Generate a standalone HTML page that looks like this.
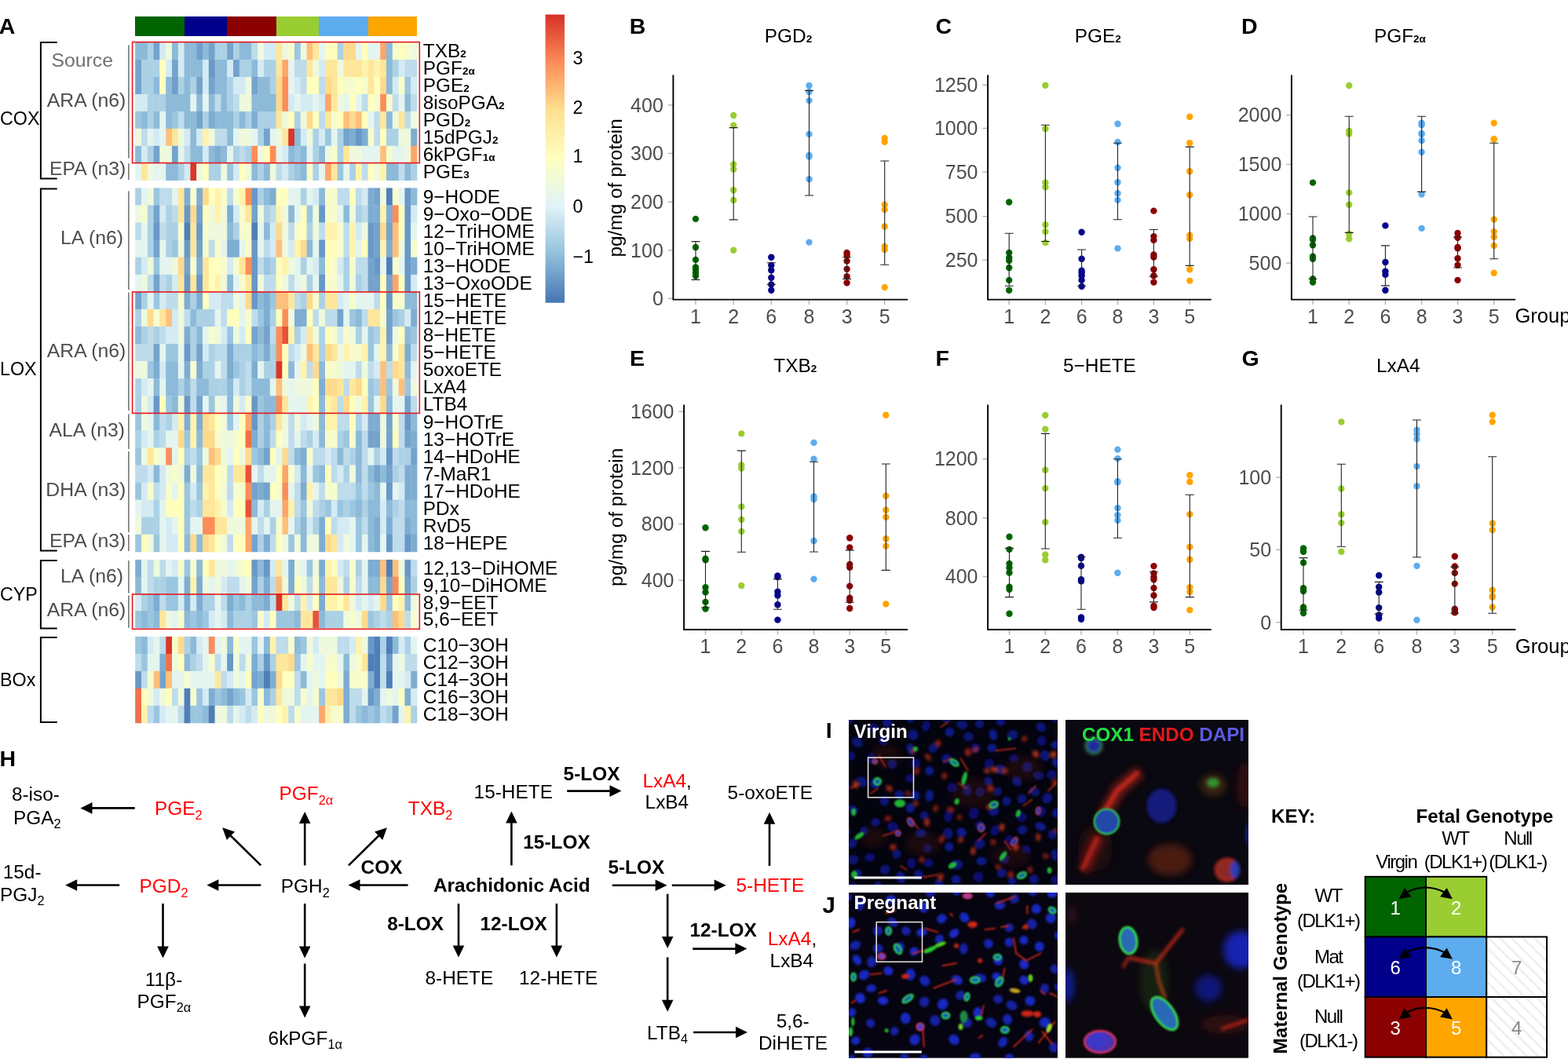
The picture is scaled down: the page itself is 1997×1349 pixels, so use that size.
<!DOCTYPE html><html><head><meta charset="utf-8"><title>Figure</title><style>html,body{margin:0;padding:0;background:#fff;overflow:hidden;}svg{display:block;}text{font-family:"Liberation Sans", Arial, sans-serif;}</style></head><body>
<svg width="1997" height="1349" viewBox="0 0 1997 1349">
<rect width="1997" height="1349" fill="#fff"/>
<g shape-rendering="crispEdges">
<rect x="172.20" y="21.2" width="8.10" height="24.4" fill="#006400"/>
<rect x="180.00" y="21.2" width="8.10" height="24.4" fill="#006400"/>
<rect x="187.80" y="21.2" width="8.10" height="24.4" fill="#006400"/>
<rect x="195.60" y="21.2" width="8.10" height="24.4" fill="#006400"/>
<rect x="203.40" y="21.2" width="8.10" height="24.4" fill="#006400"/>
<rect x="211.20" y="21.2" width="8.10" height="24.4" fill="#006400"/>
<rect x="219.00" y="21.2" width="8.10" height="24.4" fill="#006400"/>
<rect x="226.80" y="21.2" width="8.10" height="24.4" fill="#006400"/>
<rect x="234.60" y="21.2" width="8.10" height="24.4" fill="#00008B"/>
<rect x="242.40" y="21.2" width="8.10" height="24.4" fill="#00008B"/>
<rect x="250.20" y="21.2" width="8.10" height="24.4" fill="#00008B"/>
<rect x="258.00" y="21.2" width="8.10" height="24.4" fill="#00008B"/>
<rect x="265.80" y="21.2" width="8.10" height="24.4" fill="#00008B"/>
<rect x="273.60" y="21.2" width="8.10" height="24.4" fill="#00008B"/>
<rect x="281.40" y="21.2" width="8.10" height="24.4" fill="#00008B"/>
<rect x="289.20" y="21.2" width="8.10" height="24.4" fill="#8B0000"/>
<rect x="297.00" y="21.2" width="8.10" height="24.4" fill="#8B0000"/>
<rect x="304.80" y="21.2" width="8.10" height="24.4" fill="#8B0000"/>
<rect x="312.60" y="21.2" width="8.10" height="24.4" fill="#8B0000"/>
<rect x="320.40" y="21.2" width="8.10" height="24.4" fill="#8B0000"/>
<rect x="328.20" y="21.2" width="8.10" height="24.4" fill="#8B0000"/>
<rect x="336.00" y="21.2" width="8.10" height="24.4" fill="#8B0000"/>
<rect x="343.80" y="21.2" width="8.10" height="24.4" fill="#8B0000"/>
<rect x="351.60" y="21.2" width="8.10" height="24.4" fill="#9ACD32"/>
<rect x="359.40" y="21.2" width="8.10" height="24.4" fill="#9ACD32"/>
<rect x="367.20" y="21.2" width="8.10" height="24.4" fill="#9ACD32"/>
<rect x="375.00" y="21.2" width="8.10" height="24.4" fill="#9ACD32"/>
<rect x="382.80" y="21.2" width="8.10" height="24.4" fill="#9ACD32"/>
<rect x="390.60" y="21.2" width="8.10" height="24.4" fill="#9ACD32"/>
<rect x="398.40" y="21.2" width="8.10" height="24.4" fill="#9ACD32"/>
<rect x="406.20" y="21.2" width="8.10" height="24.4" fill="#5CACEE"/>
<rect x="414.00" y="21.2" width="8.10" height="24.4" fill="#5CACEE"/>
<rect x="421.80" y="21.2" width="8.10" height="24.4" fill="#5CACEE"/>
<rect x="429.60" y="21.2" width="8.10" height="24.4" fill="#5CACEE"/>
<rect x="437.40" y="21.2" width="8.10" height="24.4" fill="#5CACEE"/>
<rect x="445.20" y="21.2" width="8.10" height="24.4" fill="#5CACEE"/>
<rect x="453.00" y="21.2" width="8.10" height="24.4" fill="#5CACEE"/>
<rect x="460.80" y="21.2" width="8.10" height="24.4" fill="#5CACEE"/>
<rect x="468.60" y="21.2" width="8.10" height="24.4" fill="#FFA500"/>
<rect x="476.40" y="21.2" width="8.10" height="24.4" fill="#FFA500"/>
<rect x="484.20" y="21.2" width="8.10" height="24.4" fill="#FFA500"/>
<rect x="492.00" y="21.2" width="8.10" height="24.4" fill="#FFA500"/>
<rect x="499.80" y="21.2" width="8.10" height="24.4" fill="#FFA500"/>
<rect x="507.60" y="21.2" width="8.10" height="24.4" fill="#FFA500"/>
<rect x="515.40" y="21.2" width="8.10" height="24.4" fill="#FFA500"/>
<rect x="523.20" y="21.2" width="8.10" height="24.4" fill="#FFA500"/>
</g>
<g>
<rect x="172.20" y="54.10" width="8.15" height="22.30" fill="#8cbad8"/>
<rect x="180.00" y="54.10" width="8.15" height="22.30" fill="#8cbad8"/>
<rect x="187.80" y="54.10" width="8.15" height="22.30" fill="#acd1e5"/>
<rect x="195.60" y="54.10" width="8.15" height="22.30" fill="#74a3cc"/>
<rect x="203.40" y="54.10" width="8.15" height="22.30" fill="#d4ebf3"/>
<rect x="211.20" y="54.10" width="8.15" height="22.30" fill="#eef9dd"/>
<rect x="219.00" y="54.10" width="8.15" height="22.30" fill="#8cbad8"/>
<rect x="226.80" y="54.10" width="8.15" height="22.30" fill="#d4ebf3"/>
<rect x="234.60" y="54.10" width="8.15" height="22.30" fill="#8cbad8"/>
<rect x="242.40" y="54.10" width="8.15" height="22.30" fill="#8cbad8"/>
<rect x="250.20" y="54.10" width="8.15" height="22.30" fill="#709fca"/>
<rect x="258.00" y="54.10" width="8.15" height="22.30" fill="#8cbad8"/>
<rect x="265.80" y="54.10" width="8.15" height="22.30" fill="#74a3cc"/>
<rect x="273.60" y="54.10" width="8.15" height="22.30" fill="#acd1e5"/>
<rect x="281.40" y="54.10" width="8.15" height="22.30" fill="#acd1e5"/>
<rect x="289.20" y="54.10" width="8.15" height="22.30" fill="#74a3cc"/>
<rect x="297.00" y="54.10" width="8.15" height="22.30" fill="#acd1e5"/>
<rect x="304.80" y="54.10" width="8.15" height="22.30" fill="#8cbad8"/>
<rect x="312.60" y="54.10" width="8.15" height="22.30" fill="#8cbad8"/>
<rect x="320.40" y="54.10" width="8.15" height="22.30" fill="#bedceb"/>
<rect x="328.20" y="54.10" width="8.15" height="22.30" fill="#eef9dd"/>
<rect x="336.00" y="54.10" width="8.15" height="22.30" fill="#d4ebf3"/>
<rect x="343.80" y="54.10" width="8.15" height="22.30" fill="#d4ebf3"/>
<rect x="351.60" y="54.10" width="8.15" height="22.30" fill="#fee79b"/>
<rect x="359.40" y="54.10" width="8.15" height="22.30" fill="#eef9dd"/>
<rect x="367.20" y="54.10" width="8.15" height="22.30" fill="#f7fccd"/>
<rect x="375.00" y="54.10" width="8.15" height="22.30" fill="#9bc6df"/>
<rect x="382.80" y="54.10" width="8.15" height="22.30" fill="#eef9dd"/>
<rect x="390.60" y="54.10" width="8.15" height="22.30" fill="#fdc07b"/>
<rect x="398.40" y="54.10" width="8.15" height="22.30" fill="#fee79b"/>
<rect x="406.20" y="54.10" width="8.15" height="22.30" fill="#e4f5f0"/>
<rect x="414.00" y="54.10" width="8.15" height="22.30" fill="#fffebd"/>
<rect x="421.80" y="54.10" width="8.15" height="22.30" fill="#fffebd"/>
<rect x="429.60" y="54.10" width="8.15" height="22.30" fill="#acd1e5"/>
<rect x="437.40" y="54.10" width="8.15" height="22.30" fill="#feda8c"/>
<rect x="445.20" y="54.10" width="8.15" height="22.30" fill="#feda8c"/>
<rect x="453.00" y="54.10" width="8.15" height="22.30" fill="#e4f5f0"/>
<rect x="460.80" y="54.10" width="8.15" height="22.30" fill="#fffebd"/>
<rect x="468.60" y="54.10" width="8.15" height="22.30" fill="#e4f5f0"/>
<rect x="476.40" y="54.10" width="8.15" height="22.30" fill="#e4f5f0"/>
<rect x="484.20" y="54.10" width="8.15" height="22.30" fill="#fda66a"/>
<rect x="492.00" y="54.10" width="8.15" height="22.30" fill="#8cbad8"/>
<rect x="499.80" y="54.10" width="8.15" height="22.30" fill="#f7fccd"/>
<rect x="507.60" y="54.10" width="8.15" height="22.30" fill="#fffebd"/>
<rect x="515.40" y="54.10" width="8.15" height="22.30" fill="#f7fccd"/>
<rect x="523.20" y="54.10" width="8.15" height="22.30" fill="#eef9dd"/>
<rect x="172.20" y="76.05" width="8.15" height="22.30" fill="#74a3cc"/>
<rect x="180.00" y="76.05" width="8.15" height="22.30" fill="#acd1e5"/>
<rect x="187.80" y="76.05" width="8.15" height="22.30" fill="#acd1e5"/>
<rect x="195.60" y="76.05" width="8.15" height="22.30" fill="#acd1e5"/>
<rect x="203.40" y="76.05" width="8.15" height="22.30" fill="#fffebd"/>
<rect x="211.20" y="76.05" width="8.15" height="22.30" fill="#d4ebf3"/>
<rect x="219.00" y="76.05" width="8.15" height="22.30" fill="#74a3cc"/>
<rect x="226.80" y="76.05" width="8.15" height="22.30" fill="#d4ebf3"/>
<rect x="234.60" y="76.05" width="8.15" height="22.30" fill="#8cbad8"/>
<rect x="242.40" y="76.05" width="8.15" height="22.30" fill="#8cbad8"/>
<rect x="250.20" y="76.05" width="8.15" height="22.30" fill="#8cbad8"/>
<rect x="258.00" y="76.05" width="8.15" height="22.30" fill="#d4ebf3"/>
<rect x="265.80" y="76.05" width="8.15" height="22.30" fill="#6998c7"/>
<rect x="273.60" y="76.05" width="8.15" height="22.30" fill="#8cbad8"/>
<rect x="281.40" y="76.05" width="8.15" height="22.30" fill="#8cbad8"/>
<rect x="289.20" y="76.05" width="8.15" height="22.30" fill="#d4ebf3"/>
<rect x="297.00" y="76.05" width="8.15" height="22.30" fill="#74a3cc"/>
<rect x="304.80" y="76.05" width="8.15" height="22.30" fill="#acd1e5"/>
<rect x="312.60" y="76.05" width="8.15" height="22.30" fill="#acd1e5"/>
<rect x="320.40" y="76.05" width="8.15" height="22.30" fill="#8cbad8"/>
<rect x="328.20" y="76.05" width="8.15" height="22.30" fill="#d4ebf3"/>
<rect x="336.00" y="76.05" width="8.15" height="22.30" fill="#acd1e5"/>
<rect x="343.80" y="76.05" width="8.15" height="22.30" fill="#acd1e5"/>
<rect x="351.60" y="76.05" width="8.15" height="22.30" fill="#fee79b"/>
<rect x="359.40" y="76.05" width="8.15" height="22.30" fill="#fda66a"/>
<rect x="367.20" y="76.05" width="8.15" height="22.30" fill="#e4f5f0"/>
<rect x="375.00" y="76.05" width="8.15" height="22.30" fill="#bedceb"/>
<rect x="382.80" y="76.05" width="8.15" height="22.30" fill="#bedceb"/>
<rect x="390.60" y="76.05" width="8.15" height="22.30" fill="#fee79b"/>
<rect x="398.40" y="76.05" width="8.15" height="22.30" fill="#eef9dd"/>
<rect x="406.20" y="76.05" width="8.15" height="22.30" fill="#d4ebf3"/>
<rect x="414.00" y="76.05" width="8.15" height="22.30" fill="#fee79b"/>
<rect x="421.80" y="76.05" width="8.15" height="22.30" fill="#fee79b"/>
<rect x="429.60" y="76.05" width="8.15" height="22.30" fill="#eef9dd"/>
<rect x="437.40" y="76.05" width="8.15" height="22.30" fill="#fee79b"/>
<rect x="445.20" y="76.05" width="8.15" height="22.30" fill="#fee79b"/>
<rect x="453.00" y="76.05" width="8.15" height="22.30" fill="#fee79b"/>
<rect x="460.80" y="76.05" width="8.15" height="22.30" fill="#fff3ac"/>
<rect x="468.60" y="76.05" width="8.15" height="22.30" fill="#fee79b"/>
<rect x="476.40" y="76.05" width="8.15" height="22.30" fill="#fff3ac"/>
<rect x="484.20" y="76.05" width="8.15" height="22.30" fill="#fee79b"/>
<rect x="492.00" y="76.05" width="8.15" height="22.30" fill="#8cbad8"/>
<rect x="499.80" y="76.05" width="8.15" height="22.30" fill="#acd1e5"/>
<rect x="507.60" y="76.05" width="8.15" height="22.30" fill="#d4ebf3"/>
<rect x="515.40" y="76.05" width="8.15" height="22.30" fill="#bedceb"/>
<rect x="523.20" y="76.05" width="8.15" height="22.30" fill="#bedceb"/>
<rect x="172.20" y="98.00" width="8.15" height="22.30" fill="#74a3cc"/>
<rect x="180.00" y="98.00" width="8.15" height="22.30" fill="#acd1e5"/>
<rect x="187.80" y="98.00" width="8.15" height="22.30" fill="#acd1e5"/>
<rect x="195.60" y="98.00" width="8.15" height="22.30" fill="#8cbad8"/>
<rect x="203.40" y="98.00" width="8.15" height="22.30" fill="#fffebd"/>
<rect x="211.20" y="98.00" width="8.15" height="22.30" fill="#8cbad8"/>
<rect x="219.00" y="98.00" width="8.15" height="22.30" fill="#709fca"/>
<rect x="226.80" y="98.00" width="8.15" height="22.30" fill="#acd1e5"/>
<rect x="234.60" y="98.00" width="8.15" height="22.30" fill="#8cbad8"/>
<rect x="242.40" y="98.00" width="8.15" height="22.30" fill="#acd1e5"/>
<rect x="250.20" y="98.00" width="8.15" height="22.30" fill="#74a3cc"/>
<rect x="258.00" y="98.00" width="8.15" height="22.30" fill="#d4ebf3"/>
<rect x="265.80" y="98.00" width="8.15" height="22.30" fill="#74a3cc"/>
<rect x="273.60" y="98.00" width="8.15" height="22.30" fill="#8cbad8"/>
<rect x="281.40" y="98.00" width="8.15" height="22.30" fill="#8cbad8"/>
<rect x="289.20" y="98.00" width="8.15" height="22.30" fill="#acd1e5"/>
<rect x="297.00" y="98.00" width="8.15" height="22.30" fill="#d4ebf3"/>
<rect x="304.80" y="98.00" width="8.15" height="22.30" fill="#d4ebf3"/>
<rect x="312.60" y="98.00" width="8.15" height="22.30" fill="#eef9dd"/>
<rect x="320.40" y="98.00" width="8.15" height="22.30" fill="#74a3cc"/>
<rect x="328.20" y="98.00" width="8.15" height="22.30" fill="#8cbad8"/>
<rect x="336.00" y="98.00" width="8.15" height="22.30" fill="#8cbad8"/>
<rect x="343.80" y="98.00" width="8.15" height="22.30" fill="#acd1e5"/>
<rect x="351.60" y="98.00" width="8.15" height="22.30" fill="#feda8c"/>
<rect x="359.40" y="98.00" width="8.15" height="22.30" fill="#fc8d59"/>
<rect x="367.20" y="98.00" width="8.15" height="22.30" fill="#e4f5f0"/>
<rect x="375.00" y="98.00" width="8.15" height="22.30" fill="#d4ebf3"/>
<rect x="382.80" y="98.00" width="8.15" height="22.30" fill="#bedceb"/>
<rect x="390.60" y="98.00" width="8.15" height="22.30" fill="#fffebd"/>
<rect x="398.40" y="98.00" width="8.15" height="22.30" fill="#fffebd"/>
<rect x="406.20" y="98.00" width="8.15" height="22.30" fill="#bedceb"/>
<rect x="414.00" y="98.00" width="8.15" height="22.30" fill="#feda8c"/>
<rect x="421.80" y="98.00" width="8.15" height="22.30" fill="#fee79b"/>
<rect x="429.60" y="98.00" width="8.15" height="22.30" fill="#fffebd"/>
<rect x="437.40" y="98.00" width="8.15" height="22.30" fill="#f7fccd"/>
<rect x="445.20" y="98.00" width="8.15" height="22.30" fill="#f7fccd"/>
<rect x="453.00" y="98.00" width="8.15" height="22.30" fill="#fffebd"/>
<rect x="460.80" y="98.00" width="8.15" height="22.30" fill="#f7fccd"/>
<rect x="468.60" y="98.00" width="8.15" height="22.30" fill="#fee79b"/>
<rect x="476.40" y="98.00" width="8.15" height="22.30" fill="#fffebd"/>
<rect x="484.20" y="98.00" width="8.15" height="22.30" fill="#feda8c"/>
<rect x="492.00" y="98.00" width="8.15" height="22.30" fill="#8cbad8"/>
<rect x="499.80" y="98.00" width="8.15" height="22.30" fill="#d4ebf3"/>
<rect x="507.60" y="98.00" width="8.15" height="22.30" fill="#f7fccd"/>
<rect x="515.40" y="98.00" width="8.15" height="22.30" fill="#9bc6df"/>
<rect x="523.20" y="98.00" width="8.15" height="22.30" fill="#d4ebf3"/>
<rect x="172.20" y="119.95" width="8.15" height="22.30" fill="#d4ebf3"/>
<rect x="180.00" y="119.95" width="8.15" height="22.30" fill="#d4ebf3"/>
<rect x="187.80" y="119.95" width="8.15" height="22.30" fill="#acd1e5"/>
<rect x="195.60" y="119.95" width="8.15" height="22.30" fill="#acd1e5"/>
<rect x="203.40" y="119.95" width="8.15" height="22.30" fill="#acd1e5"/>
<rect x="211.20" y="119.95" width="8.15" height="22.30" fill="#8cbad8"/>
<rect x="219.00" y="119.95" width="8.15" height="22.30" fill="#8cbad8"/>
<rect x="226.80" y="119.95" width="8.15" height="22.30" fill="#8cbad8"/>
<rect x="234.60" y="119.95" width="8.15" height="22.30" fill="#8cbad8"/>
<rect x="242.40" y="119.95" width="8.15" height="22.30" fill="#e4f5f0"/>
<rect x="250.20" y="119.95" width="8.15" height="22.30" fill="#8cbad8"/>
<rect x="258.00" y="119.95" width="8.15" height="22.30" fill="#e4f5f0"/>
<rect x="265.80" y="119.95" width="8.15" height="22.30" fill="#8cbad8"/>
<rect x="273.60" y="119.95" width="8.15" height="22.30" fill="#bedceb"/>
<rect x="281.40" y="119.95" width="8.15" height="22.30" fill="#8cbad8"/>
<rect x="289.20" y="119.95" width="8.15" height="22.30" fill="#acd1e5"/>
<rect x="297.00" y="119.95" width="8.15" height="22.30" fill="#bedceb"/>
<rect x="304.80" y="119.95" width="8.15" height="22.30" fill="#eef9dd"/>
<rect x="312.60" y="119.95" width="8.15" height="22.30" fill="#eef9dd"/>
<rect x="320.40" y="119.95" width="8.15" height="22.30" fill="#8cbad8"/>
<rect x="328.20" y="119.95" width="8.15" height="22.30" fill="#8cbad8"/>
<rect x="336.00" y="119.95" width="8.15" height="22.30" fill="#8cbad8"/>
<rect x="343.80" y="119.95" width="8.15" height="22.30" fill="#8cbad8"/>
<rect x="351.60" y="119.95" width="8.15" height="22.30" fill="#feda8c"/>
<rect x="359.40" y="119.95" width="8.15" height="22.30" fill="#fc8d59"/>
<rect x="367.20" y="119.95" width="8.15" height="22.30" fill="#d4ebf3"/>
<rect x="375.00" y="119.95" width="8.15" height="22.30" fill="#e4f5f0"/>
<rect x="382.80" y="119.95" width="8.15" height="22.30" fill="#d4ebf3"/>
<rect x="390.60" y="119.95" width="8.15" height="22.30" fill="#d4ebf3"/>
<rect x="398.40" y="119.95" width="8.15" height="22.30" fill="#e4f5f0"/>
<rect x="406.20" y="119.95" width="8.15" height="22.30" fill="#d4ebf3"/>
<rect x="414.00" y="119.95" width="8.15" height="22.30" fill="#fda66a"/>
<rect x="421.80" y="119.95" width="8.15" height="22.30" fill="#fee79b"/>
<rect x="429.60" y="119.95" width="8.15" height="22.30" fill="#eef9dd"/>
<rect x="437.40" y="119.95" width="8.15" height="22.30" fill="#e4f5f0"/>
<rect x="445.20" y="119.95" width="8.15" height="22.30" fill="#fffebd"/>
<rect x="453.00" y="119.95" width="8.15" height="22.30" fill="#e4f5f0"/>
<rect x="460.80" y="119.95" width="8.15" height="22.30" fill="#bedceb"/>
<rect x="468.60" y="119.95" width="8.15" height="22.30" fill="#fffebd"/>
<rect x="476.40" y="119.95" width="8.15" height="22.30" fill="#f7fccd"/>
<rect x="484.20" y="119.95" width="8.15" height="22.30" fill="#fc8d59"/>
<rect x="492.00" y="119.95" width="8.15" height="22.30" fill="#f7fccd"/>
<rect x="499.80" y="119.95" width="8.15" height="22.30" fill="#bedceb"/>
<rect x="507.60" y="119.95" width="8.15" height="22.30" fill="#e4f5f0"/>
<rect x="515.40" y="119.95" width="8.15" height="22.30" fill="#8cbad8"/>
<rect x="523.20" y="119.95" width="8.15" height="22.30" fill="#bedceb"/>
<rect x="172.20" y="141.90" width="8.15" height="22.30" fill="#9bc6df"/>
<rect x="180.00" y="141.90" width="8.15" height="22.30" fill="#8cbad8"/>
<rect x="187.80" y="141.90" width="8.15" height="22.30" fill="#acd1e5"/>
<rect x="195.60" y="141.90" width="8.15" height="22.30" fill="#8cbad8"/>
<rect x="203.40" y="141.90" width="8.15" height="22.30" fill="#e4f5f0"/>
<rect x="211.20" y="141.90" width="8.15" height="22.30" fill="#8cbad8"/>
<rect x="219.00" y="141.90" width="8.15" height="22.30" fill="#9bc6df"/>
<rect x="226.80" y="141.90" width="8.15" height="22.30" fill="#bedceb"/>
<rect x="234.60" y="141.90" width="8.15" height="22.30" fill="#8cbad8"/>
<rect x="242.40" y="141.90" width="8.15" height="22.30" fill="#8cbad8"/>
<rect x="250.20" y="141.90" width="8.15" height="22.30" fill="#74a3cc"/>
<rect x="258.00" y="141.90" width="8.15" height="22.30" fill="#acd1e5"/>
<rect x="265.80" y="141.90" width="8.15" height="22.30" fill="#7eadd2"/>
<rect x="273.60" y="141.90" width="8.15" height="22.30" fill="#8cbad8"/>
<rect x="281.40" y="141.90" width="8.15" height="22.30" fill="#8cbad8"/>
<rect x="289.20" y="141.90" width="8.15" height="22.30" fill="#8cbad8"/>
<rect x="297.00" y="141.90" width="8.15" height="22.30" fill="#acd1e5"/>
<rect x="304.80" y="141.90" width="8.15" height="22.30" fill="#8cbad8"/>
<rect x="312.60" y="141.90" width="8.15" height="22.30" fill="#acd1e5"/>
<rect x="320.40" y="141.90" width="8.15" height="22.30" fill="#7eadd2"/>
<rect x="328.20" y="141.90" width="8.15" height="22.30" fill="#acd1e5"/>
<rect x="336.00" y="141.90" width="8.15" height="22.30" fill="#acd1e5"/>
<rect x="343.80" y="141.90" width="8.15" height="22.30" fill="#acd1e5"/>
<rect x="351.60" y="141.90" width="8.15" height="22.30" fill="#fee79b"/>
<rect x="359.40" y="141.90" width="8.15" height="22.30" fill="#eef9dd"/>
<rect x="367.20" y="141.90" width="8.15" height="22.30" fill="#fffebd"/>
<rect x="375.00" y="141.90" width="8.15" height="22.30" fill="#acd1e5"/>
<rect x="382.80" y="141.90" width="8.15" height="22.30" fill="#eef9dd"/>
<rect x="390.60" y="141.90" width="8.15" height="22.30" fill="#feda8c"/>
<rect x="398.40" y="141.90" width="8.15" height="22.30" fill="#fffebd"/>
<rect x="406.20" y="141.90" width="8.15" height="22.30" fill="#bedceb"/>
<rect x="414.00" y="141.90" width="8.15" height="22.30" fill="#fee79b"/>
<rect x="421.80" y="141.90" width="8.15" height="22.30" fill="#f7fccd"/>
<rect x="429.60" y="141.90" width="8.15" height="22.30" fill="#fffebd"/>
<rect x="437.40" y="141.90" width="8.15" height="22.30" fill="#fdc07b"/>
<rect x="445.20" y="141.90" width="8.15" height="22.30" fill="#feda8c"/>
<rect x="453.00" y="141.90" width="8.15" height="22.30" fill="#fdc07b"/>
<rect x="460.80" y="141.90" width="8.15" height="22.30" fill="#fffebd"/>
<rect x="468.60" y="141.90" width="8.15" height="22.30" fill="#e4f5f0"/>
<rect x="476.40" y="141.90" width="8.15" height="22.30" fill="#bedceb"/>
<rect x="484.20" y="141.90" width="8.15" height="22.30" fill="#fee79b"/>
<rect x="492.00" y="141.90" width="8.15" height="22.30" fill="#8cbad8"/>
<rect x="499.80" y="141.90" width="8.15" height="22.30" fill="#eef9dd"/>
<rect x="507.60" y="141.90" width="8.15" height="22.30" fill="#fee79b"/>
<rect x="515.40" y="141.90" width="8.15" height="22.30" fill="#bedceb"/>
<rect x="523.20" y="141.90" width="8.15" height="22.30" fill="#eef9dd"/>
<rect x="172.20" y="163.85" width="8.15" height="22.30" fill="#eef9dd"/>
<rect x="180.00" y="163.85" width="8.15" height="22.30" fill="#bedceb"/>
<rect x="187.80" y="163.85" width="8.15" height="22.30" fill="#e4f5f0"/>
<rect x="195.60" y="163.85" width="8.15" height="22.30" fill="#d4ebf3"/>
<rect x="203.40" y="163.85" width="8.15" height="22.30" fill="#e4f5f0"/>
<rect x="211.20" y="163.85" width="8.15" height="22.30" fill="#fdc07b"/>
<rect x="219.00" y="163.85" width="8.15" height="22.30" fill="#fee79b"/>
<rect x="226.80" y="163.85" width="8.15" height="22.30" fill="#eef9dd"/>
<rect x="234.60" y="163.85" width="8.15" height="22.30" fill="#d4ebf3"/>
<rect x="242.40" y="163.85" width="8.15" height="22.30" fill="#8cbad8"/>
<rect x="250.20" y="163.85" width="8.15" height="22.30" fill="#d4ebf3"/>
<rect x="258.00" y="163.85" width="8.15" height="22.30" fill="#fff3ac"/>
<rect x="265.80" y="163.85" width="8.15" height="22.30" fill="#eef9dd"/>
<rect x="273.60" y="163.85" width="8.15" height="22.30" fill="#bedceb"/>
<rect x="281.40" y="163.85" width="8.15" height="22.30" fill="#bedceb"/>
<rect x="289.20" y="163.85" width="8.15" height="22.30" fill="#8cbad8"/>
<rect x="297.00" y="163.85" width="8.15" height="22.30" fill="#e4f5f0"/>
<rect x="304.80" y="163.85" width="8.15" height="22.30" fill="#eef9dd"/>
<rect x="312.60" y="163.85" width="8.15" height="22.30" fill="#eef9dd"/>
<rect x="320.40" y="163.85" width="8.15" height="22.30" fill="#e4f5f0"/>
<rect x="328.20" y="163.85" width="8.15" height="22.30" fill="#acd1e5"/>
<rect x="336.00" y="163.85" width="8.15" height="22.30" fill="#74a3cc"/>
<rect x="343.80" y="163.85" width="8.15" height="22.30" fill="#e4f5f0"/>
<rect x="351.60" y="163.85" width="8.15" height="22.30" fill="#eef9dd"/>
<rect x="359.40" y="163.85" width="8.15" height="22.30" fill="#fee79b"/>
<rect x="367.20" y="163.85" width="8.15" height="22.30" fill="#d9362a"/>
<rect x="375.00" y="163.85" width="8.15" height="22.30" fill="#8cbad8"/>
<rect x="382.80" y="163.85" width="8.15" height="22.30" fill="#d4ebf3"/>
<rect x="390.60" y="163.85" width="8.15" height="22.30" fill="#eef9dd"/>
<rect x="398.40" y="163.85" width="8.15" height="22.30" fill="#acd1e5"/>
<rect x="406.20" y="163.85" width="8.15" height="22.30" fill="#d4ebf3"/>
<rect x="414.00" y="163.85" width="8.15" height="22.30" fill="#9bc6df"/>
<rect x="421.80" y="163.85" width="8.15" height="22.30" fill="#e4f5f0"/>
<rect x="429.60" y="163.85" width="8.15" height="22.30" fill="#acd1e5"/>
<rect x="437.40" y="163.85" width="8.15" height="22.30" fill="#74a3cc"/>
<rect x="445.20" y="163.85" width="8.15" height="22.30" fill="#7eadd2"/>
<rect x="453.00" y="163.85" width="8.15" height="22.30" fill="#6998c7"/>
<rect x="460.80" y="163.85" width="8.15" height="22.30" fill="#7eadd2"/>
<rect x="468.60" y="163.85" width="8.15" height="22.30" fill="#f7fccd"/>
<rect x="476.40" y="163.85" width="8.15" height="22.30" fill="#bedceb"/>
<rect x="484.20" y="163.85" width="8.15" height="22.30" fill="#fffebd"/>
<rect x="492.00" y="163.85" width="8.15" height="22.30" fill="#acd1e5"/>
<rect x="499.80" y="163.85" width="8.15" height="22.30" fill="#acd1e5"/>
<rect x="507.60" y="163.85" width="8.15" height="22.30" fill="#eef9dd"/>
<rect x="515.40" y="163.85" width="8.15" height="22.30" fill="#eef9dd"/>
<rect x="523.20" y="163.85" width="8.15" height="22.30" fill="#7eadd2"/>
<rect x="172.20" y="185.80" width="8.15" height="22.30" fill="#8cbad8"/>
<rect x="180.00" y="185.80" width="8.15" height="22.30" fill="#d4ebf3"/>
<rect x="187.80" y="185.80" width="8.15" height="22.30" fill="#acd1e5"/>
<rect x="195.60" y="185.80" width="8.15" height="22.30" fill="#74a3cc"/>
<rect x="203.40" y="185.80" width="8.15" height="22.30" fill="#eef9dd"/>
<rect x="211.20" y="185.80" width="8.15" height="22.30" fill="#eef9dd"/>
<rect x="219.00" y="185.80" width="8.15" height="22.30" fill="#74a3cc"/>
<rect x="226.80" y="185.80" width="8.15" height="22.30" fill="#e4f5f0"/>
<rect x="234.60" y="185.80" width="8.15" height="22.30" fill="#bedceb"/>
<rect x="242.40" y="185.80" width="8.15" height="22.30" fill="#8cbad8"/>
<rect x="250.20" y="185.80" width="8.15" height="22.30" fill="#8cbad8"/>
<rect x="258.00" y="185.80" width="8.15" height="22.30" fill="#d4ebf3"/>
<rect x="265.80" y="185.80" width="8.15" height="22.30" fill="#8cbad8"/>
<rect x="273.60" y="185.80" width="8.15" height="22.30" fill="#7eadd2"/>
<rect x="281.40" y="185.80" width="8.15" height="22.30" fill="#8cbad8"/>
<rect x="289.20" y="185.80" width="8.15" height="22.30" fill="#e4f5f0"/>
<rect x="297.00" y="185.80" width="8.15" height="22.30" fill="#acd1e5"/>
<rect x="304.80" y="185.80" width="8.15" height="22.30" fill="#bedceb"/>
<rect x="312.60" y="185.80" width="8.15" height="22.30" fill="#acd1e5"/>
<rect x="320.40" y="185.80" width="8.15" height="22.30" fill="#fc8d59"/>
<rect x="328.20" y="185.80" width="8.15" height="22.30" fill="#eef9dd"/>
<rect x="336.00" y="185.80" width="8.15" height="22.30" fill="#fffebd"/>
<rect x="343.80" y="185.80" width="8.15" height="22.30" fill="#fc8d59"/>
<rect x="351.60" y="185.80" width="8.15" height="22.30" fill="#e4f5f0"/>
<rect x="359.40" y="185.80" width="8.15" height="22.30" fill="#d4ebf3"/>
<rect x="367.20" y="185.80" width="8.15" height="22.30" fill="#8cbad8"/>
<rect x="375.00" y="185.80" width="8.15" height="22.30" fill="#9bc6df"/>
<rect x="382.80" y="185.80" width="8.15" height="22.30" fill="#8cbad8"/>
<rect x="390.60" y="185.80" width="8.15" height="22.30" fill="#e4f5f0"/>
<rect x="398.40" y="185.80" width="8.15" height="22.30" fill="#acd1e5"/>
<rect x="406.20" y="185.80" width="8.15" height="22.30" fill="#8cbad8"/>
<rect x="414.00" y="185.80" width="8.15" height="22.30" fill="#eef9dd"/>
<rect x="421.80" y="185.80" width="8.15" height="22.30" fill="#f7fccd"/>
<rect x="429.60" y="185.80" width="8.15" height="22.30" fill="#acd1e5"/>
<rect x="437.40" y="185.80" width="8.15" height="22.30" fill="#fee79b"/>
<rect x="445.20" y="185.80" width="8.15" height="22.30" fill="#eef9dd"/>
<rect x="453.00" y="185.80" width="8.15" height="22.30" fill="#eef9dd"/>
<rect x="460.80" y="185.80" width="8.15" height="22.30" fill="#e4f5f0"/>
<rect x="468.60" y="185.80" width="8.15" height="22.30" fill="#e4f5f0"/>
<rect x="476.40" y="185.80" width="8.15" height="22.30" fill="#e4f5f0"/>
<rect x="484.20" y="185.80" width="8.15" height="22.30" fill="#fdc07b"/>
<rect x="492.00" y="185.80" width="8.15" height="22.30" fill="#f7fccd"/>
<rect x="499.80" y="185.80" width="8.15" height="22.30" fill="#e4f5f0"/>
<rect x="507.60" y="185.80" width="8.15" height="22.30" fill="#e4f5f0"/>
<rect x="515.40" y="185.80" width="8.15" height="22.30" fill="#eef9dd"/>
<rect x="523.20" y="185.80" width="8.15" height="22.30" fill="#fda66a"/>
<rect x="172.20" y="207.75" width="8.15" height="22.30" fill="#e4f5f0"/>
<rect x="180.00" y="207.75" width="8.15" height="22.30" fill="#fee79b"/>
<rect x="187.80" y="207.75" width="8.15" height="22.30" fill="#eef9dd"/>
<rect x="195.60" y="207.75" width="8.15" height="22.30" fill="#e4f5f0"/>
<rect x="203.40" y="207.75" width="8.15" height="22.30" fill="#e4f5f0"/>
<rect x="211.20" y="207.75" width="8.15" height="22.30" fill="#8cbad8"/>
<rect x="219.00" y="207.75" width="8.15" height="22.30" fill="#8cbad8"/>
<rect x="226.80" y="207.75" width="8.15" height="22.30" fill="#acd1e5"/>
<rect x="234.60" y="207.75" width="8.15" height="22.30" fill="#d4ebf3"/>
<rect x="242.40" y="207.75" width="8.15" height="22.30" fill="#d9362a"/>
<rect x="250.20" y="207.75" width="8.15" height="22.30" fill="#eef9dd"/>
<rect x="258.00" y="207.75" width="8.15" height="22.30" fill="#fffebd"/>
<rect x="265.80" y="207.75" width="8.15" height="22.30" fill="#acd1e5"/>
<rect x="273.60" y="207.75" width="8.15" height="22.30" fill="#acd1e5"/>
<rect x="281.40" y="207.75" width="8.15" height="22.30" fill="#eef9dd"/>
<rect x="289.20" y="207.75" width="8.15" height="22.30" fill="#9bc6df"/>
<rect x="297.00" y="207.75" width="8.15" height="22.30" fill="#d4ebf3"/>
<rect x="304.80" y="207.75" width="8.15" height="22.30" fill="#fffebd"/>
<rect x="312.60" y="207.75" width="8.15" height="22.30" fill="#eef9dd"/>
<rect x="320.40" y="207.75" width="8.15" height="22.30" fill="#8cbad8"/>
<rect x="328.20" y="207.75" width="8.15" height="22.30" fill="#acd1e5"/>
<rect x="336.00" y="207.75" width="8.15" height="22.30" fill="#8cbad8"/>
<rect x="343.80" y="207.75" width="8.15" height="22.30" fill="#eef9dd"/>
<rect x="351.60" y="207.75" width="8.15" height="22.30" fill="#bedceb"/>
<rect x="359.40" y="207.75" width="8.15" height="22.30" fill="#d4ebf3"/>
<rect x="367.20" y="207.75" width="8.15" height="22.30" fill="#acd1e5"/>
<rect x="375.00" y="207.75" width="8.15" height="22.30" fill="#9bc6df"/>
<rect x="382.80" y="207.75" width="8.15" height="22.30" fill="#8cbad8"/>
<rect x="390.60" y="207.75" width="8.15" height="22.30" fill="#f7fccd"/>
<rect x="398.40" y="207.75" width="8.15" height="22.30" fill="#acd1e5"/>
<rect x="406.20" y="207.75" width="8.15" height="22.30" fill="#e4f5f0"/>
<rect x="414.00" y="207.75" width="8.15" height="22.30" fill="#fda66a"/>
<rect x="421.80" y="207.75" width="8.15" height="22.30" fill="#fee79b"/>
<rect x="429.60" y="207.75" width="8.15" height="22.30" fill="#9bc6df"/>
<rect x="437.40" y="207.75" width="8.15" height="22.30" fill="#e4f5f0"/>
<rect x="445.20" y="207.75" width="8.15" height="22.30" fill="#acd1e5"/>
<rect x="453.00" y="207.75" width="8.15" height="22.30" fill="#fff3ac"/>
<rect x="460.80" y="207.75" width="8.15" height="22.30" fill="#bedceb"/>
<rect x="468.60" y="207.75" width="8.15" height="22.30" fill="#fffebd"/>
<rect x="476.40" y="207.75" width="8.15" height="22.30" fill="#eef9dd"/>
<rect x="484.20" y="207.75" width="8.15" height="22.30" fill="#fff3ac"/>
<rect x="492.00" y="207.75" width="8.15" height="22.30" fill="#8cbad8"/>
<rect x="499.80" y="207.75" width="8.15" height="22.30" fill="#8cbad8"/>
<rect x="507.60" y="207.75" width="8.15" height="22.30" fill="#bedceb"/>
<rect x="515.40" y="207.75" width="8.15" height="22.30" fill="#8cbad8"/>
<rect x="523.20" y="207.75" width="8.15" height="22.30" fill="#acd1e5"/>
<rect x="172.20" y="239.40" width="8.15" height="22.42" fill="#acd1e5"/>
<rect x="180.00" y="239.40" width="8.15" height="22.42" fill="#e4f5f0"/>
<rect x="187.80" y="239.40" width="8.15" height="22.42" fill="#eef9dd"/>
<rect x="195.60" y="239.40" width="8.15" height="22.42" fill="#9bc6df"/>
<rect x="203.40" y="239.40" width="8.15" height="22.42" fill="#bedceb"/>
<rect x="211.20" y="239.40" width="8.15" height="22.42" fill="#bedceb"/>
<rect x="219.00" y="239.40" width="8.15" height="22.42" fill="#e4f5f0"/>
<rect x="226.80" y="239.40" width="8.15" height="22.42" fill="#fee79b"/>
<rect x="234.60" y="239.40" width="8.15" height="22.42" fill="#7eadd2"/>
<rect x="242.40" y="239.40" width="8.15" height="22.42" fill="#f7fccd"/>
<rect x="250.20" y="239.40" width="8.15" height="22.42" fill="#7eadd2"/>
<rect x="258.00" y="239.40" width="8.15" height="22.42" fill="#feda8c"/>
<rect x="265.80" y="239.40" width="8.15" height="22.42" fill="#fffebd"/>
<rect x="273.60" y="239.40" width="8.15" height="22.42" fill="#fff3ac"/>
<rect x="281.40" y="239.40" width="8.15" height="22.42" fill="#f7fccd"/>
<rect x="289.20" y="239.40" width="8.15" height="22.42" fill="#bedceb"/>
<rect x="297.00" y="239.40" width="8.15" height="22.42" fill="#f7fccd"/>
<rect x="304.80" y="239.40" width="8.15" height="22.42" fill="#fff3ac"/>
<rect x="312.60" y="239.40" width="8.15" height="22.42" fill="#fc8d59"/>
<rect x="320.40" y="239.40" width="8.15" height="22.42" fill="#6998c7"/>
<rect x="328.20" y="239.40" width="8.15" height="22.42" fill="#acd1e5"/>
<rect x="336.00" y="239.40" width="8.15" height="22.42" fill="#8cbad8"/>
<rect x="343.80" y="239.40" width="8.15" height="22.42" fill="#7eadd2"/>
<rect x="351.60" y="239.40" width="8.15" height="22.42" fill="#fffebd"/>
<rect x="359.40" y="239.40" width="8.15" height="22.42" fill="#fffebd"/>
<rect x="367.20" y="239.40" width="8.15" height="22.42" fill="#e4f5f0"/>
<rect x="375.00" y="239.40" width="8.15" height="22.42" fill="#e4f5f0"/>
<rect x="382.80" y="239.40" width="8.15" height="22.42" fill="#acd1e5"/>
<rect x="390.60" y="239.40" width="8.15" height="22.42" fill="#e4f5f0"/>
<rect x="398.40" y="239.40" width="8.15" height="22.42" fill="#d4ebf3"/>
<rect x="406.20" y="239.40" width="8.15" height="22.42" fill="#8cbad8"/>
<rect x="414.00" y="239.40" width="8.15" height="22.42" fill="#f7fccd"/>
<rect x="421.80" y="239.40" width="8.15" height="22.42" fill="#f7fccd"/>
<rect x="429.60" y="239.40" width="8.15" height="22.42" fill="#bedceb"/>
<rect x="437.40" y="239.40" width="8.15" height="22.42" fill="#bedceb"/>
<rect x="445.20" y="239.40" width="8.15" height="22.42" fill="#fffebd"/>
<rect x="453.00" y="239.40" width="8.15" height="22.42" fill="#bedceb"/>
<rect x="460.80" y="239.40" width="8.15" height="22.42" fill="#d4ebf3"/>
<rect x="468.60" y="239.40" width="8.15" height="22.42" fill="#7eadd2"/>
<rect x="476.40" y="239.40" width="8.15" height="22.42" fill="#74a3cc"/>
<rect x="484.20" y="239.40" width="8.15" height="22.42" fill="#eef9dd"/>
<rect x="492.00" y="239.40" width="8.15" height="22.42" fill="#4f7fb9"/>
<rect x="499.80" y="239.40" width="8.15" height="22.42" fill="#f7fccd"/>
<rect x="507.60" y="239.40" width="8.15" height="22.42" fill="#e4f5f0"/>
<rect x="515.40" y="239.40" width="8.15" height="22.42" fill="#6998c7"/>
<rect x="523.20" y="239.40" width="8.15" height="22.42" fill="#8cbad8"/>
<rect x="172.20" y="261.47" width="8.15" height="22.42" fill="#eef9dd"/>
<rect x="180.00" y="261.47" width="8.15" height="22.42" fill="#f7fccd"/>
<rect x="187.80" y="261.47" width="8.15" height="22.42" fill="#acd1e5"/>
<rect x="195.60" y="261.47" width="8.15" height="22.42" fill="#74a3cc"/>
<rect x="203.40" y="261.47" width="8.15" height="22.42" fill="#d4ebf3"/>
<rect x="211.20" y="261.47" width="8.15" height="22.42" fill="#acd1e5"/>
<rect x="219.00" y="261.47" width="8.15" height="22.42" fill="#bedceb"/>
<rect x="226.80" y="261.47" width="8.15" height="22.42" fill="#fee79b"/>
<rect x="234.60" y="261.47" width="8.15" height="22.42" fill="#6998c7"/>
<rect x="242.40" y="261.47" width="8.15" height="22.42" fill="#feda8c"/>
<rect x="250.20" y="261.47" width="8.15" height="22.42" fill="#74a3cc"/>
<rect x="258.00" y="261.47" width="8.15" height="22.42" fill="#fffebd"/>
<rect x="265.80" y="261.47" width="8.15" height="22.42" fill="#eef9dd"/>
<rect x="273.60" y="261.47" width="8.15" height="22.42" fill="#fff3ac"/>
<rect x="281.40" y="261.47" width="8.15" height="22.42" fill="#eef9dd"/>
<rect x="289.20" y="261.47" width="8.15" height="22.42" fill="#7eadd2"/>
<rect x="297.00" y="261.47" width="8.15" height="22.42" fill="#d4ebf3"/>
<rect x="304.80" y="261.47" width="8.15" height="22.42" fill="#f7fccd"/>
<rect x="312.60" y="261.47" width="8.15" height="22.42" fill="#fee79b"/>
<rect x="320.40" y="261.47" width="8.15" height="22.42" fill="#74a3cc"/>
<rect x="328.20" y="261.47" width="8.15" height="22.42" fill="#eef9dd"/>
<rect x="336.00" y="261.47" width="8.15" height="22.42" fill="#acd1e5"/>
<rect x="343.80" y="261.47" width="8.15" height="22.42" fill="#bedceb"/>
<rect x="351.60" y="261.47" width="8.15" height="22.42" fill="#fff3ac"/>
<rect x="359.40" y="261.47" width="8.15" height="22.42" fill="#eef9dd"/>
<rect x="367.20" y="261.47" width="8.15" height="22.42" fill="#8cbad8"/>
<rect x="375.00" y="261.47" width="8.15" height="22.42" fill="#e4f5f0"/>
<rect x="382.80" y="261.47" width="8.15" height="22.42" fill="#fffebd"/>
<rect x="390.60" y="261.47" width="8.15" height="22.42" fill="#9bc6df"/>
<rect x="398.40" y="261.47" width="8.15" height="22.42" fill="#eef9dd"/>
<rect x="406.20" y="261.47" width="8.15" height="22.42" fill="#6998c7"/>
<rect x="414.00" y="261.47" width="8.15" height="22.42" fill="#f7fccd"/>
<rect x="421.80" y="261.47" width="8.15" height="22.42" fill="#f7fccd"/>
<rect x="429.60" y="261.47" width="8.15" height="22.42" fill="#e4f5f0"/>
<rect x="437.40" y="261.47" width="8.15" height="22.42" fill="#8cbad8"/>
<rect x="445.20" y="261.47" width="8.15" height="22.42" fill="#eef9dd"/>
<rect x="453.00" y="261.47" width="8.15" height="22.42" fill="#acd1e5"/>
<rect x="460.80" y="261.47" width="8.15" height="22.42" fill="#bedceb"/>
<rect x="468.60" y="261.47" width="8.15" height="22.42" fill="#7eadd2"/>
<rect x="476.40" y="261.47" width="8.15" height="22.42" fill="#7eadd2"/>
<rect x="484.20" y="261.47" width="8.15" height="22.42" fill="#fff3ac"/>
<rect x="492.00" y="261.47" width="8.15" height="22.42" fill="#7eadd2"/>
<rect x="499.80" y="261.47" width="8.15" height="22.42" fill="#fc8d59"/>
<rect x="507.60" y="261.47" width="8.15" height="22.42" fill="#fffebd"/>
<rect x="515.40" y="261.47" width="8.15" height="22.42" fill="#6998c7"/>
<rect x="523.20" y="261.47" width="8.15" height="22.42" fill="#d4ebf3"/>
<rect x="172.20" y="283.54" width="8.15" height="22.42" fill="#bedceb"/>
<rect x="180.00" y="283.54" width="8.15" height="22.42" fill="#e4f5f0"/>
<rect x="187.80" y="283.54" width="8.15" height="22.42" fill="#acd1e5"/>
<rect x="195.60" y="283.54" width="8.15" height="22.42" fill="#6998c7"/>
<rect x="203.40" y="283.54" width="8.15" height="22.42" fill="#bedceb"/>
<rect x="211.20" y="283.54" width="8.15" height="22.42" fill="#acd1e5"/>
<rect x="219.00" y="283.54" width="8.15" height="22.42" fill="#acd1e5"/>
<rect x="226.80" y="283.54" width="8.15" height="22.42" fill="#f7fccd"/>
<rect x="234.60" y="283.54" width="8.15" height="22.42" fill="#4f7fb9"/>
<rect x="242.40" y="283.54" width="8.15" height="22.42" fill="#fee79b"/>
<rect x="250.20" y="283.54" width="8.15" height="22.42" fill="#6998c7"/>
<rect x="258.00" y="283.54" width="8.15" height="22.42" fill="#f7fccd"/>
<rect x="265.80" y="283.54" width="8.15" height="22.42" fill="#eef9dd"/>
<rect x="273.60" y="283.54" width="8.15" height="22.42" fill="#eef9dd"/>
<rect x="281.40" y="283.54" width="8.15" height="22.42" fill="#eef9dd"/>
<rect x="289.20" y="283.54" width="8.15" height="22.42" fill="#8cbad8"/>
<rect x="297.00" y="283.54" width="8.15" height="22.42" fill="#acd1e5"/>
<rect x="304.80" y="283.54" width="8.15" height="22.42" fill="#f7fccd"/>
<rect x="312.60" y="283.54" width="8.15" height="22.42" fill="#f7fccd"/>
<rect x="320.40" y="283.54" width="8.15" height="22.42" fill="#4f7fb9"/>
<rect x="328.20" y="283.54" width="8.15" height="22.42" fill="#e4f5f0"/>
<rect x="336.00" y="283.54" width="8.15" height="22.42" fill="#8cbad8"/>
<rect x="343.80" y="283.54" width="8.15" height="22.42" fill="#d4ebf3"/>
<rect x="351.60" y="283.54" width="8.15" height="22.42" fill="#feda8c"/>
<rect x="359.40" y="283.54" width="8.15" height="22.42" fill="#eef9dd"/>
<rect x="367.20" y="283.54" width="8.15" height="22.42" fill="#bedceb"/>
<rect x="375.00" y="283.54" width="8.15" height="22.42" fill="#f7fccd"/>
<rect x="382.80" y="283.54" width="8.15" height="22.42" fill="#fffebd"/>
<rect x="390.60" y="283.54" width="8.15" height="22.42" fill="#acd1e5"/>
<rect x="398.40" y="283.54" width="8.15" height="22.42" fill="#eef9dd"/>
<rect x="406.20" y="283.54" width="8.15" height="22.42" fill="#bedceb"/>
<rect x="414.00" y="283.54" width="8.15" height="22.42" fill="#fff3ac"/>
<rect x="421.80" y="283.54" width="8.15" height="22.42" fill="#fff3ac"/>
<rect x="429.60" y="283.54" width="8.15" height="22.42" fill="#f7fccd"/>
<rect x="437.40" y="283.54" width="8.15" height="22.42" fill="#bedceb"/>
<rect x="445.20" y="283.54" width="8.15" height="22.42" fill="#fff3ac"/>
<rect x="453.00" y="283.54" width="8.15" height="22.42" fill="#d4ebf3"/>
<rect x="460.80" y="283.54" width="8.15" height="22.42" fill="#eef9dd"/>
<rect x="468.60" y="283.54" width="8.15" height="22.42" fill="#6998c7"/>
<rect x="476.40" y="283.54" width="8.15" height="22.42" fill="#74a3cc"/>
<rect x="484.20" y="283.54" width="8.15" height="22.42" fill="#feda8c"/>
<rect x="492.00" y="283.54" width="8.15" height="22.42" fill="#74a3cc"/>
<rect x="499.80" y="283.54" width="8.15" height="22.42" fill="#fdc07b"/>
<rect x="507.60" y="283.54" width="8.15" height="22.42" fill="#fffebd"/>
<rect x="515.40" y="283.54" width="8.15" height="22.42" fill="#6998c7"/>
<rect x="523.20" y="283.54" width="8.15" height="22.42" fill="#e4f5f0"/>
<rect x="172.20" y="305.61" width="8.15" height="22.42" fill="#e4f5f0"/>
<rect x="180.00" y="305.61" width="8.15" height="22.42" fill="#e4f5f0"/>
<rect x="187.80" y="305.61" width="8.15" height="22.42" fill="#acd1e5"/>
<rect x="195.60" y="305.61" width="8.15" height="22.42" fill="#74a3cc"/>
<rect x="203.40" y="305.61" width="8.15" height="22.42" fill="#e4f5f0"/>
<rect x="211.20" y="305.61" width="8.15" height="22.42" fill="#acd1e5"/>
<rect x="219.00" y="305.61" width="8.15" height="22.42" fill="#9bc6df"/>
<rect x="226.80" y="305.61" width="8.15" height="22.42" fill="#eef9dd"/>
<rect x="234.60" y="305.61" width="8.15" height="22.42" fill="#6998c7"/>
<rect x="242.40" y="305.61" width="8.15" height="22.42" fill="#fee79b"/>
<rect x="250.20" y="305.61" width="8.15" height="22.42" fill="#74a3cc"/>
<rect x="258.00" y="305.61" width="8.15" height="22.42" fill="#f7fccd"/>
<rect x="265.80" y="305.61" width="8.15" height="22.42" fill="#bedceb"/>
<rect x="273.60" y="305.61" width="8.15" height="22.42" fill="#f7fccd"/>
<rect x="281.40" y="305.61" width="8.15" height="22.42" fill="#e4f5f0"/>
<rect x="289.20" y="305.61" width="8.15" height="22.42" fill="#7eadd2"/>
<rect x="297.00" y="305.61" width="8.15" height="22.42" fill="#7eadd2"/>
<rect x="304.80" y="305.61" width="8.15" height="22.42" fill="#e4f5f0"/>
<rect x="312.60" y="305.61" width="8.15" height="22.42" fill="#f7fccd"/>
<rect x="320.40" y="305.61" width="8.15" height="22.42" fill="#6998c7"/>
<rect x="328.20" y="305.61" width="8.15" height="22.42" fill="#e4f5f0"/>
<rect x="336.00" y="305.61" width="8.15" height="22.42" fill="#bedceb"/>
<rect x="343.80" y="305.61" width="8.15" height="22.42" fill="#d4ebf3"/>
<rect x="351.60" y="305.61" width="8.15" height="22.42" fill="#fdc07b"/>
<rect x="359.40" y="305.61" width="8.15" height="22.42" fill="#eef9dd"/>
<rect x="367.20" y="305.61" width="8.15" height="22.42" fill="#d4ebf3"/>
<rect x="375.00" y="305.61" width="8.15" height="22.42" fill="#fff3ac"/>
<rect x="382.80" y="305.61" width="8.15" height="22.42" fill="#feda8c"/>
<rect x="390.60" y="305.61" width="8.15" height="22.42" fill="#8cbad8"/>
<rect x="398.40" y="305.61" width="8.15" height="22.42" fill="#e4f5f0"/>
<rect x="406.20" y="305.61" width="8.15" height="22.42" fill="#6998c7"/>
<rect x="414.00" y="305.61" width="8.15" height="22.42" fill="#fffebd"/>
<rect x="421.80" y="305.61" width="8.15" height="22.42" fill="#fffebd"/>
<rect x="429.60" y="305.61" width="8.15" height="22.42" fill="#f7fccd"/>
<rect x="437.40" y="305.61" width="8.15" height="22.42" fill="#bedceb"/>
<rect x="445.20" y="305.61" width="8.15" height="22.42" fill="#fff3ac"/>
<rect x="453.00" y="305.61" width="8.15" height="22.42" fill="#e4f5f0"/>
<rect x="460.80" y="305.61" width="8.15" height="22.42" fill="#fffebd"/>
<rect x="468.60" y="305.61" width="8.15" height="22.42" fill="#6998c7"/>
<rect x="476.40" y="305.61" width="8.15" height="22.42" fill="#74a3cc"/>
<rect x="484.20" y="305.61" width="8.15" height="22.42" fill="#fff3ac"/>
<rect x="492.00" y="305.61" width="8.15" height="22.42" fill="#7eadd2"/>
<rect x="499.80" y="305.61" width="8.15" height="22.42" fill="#fdc07b"/>
<rect x="507.60" y="305.61" width="8.15" height="22.42" fill="#eef9dd"/>
<rect x="515.40" y="305.61" width="8.15" height="22.42" fill="#6998c7"/>
<rect x="523.20" y="305.61" width="8.15" height="22.42" fill="#f7fccd"/>
<rect x="172.20" y="327.68" width="8.15" height="22.42" fill="#acd1e5"/>
<rect x="180.00" y="327.68" width="8.15" height="22.42" fill="#d4ebf3"/>
<rect x="187.80" y="327.68" width="8.15" height="22.42" fill="#eef9dd"/>
<rect x="195.60" y="327.68" width="8.15" height="22.42" fill="#9bc6df"/>
<rect x="203.40" y="327.68" width="8.15" height="22.42" fill="#e4f5f0"/>
<rect x="211.20" y="327.68" width="8.15" height="22.42" fill="#e4f5f0"/>
<rect x="219.00" y="327.68" width="8.15" height="22.42" fill="#eef9dd"/>
<rect x="226.80" y="327.68" width="8.15" height="22.42" fill="#feda8c"/>
<rect x="234.60" y="327.68" width="8.15" height="22.42" fill="#74a3cc"/>
<rect x="242.40" y="327.68" width="8.15" height="22.42" fill="#f7fccd"/>
<rect x="250.20" y="327.68" width="8.15" height="22.42" fill="#7eadd2"/>
<rect x="258.00" y="327.68" width="8.15" height="22.42" fill="#fee79b"/>
<rect x="265.80" y="327.68" width="8.15" height="22.42" fill="#fffebd"/>
<rect x="273.60" y="327.68" width="8.15" height="22.42" fill="#fffebd"/>
<rect x="281.40" y="327.68" width="8.15" height="22.42" fill="#f7fccd"/>
<rect x="289.20" y="327.68" width="8.15" height="22.42" fill="#d4ebf3"/>
<rect x="297.00" y="327.68" width="8.15" height="22.42" fill="#f7fccd"/>
<rect x="304.80" y="327.68" width="8.15" height="22.42" fill="#fee79b"/>
<rect x="312.60" y="327.68" width="8.15" height="22.42" fill="#fc8d59"/>
<rect x="320.40" y="327.68" width="8.15" height="22.42" fill="#6998c7"/>
<rect x="328.20" y="327.68" width="8.15" height="22.42" fill="#bedceb"/>
<rect x="336.00" y="327.68" width="8.15" height="22.42" fill="#9bc6df"/>
<rect x="343.80" y="327.68" width="8.15" height="22.42" fill="#acd1e5"/>
<rect x="351.60" y="327.68" width="8.15" height="22.42" fill="#fffebd"/>
<rect x="359.40" y="327.68" width="8.15" height="22.42" fill="#fff3ac"/>
<rect x="367.20" y="327.68" width="8.15" height="22.42" fill="#eef9dd"/>
<rect x="375.00" y="327.68" width="8.15" height="22.42" fill="#e4f5f0"/>
<rect x="382.80" y="327.68" width="8.15" height="22.42" fill="#acd1e5"/>
<rect x="390.60" y="327.68" width="8.15" height="22.42" fill="#e4f5f0"/>
<rect x="398.40" y="327.68" width="8.15" height="22.42" fill="#d4ebf3"/>
<rect x="406.20" y="327.68" width="8.15" height="22.42" fill="#8cbad8"/>
<rect x="414.00" y="327.68" width="8.15" height="22.42" fill="#fffebd"/>
<rect x="421.80" y="327.68" width="8.15" height="22.42" fill="#f7fccd"/>
<rect x="429.60" y="327.68" width="8.15" height="22.42" fill="#d4ebf3"/>
<rect x="437.40" y="327.68" width="8.15" height="22.42" fill="#acd1e5"/>
<rect x="445.20" y="327.68" width="8.15" height="22.42" fill="#f7fccd"/>
<rect x="453.00" y="327.68" width="8.15" height="22.42" fill="#bedceb"/>
<rect x="460.80" y="327.68" width="8.15" height="22.42" fill="#bedceb"/>
<rect x="468.60" y="327.68" width="8.15" height="22.42" fill="#74a3cc"/>
<rect x="476.40" y="327.68" width="8.15" height="22.42" fill="#6998c7"/>
<rect x="484.20" y="327.68" width="8.15" height="22.42" fill="#e4f5f0"/>
<rect x="492.00" y="327.68" width="8.15" height="22.42" fill="#4f7fb9"/>
<rect x="499.80" y="327.68" width="8.15" height="22.42" fill="#f7fccd"/>
<rect x="507.60" y="327.68" width="8.15" height="22.42" fill="#e4f5f0"/>
<rect x="515.40" y="327.68" width="8.15" height="22.42" fill="#6998c7"/>
<rect x="523.20" y="327.68" width="8.15" height="22.42" fill="#7eadd2"/>
<rect x="172.20" y="349.75" width="8.15" height="22.42" fill="#e4f5f0"/>
<rect x="180.00" y="349.75" width="8.15" height="22.42" fill="#eef9dd"/>
<rect x="187.80" y="349.75" width="8.15" height="22.42" fill="#bedceb"/>
<rect x="195.60" y="349.75" width="8.15" height="22.42" fill="#74a3cc"/>
<rect x="203.40" y="349.75" width="8.15" height="22.42" fill="#bedceb"/>
<rect x="211.20" y="349.75" width="8.15" height="22.42" fill="#acd1e5"/>
<rect x="219.00" y="349.75" width="8.15" height="22.42" fill="#d4ebf3"/>
<rect x="226.80" y="349.75" width="8.15" height="22.42" fill="#fee79b"/>
<rect x="234.60" y="349.75" width="8.15" height="22.42" fill="#6998c7"/>
<rect x="242.40" y="349.75" width="8.15" height="22.42" fill="#fee79b"/>
<rect x="250.20" y="349.75" width="8.15" height="22.42" fill="#6998c7"/>
<rect x="258.00" y="349.75" width="8.15" height="22.42" fill="#fee79b"/>
<rect x="265.80" y="349.75" width="8.15" height="22.42" fill="#fffebd"/>
<rect x="273.60" y="349.75" width="8.15" height="22.42" fill="#fff3ac"/>
<rect x="281.40" y="349.75" width="8.15" height="22.42" fill="#eef9dd"/>
<rect x="289.20" y="349.75" width="8.15" height="22.42" fill="#8cbad8"/>
<rect x="297.00" y="349.75" width="8.15" height="22.42" fill="#e4f5f0"/>
<rect x="304.80" y="349.75" width="8.15" height="22.42" fill="#f7fccd"/>
<rect x="312.60" y="349.75" width="8.15" height="22.42" fill="#fee79b"/>
<rect x="320.40" y="349.75" width="8.15" height="22.42" fill="#6998c7"/>
<rect x="328.20" y="349.75" width="8.15" height="22.42" fill="#eef9dd"/>
<rect x="336.00" y="349.75" width="8.15" height="22.42" fill="#bedceb"/>
<rect x="343.80" y="349.75" width="8.15" height="22.42" fill="#bedceb"/>
<rect x="351.60" y="349.75" width="8.15" height="22.42" fill="#fffebd"/>
<rect x="359.40" y="349.75" width="8.15" height="22.42" fill="#eef9dd"/>
<rect x="367.20" y="349.75" width="8.15" height="22.42" fill="#bedceb"/>
<rect x="375.00" y="349.75" width="8.15" height="22.42" fill="#e4f5f0"/>
<rect x="382.80" y="349.75" width="8.15" height="22.42" fill="#eef9dd"/>
<rect x="390.60" y="349.75" width="8.15" height="22.42" fill="#acd1e5"/>
<rect x="398.40" y="349.75" width="8.15" height="22.42" fill="#e4f5f0"/>
<rect x="406.20" y="349.75" width="8.15" height="22.42" fill="#6998c7"/>
<rect x="414.00" y="349.75" width="8.15" height="22.42" fill="#f7fccd"/>
<rect x="421.80" y="349.75" width="8.15" height="22.42" fill="#f7fccd"/>
<rect x="429.60" y="349.75" width="8.15" height="22.42" fill="#e4f5f0"/>
<rect x="437.40" y="349.75" width="8.15" height="22.42" fill="#acd1e5"/>
<rect x="445.20" y="349.75" width="8.15" height="22.42" fill="#eef9dd"/>
<rect x="453.00" y="349.75" width="8.15" height="22.42" fill="#acd1e5"/>
<rect x="460.80" y="349.75" width="8.15" height="22.42" fill="#bedceb"/>
<rect x="468.60" y="349.75" width="8.15" height="22.42" fill="#74a3cc"/>
<rect x="476.40" y="349.75" width="8.15" height="22.42" fill="#74a3cc"/>
<rect x="484.20" y="349.75" width="8.15" height="22.42" fill="#fffebd"/>
<rect x="492.00" y="349.75" width="8.15" height="22.42" fill="#74a3cc"/>
<rect x="499.80" y="349.75" width="8.15" height="22.42" fill="#fda66a"/>
<rect x="507.60" y="349.75" width="8.15" height="22.42" fill="#fffebd"/>
<rect x="515.40" y="349.75" width="8.15" height="22.42" fill="#6998c7"/>
<rect x="523.20" y="349.75" width="8.15" height="22.42" fill="#d4ebf3"/>
<rect x="172.20" y="371.82" width="8.15" height="22.42" fill="#74a3cc"/>
<rect x="180.00" y="371.82" width="8.15" height="22.42" fill="#acd1e5"/>
<rect x="187.80" y="371.82" width="8.15" height="22.42" fill="#e4f5f0"/>
<rect x="195.60" y="371.82" width="8.15" height="22.42" fill="#9bc6df"/>
<rect x="203.40" y="371.82" width="8.15" height="22.42" fill="#d4ebf3"/>
<rect x="211.20" y="371.82" width="8.15" height="22.42" fill="#bedceb"/>
<rect x="219.00" y="371.82" width="8.15" height="22.42" fill="#bedceb"/>
<rect x="226.80" y="371.82" width="8.15" height="22.42" fill="#f7fccd"/>
<rect x="234.60" y="371.82" width="8.15" height="22.42" fill="#7eadd2"/>
<rect x="242.40" y="371.82" width="8.15" height="22.42" fill="#acd1e5"/>
<rect x="250.20" y="371.82" width="8.15" height="22.42" fill="#7eadd2"/>
<rect x="258.00" y="371.82" width="8.15" height="22.42" fill="#fffebd"/>
<rect x="265.80" y="371.82" width="8.15" height="22.42" fill="#d4ebf3"/>
<rect x="273.60" y="371.82" width="8.15" height="22.42" fill="#d4ebf3"/>
<rect x="281.40" y="371.82" width="8.15" height="22.42" fill="#bedceb"/>
<rect x="289.20" y="371.82" width="8.15" height="22.42" fill="#bedceb"/>
<rect x="297.00" y="371.82" width="8.15" height="22.42" fill="#eef9dd"/>
<rect x="304.80" y="371.82" width="8.15" height="22.42" fill="#e4f5f0"/>
<rect x="312.60" y="371.82" width="8.15" height="22.42" fill="#feda8c"/>
<rect x="320.40" y="371.82" width="8.15" height="22.42" fill="#6998c7"/>
<rect x="328.20" y="371.82" width="8.15" height="22.42" fill="#8cbad8"/>
<rect x="336.00" y="371.82" width="8.15" height="22.42" fill="#7eadd2"/>
<rect x="343.80" y="371.82" width="8.15" height="22.42" fill="#9bc6df"/>
<rect x="351.60" y="371.82" width="8.15" height="22.42" fill="#fdc07b"/>
<rect x="359.40" y="371.82" width="8.15" height="22.42" fill="#fdc07b"/>
<rect x="367.20" y="371.82" width="8.15" height="22.42" fill="#fee79b"/>
<rect x="375.00" y="371.82" width="8.15" height="22.42" fill="#bedceb"/>
<rect x="382.80" y="371.82" width="8.15" height="22.42" fill="#acd1e5"/>
<rect x="390.60" y="371.82" width="8.15" height="22.42" fill="#feda8c"/>
<rect x="398.40" y="371.82" width="8.15" height="22.42" fill="#f7fccd"/>
<rect x="406.20" y="371.82" width="8.15" height="22.42" fill="#acd1e5"/>
<rect x="414.00" y="371.82" width="8.15" height="22.42" fill="#fee79b"/>
<rect x="421.80" y="371.82" width="8.15" height="22.42" fill="#fee79b"/>
<rect x="429.60" y="371.82" width="8.15" height="22.42" fill="#d4ebf3"/>
<rect x="437.40" y="371.82" width="8.15" height="22.42" fill="#e4f5f0"/>
<rect x="445.20" y="371.82" width="8.15" height="22.42" fill="#f7fccd"/>
<rect x="453.00" y="371.82" width="8.15" height="22.42" fill="#e4f5f0"/>
<rect x="460.80" y="371.82" width="8.15" height="22.42" fill="#e4f5f0"/>
<rect x="468.60" y="371.82" width="8.15" height="22.42" fill="#e4f5f0"/>
<rect x="476.40" y="371.82" width="8.15" height="22.42" fill="#bedceb"/>
<rect x="484.20" y="371.82" width="8.15" height="22.42" fill="#fffebd"/>
<rect x="492.00" y="371.82" width="8.15" height="22.42" fill="#6998c7"/>
<rect x="499.80" y="371.82" width="8.15" height="22.42" fill="#f7fccd"/>
<rect x="507.60" y="371.82" width="8.15" height="22.42" fill="#f7fccd"/>
<rect x="515.40" y="371.82" width="8.15" height="22.42" fill="#8cbad8"/>
<rect x="523.20" y="371.82" width="8.15" height="22.42" fill="#8cbad8"/>
<rect x="172.20" y="393.89" width="8.15" height="22.42" fill="#acd1e5"/>
<rect x="180.00" y="393.89" width="8.15" height="22.42" fill="#eef9dd"/>
<rect x="187.80" y="393.89" width="8.15" height="22.42" fill="#feda8c"/>
<rect x="195.60" y="393.89" width="8.15" height="22.42" fill="#f7fccd"/>
<rect x="203.40" y="393.89" width="8.15" height="22.42" fill="#fee79b"/>
<rect x="211.20" y="393.89" width="8.15" height="22.42" fill="#fdc07b"/>
<rect x="219.00" y="393.89" width="8.15" height="22.42" fill="#d4ebf3"/>
<rect x="226.80" y="393.89" width="8.15" height="22.42" fill="#eef9dd"/>
<rect x="234.60" y="393.89" width="8.15" height="22.42" fill="#bedceb"/>
<rect x="242.40" y="393.89" width="8.15" height="22.42" fill="#8cbad8"/>
<rect x="250.20" y="393.89" width="8.15" height="22.42" fill="#acd1e5"/>
<rect x="258.00" y="393.89" width="8.15" height="22.42" fill="#acd1e5"/>
<rect x="265.80" y="393.89" width="8.15" height="22.42" fill="#acd1e5"/>
<rect x="273.60" y="393.89" width="8.15" height="22.42" fill="#e4f5f0"/>
<rect x="281.40" y="393.89" width="8.15" height="22.42" fill="#bedceb"/>
<rect x="289.20" y="393.89" width="8.15" height="22.42" fill="#fffebd"/>
<rect x="297.00" y="393.89" width="8.15" height="22.42" fill="#fffebd"/>
<rect x="304.80" y="393.89" width="8.15" height="22.42" fill="#e4f5f0"/>
<rect x="312.60" y="393.89" width="8.15" height="22.42" fill="#f7fccd"/>
<rect x="320.40" y="393.89" width="8.15" height="22.42" fill="#bedceb"/>
<rect x="328.20" y="393.89" width="8.15" height="22.42" fill="#9bc6df"/>
<rect x="336.00" y="393.89" width="8.15" height="22.42" fill="#7eadd2"/>
<rect x="343.80" y="393.89" width="8.15" height="22.42" fill="#acd1e5"/>
<rect x="351.60" y="393.89" width="8.15" height="22.42" fill="#fffebd"/>
<rect x="359.40" y="393.89" width="8.15" height="22.42" fill="#fc8d59"/>
<rect x="367.20" y="393.89" width="8.15" height="22.42" fill="#eef9dd"/>
<rect x="375.00" y="393.89" width="8.15" height="22.42" fill="#7eadd2"/>
<rect x="382.80" y="393.89" width="8.15" height="22.42" fill="#7eadd2"/>
<rect x="390.60" y="393.89" width="8.15" height="22.42" fill="#fffebd"/>
<rect x="398.40" y="393.89" width="8.15" height="22.42" fill="#bedceb"/>
<rect x="406.20" y="393.89" width="8.15" height="22.42" fill="#eef9dd"/>
<rect x="414.00" y="393.89" width="8.15" height="22.42" fill="#bedceb"/>
<rect x="421.80" y="393.89" width="8.15" height="22.42" fill="#bedceb"/>
<rect x="429.60" y="393.89" width="8.15" height="22.42" fill="#74a3cc"/>
<rect x="437.40" y="393.89" width="8.15" height="22.42" fill="#e4f5f0"/>
<rect x="445.20" y="393.89" width="8.15" height="22.42" fill="#9bc6df"/>
<rect x="453.00" y="393.89" width="8.15" height="22.42" fill="#8cbad8"/>
<rect x="460.80" y="393.89" width="8.15" height="22.42" fill="#bedceb"/>
<rect x="468.60" y="393.89" width="8.15" height="22.42" fill="#fee79b"/>
<rect x="476.40" y="393.89" width="8.15" height="22.42" fill="#fee79b"/>
<rect x="484.20" y="393.89" width="8.15" height="22.42" fill="#f7fccd"/>
<rect x="492.00" y="393.89" width="8.15" height="22.42" fill="#74a3cc"/>
<rect x="499.80" y="393.89" width="8.15" height="22.42" fill="#9bc6df"/>
<rect x="507.60" y="393.89" width="8.15" height="22.42" fill="#acd1e5"/>
<rect x="515.40" y="393.89" width="8.15" height="22.42" fill="#d4ebf3"/>
<rect x="523.20" y="393.89" width="8.15" height="22.42" fill="#7eadd2"/>
<rect x="172.20" y="415.96" width="8.15" height="22.42" fill="#8cbad8"/>
<rect x="180.00" y="415.96" width="8.15" height="22.42" fill="#acd1e5"/>
<rect x="187.80" y="415.96" width="8.15" height="22.42" fill="#bedceb"/>
<rect x="195.60" y="415.96" width="8.15" height="22.42" fill="#acd1e5"/>
<rect x="203.40" y="415.96" width="8.15" height="22.42" fill="#bedceb"/>
<rect x="211.20" y="415.96" width="8.15" height="22.42" fill="#d4ebf3"/>
<rect x="219.00" y="415.96" width="8.15" height="22.42" fill="#d4ebf3"/>
<rect x="226.80" y="415.96" width="8.15" height="22.42" fill="#eef9dd"/>
<rect x="234.60" y="415.96" width="8.15" height="22.42" fill="#7eadd2"/>
<rect x="242.40" y="415.96" width="8.15" height="22.42" fill="#acd1e5"/>
<rect x="250.20" y="415.96" width="8.15" height="22.42" fill="#8cbad8"/>
<rect x="258.00" y="415.96" width="8.15" height="22.42" fill="#e4f5f0"/>
<rect x="265.80" y="415.96" width="8.15" height="22.42" fill="#f7fccd"/>
<rect x="273.60" y="415.96" width="8.15" height="22.42" fill="#eef9dd"/>
<rect x="281.40" y="415.96" width="8.15" height="22.42" fill="#d4ebf3"/>
<rect x="289.20" y="415.96" width="8.15" height="22.42" fill="#9bc6df"/>
<rect x="297.00" y="415.96" width="8.15" height="22.42" fill="#eef9dd"/>
<rect x="304.80" y="415.96" width="8.15" height="22.42" fill="#d4ebf3"/>
<rect x="312.60" y="415.96" width="8.15" height="22.42" fill="#fffebd"/>
<rect x="320.40" y="415.96" width="8.15" height="22.42" fill="#74a3cc"/>
<rect x="328.20" y="415.96" width="8.15" height="22.42" fill="#8cbad8"/>
<rect x="336.00" y="415.96" width="8.15" height="22.42" fill="#74a3cc"/>
<rect x="343.80" y="415.96" width="8.15" height="22.42" fill="#bedceb"/>
<rect x="351.60" y="415.96" width="8.15" height="22.42" fill="#fc8d59"/>
<rect x="359.40" y="415.96" width="8.15" height="22.42" fill="#e5533a"/>
<rect x="367.20" y="415.96" width="8.15" height="22.42" fill="#fff3ac"/>
<rect x="375.00" y="415.96" width="8.15" height="22.42" fill="#acd1e5"/>
<rect x="382.80" y="415.96" width="8.15" height="22.42" fill="#d4ebf3"/>
<rect x="390.60" y="415.96" width="8.15" height="22.42" fill="#fee79b"/>
<rect x="398.40" y="415.96" width="8.15" height="22.42" fill="#eef9dd"/>
<rect x="406.20" y="415.96" width="8.15" height="22.42" fill="#acd1e5"/>
<rect x="414.00" y="415.96" width="8.15" height="22.42" fill="#fffebd"/>
<rect x="421.80" y="415.96" width="8.15" height="22.42" fill="#f7fccd"/>
<rect x="429.60" y="415.96" width="8.15" height="22.42" fill="#d4ebf3"/>
<rect x="437.40" y="415.96" width="8.15" height="22.42" fill="#f7fccd"/>
<rect x="445.20" y="415.96" width="8.15" height="22.42" fill="#eef9dd"/>
<rect x="453.00" y="415.96" width="8.15" height="22.42" fill="#acd1e5"/>
<rect x="460.80" y="415.96" width="8.15" height="22.42" fill="#e4f5f0"/>
<rect x="468.60" y="415.96" width="8.15" height="22.42" fill="#9bc6df"/>
<rect x="476.40" y="415.96" width="8.15" height="22.42" fill="#acd1e5"/>
<rect x="484.20" y="415.96" width="8.15" height="22.42" fill="#fff3ac"/>
<rect x="492.00" y="415.96" width="8.15" height="22.42" fill="#74a3cc"/>
<rect x="499.80" y="415.96" width="8.15" height="22.42" fill="#eef9dd"/>
<rect x="507.60" y="415.96" width="8.15" height="22.42" fill="#fffebd"/>
<rect x="515.40" y="415.96" width="8.15" height="22.42" fill="#8cbad8"/>
<rect x="523.20" y="415.96" width="8.15" height="22.42" fill="#9bc6df"/>
<rect x="172.20" y="438.03" width="8.15" height="22.42" fill="#bedceb"/>
<rect x="180.00" y="438.03" width="8.15" height="22.42" fill="#bedceb"/>
<rect x="187.80" y="438.03" width="8.15" height="22.42" fill="#bedceb"/>
<rect x="195.60" y="438.03" width="8.15" height="22.42" fill="#74a3cc"/>
<rect x="203.40" y="438.03" width="8.15" height="22.42" fill="#e4f5f0"/>
<rect x="211.20" y="438.03" width="8.15" height="22.42" fill="#9bc6df"/>
<rect x="219.00" y="438.03" width="8.15" height="22.42" fill="#9bc6df"/>
<rect x="226.80" y="438.03" width="8.15" height="22.42" fill="#e4f5f0"/>
<rect x="234.60" y="438.03" width="8.15" height="22.42" fill="#6998c7"/>
<rect x="242.40" y="438.03" width="8.15" height="22.42" fill="#acd1e5"/>
<rect x="250.20" y="438.03" width="8.15" height="22.42" fill="#74a3cc"/>
<rect x="258.00" y="438.03" width="8.15" height="22.42" fill="#d4ebf3"/>
<rect x="265.80" y="438.03" width="8.15" height="22.42" fill="#acd1e5"/>
<rect x="273.60" y="438.03" width="8.15" height="22.42" fill="#bedceb"/>
<rect x="281.40" y="438.03" width="8.15" height="22.42" fill="#bedceb"/>
<rect x="289.20" y="438.03" width="8.15" height="22.42" fill="#7eadd2"/>
<rect x="297.00" y="438.03" width="8.15" height="22.42" fill="#acd1e5"/>
<rect x="304.80" y="438.03" width="8.15" height="22.42" fill="#acd1e5"/>
<rect x="312.60" y="438.03" width="8.15" height="22.42" fill="#acd1e5"/>
<rect x="320.40" y="438.03" width="8.15" height="22.42" fill="#8cbad8"/>
<rect x="328.20" y="438.03" width="8.15" height="22.42" fill="#9bc6df"/>
<rect x="336.00" y="438.03" width="8.15" height="22.42" fill="#7eadd2"/>
<rect x="343.80" y="438.03" width="8.15" height="22.42" fill="#acd1e5"/>
<rect x="351.60" y="438.03" width="8.15" height="22.42" fill="#fc8d59"/>
<rect x="359.40" y="438.03" width="8.15" height="22.42" fill="#fffebd"/>
<rect x="367.20" y="438.03" width="8.15" height="22.42" fill="#bedceb"/>
<rect x="375.00" y="438.03" width="8.15" height="22.42" fill="#d4ebf3"/>
<rect x="382.80" y="438.03" width="8.15" height="22.42" fill="#eef9dd"/>
<rect x="390.60" y="438.03" width="8.15" height="22.42" fill="#fdc07b"/>
<rect x="398.40" y="438.03" width="8.15" height="22.42" fill="#fee79b"/>
<rect x="406.20" y="438.03" width="8.15" height="22.42" fill="#acd1e5"/>
<rect x="414.00" y="438.03" width="8.15" height="22.42" fill="#feda8c"/>
<rect x="421.80" y="438.03" width="8.15" height="22.42" fill="#fee79b"/>
<rect x="429.60" y="438.03" width="8.15" height="22.42" fill="#eef9dd"/>
<rect x="437.40" y="438.03" width="8.15" height="22.42" fill="#fff3ac"/>
<rect x="445.20" y="438.03" width="8.15" height="22.42" fill="#f7fccd"/>
<rect x="453.00" y="438.03" width="8.15" height="22.42" fill="#f7fccd"/>
<rect x="460.80" y="438.03" width="8.15" height="22.42" fill="#fff3ac"/>
<rect x="468.60" y="438.03" width="8.15" height="22.42" fill="#9bc6df"/>
<rect x="476.40" y="438.03" width="8.15" height="22.42" fill="#e4f5f0"/>
<rect x="484.20" y="438.03" width="8.15" height="22.42" fill="#fff3ac"/>
<rect x="492.00" y="438.03" width="8.15" height="22.42" fill="#8cbad8"/>
<rect x="499.80" y="438.03" width="8.15" height="22.42" fill="#f7fccd"/>
<rect x="507.60" y="438.03" width="8.15" height="22.42" fill="#fee79b"/>
<rect x="515.40" y="438.03" width="8.15" height="22.42" fill="#7eadd2"/>
<rect x="523.20" y="438.03" width="8.15" height="22.42" fill="#bedceb"/>
<rect x="172.20" y="460.10" width="8.15" height="22.42" fill="#eef9dd"/>
<rect x="180.00" y="460.10" width="8.15" height="22.42" fill="#eef9dd"/>
<rect x="187.80" y="460.10" width="8.15" height="22.42" fill="#9bc6df"/>
<rect x="195.60" y="460.10" width="8.15" height="22.42" fill="#7eadd2"/>
<rect x="203.40" y="460.10" width="8.15" height="22.42" fill="#d4ebf3"/>
<rect x="211.20" y="460.10" width="8.15" height="22.42" fill="#8cbad8"/>
<rect x="219.00" y="460.10" width="8.15" height="22.42" fill="#8cbad8"/>
<rect x="226.80" y="460.10" width="8.15" height="22.42" fill="#e4f5f0"/>
<rect x="234.60" y="460.10" width="8.15" height="22.42" fill="#7eadd2"/>
<rect x="242.40" y="460.10" width="8.15" height="22.42" fill="#f7fccd"/>
<rect x="250.20" y="460.10" width="8.15" height="22.42" fill="#7eadd2"/>
<rect x="258.00" y="460.10" width="8.15" height="22.42" fill="#acd1e5"/>
<rect x="265.80" y="460.10" width="8.15" height="22.42" fill="#acd1e5"/>
<rect x="273.60" y="460.10" width="8.15" height="22.42" fill="#e4f5f0"/>
<rect x="281.40" y="460.10" width="8.15" height="22.42" fill="#bedceb"/>
<rect x="289.20" y="460.10" width="8.15" height="22.42" fill="#7eadd2"/>
<rect x="297.00" y="460.10" width="8.15" height="22.42" fill="#9bc6df"/>
<rect x="304.80" y="460.10" width="8.15" height="22.42" fill="#acd1e5"/>
<rect x="312.60" y="460.10" width="8.15" height="22.42" fill="#bedceb"/>
<rect x="320.40" y="460.10" width="8.15" height="22.42" fill="#7eadd2"/>
<rect x="328.20" y="460.10" width="8.15" height="22.42" fill="#e4f5f0"/>
<rect x="336.00" y="460.10" width="8.15" height="22.42" fill="#acd1e5"/>
<rect x="343.80" y="460.10" width="8.15" height="22.42" fill="#acd1e5"/>
<rect x="351.60" y="460.10" width="8.15" height="22.42" fill="#d9362a"/>
<rect x="359.40" y="460.10" width="8.15" height="22.42" fill="#fffebd"/>
<rect x="367.20" y="460.10" width="8.15" height="22.42" fill="#8cbad8"/>
<rect x="375.00" y="460.10" width="8.15" height="22.42" fill="#e4f5f0"/>
<rect x="382.80" y="460.10" width="8.15" height="22.42" fill="#fff3ac"/>
<rect x="390.60" y="460.10" width="8.15" height="22.42" fill="#bedceb"/>
<rect x="398.40" y="460.10" width="8.15" height="22.42" fill="#feda8c"/>
<rect x="406.20" y="460.10" width="8.15" height="22.42" fill="#8cbad8"/>
<rect x="414.00" y="460.10" width="8.15" height="22.42" fill="#f7fccd"/>
<rect x="421.80" y="460.10" width="8.15" height="22.42" fill="#f7fccd"/>
<rect x="429.60" y="460.10" width="8.15" height="22.42" fill="#eef9dd"/>
<rect x="437.40" y="460.10" width="8.15" height="22.42" fill="#e4f5f0"/>
<rect x="445.20" y="460.10" width="8.15" height="22.42" fill="#e4f5f0"/>
<rect x="453.00" y="460.10" width="8.15" height="22.42" fill="#bedceb"/>
<rect x="460.80" y="460.10" width="8.15" height="22.42" fill="#eef9dd"/>
<rect x="468.60" y="460.10" width="8.15" height="22.42" fill="#bedceb"/>
<rect x="476.40" y="460.10" width="8.15" height="22.42" fill="#d4ebf3"/>
<rect x="484.20" y="460.10" width="8.15" height="22.42" fill="#fdc07b"/>
<rect x="492.00" y="460.10" width="8.15" height="22.42" fill="#bedceb"/>
<rect x="499.80" y="460.10" width="8.15" height="22.42" fill="#feda8c"/>
<rect x="507.60" y="460.10" width="8.15" height="22.42" fill="#fee79b"/>
<rect x="515.40" y="460.10" width="8.15" height="22.42" fill="#8cbad8"/>
<rect x="523.20" y="460.10" width="8.15" height="22.42" fill="#e4f5f0"/>
<rect x="172.20" y="482.17" width="8.15" height="22.42" fill="#acd1e5"/>
<rect x="180.00" y="482.17" width="8.15" height="22.42" fill="#d4ebf3"/>
<rect x="187.80" y="482.17" width="8.15" height="22.42" fill="#e4f5f0"/>
<rect x="195.60" y="482.17" width="8.15" height="22.42" fill="#8cbad8"/>
<rect x="203.40" y="482.17" width="8.15" height="22.42" fill="#e4f5f0"/>
<rect x="211.20" y="482.17" width="8.15" height="22.42" fill="#8cbad8"/>
<rect x="219.00" y="482.17" width="8.15" height="22.42" fill="#8cbad8"/>
<rect x="226.80" y="482.17" width="8.15" height="22.42" fill="#acd1e5"/>
<rect x="234.60" y="482.17" width="8.15" height="22.42" fill="#8cbad8"/>
<rect x="242.40" y="482.17" width="8.15" height="22.42" fill="#bedceb"/>
<rect x="250.20" y="482.17" width="8.15" height="22.42" fill="#8cbad8"/>
<rect x="258.00" y="482.17" width="8.15" height="22.42" fill="#8cbad8"/>
<rect x="265.80" y="482.17" width="8.15" height="22.42" fill="#acd1e5"/>
<rect x="273.60" y="482.17" width="8.15" height="22.42" fill="#acd1e5"/>
<rect x="281.40" y="482.17" width="8.15" height="22.42" fill="#acd1e5"/>
<rect x="289.20" y="482.17" width="8.15" height="22.42" fill="#8cbad8"/>
<rect x="297.00" y="482.17" width="8.15" height="22.42" fill="#d4ebf3"/>
<rect x="304.80" y="482.17" width="8.15" height="22.42" fill="#acd1e5"/>
<rect x="312.60" y="482.17" width="8.15" height="22.42" fill="#bedceb"/>
<rect x="320.40" y="482.17" width="8.15" height="22.42" fill="#8cbad8"/>
<rect x="328.20" y="482.17" width="8.15" height="22.42" fill="#8cbad8"/>
<rect x="336.00" y="482.17" width="8.15" height="22.42" fill="#8cbad8"/>
<rect x="343.80" y="482.17" width="8.15" height="22.42" fill="#e4f5f0"/>
<rect x="351.60" y="482.17" width="8.15" height="22.42" fill="#fdc07b"/>
<rect x="359.40" y="482.17" width="8.15" height="22.42" fill="#eef9dd"/>
<rect x="367.20" y="482.17" width="8.15" height="22.42" fill="#e4f5f0"/>
<rect x="375.00" y="482.17" width="8.15" height="22.42" fill="#eef9dd"/>
<rect x="382.80" y="482.17" width="8.15" height="22.42" fill="#eef9dd"/>
<rect x="390.60" y="482.17" width="8.15" height="22.42" fill="#eef9dd"/>
<rect x="398.40" y="482.17" width="8.15" height="22.42" fill="#fffebd"/>
<rect x="406.20" y="482.17" width="8.15" height="22.42" fill="#7eadd2"/>
<rect x="414.00" y="482.17" width="8.15" height="22.42" fill="#feda8c"/>
<rect x="421.80" y="482.17" width="8.15" height="22.42" fill="#feda8c"/>
<rect x="429.60" y="482.17" width="8.15" height="22.42" fill="#fee79b"/>
<rect x="437.40" y="482.17" width="8.15" height="22.42" fill="#bedceb"/>
<rect x="445.20" y="482.17" width="8.15" height="22.42" fill="#fee79b"/>
<rect x="453.00" y="482.17" width="8.15" height="22.42" fill="#feda8c"/>
<rect x="460.80" y="482.17" width="8.15" height="22.42" fill="#fffebd"/>
<rect x="468.60" y="482.17" width="8.15" height="22.42" fill="#9bc6df"/>
<rect x="476.40" y="482.17" width="8.15" height="22.42" fill="#acd1e5"/>
<rect x="484.20" y="482.17" width="8.15" height="22.42" fill="#fdc07b"/>
<rect x="492.00" y="482.17" width="8.15" height="22.42" fill="#9bc6df"/>
<rect x="499.80" y="482.17" width="8.15" height="22.42" fill="#eef9dd"/>
<rect x="507.60" y="482.17" width="8.15" height="22.42" fill="#fdc07b"/>
<rect x="515.40" y="482.17" width="8.15" height="22.42" fill="#9bc6df"/>
<rect x="523.20" y="482.17" width="8.15" height="22.42" fill="#eef9dd"/>
<rect x="172.20" y="504.24" width="8.15" height="22.42" fill="#acd1e5"/>
<rect x="180.00" y="504.24" width="8.15" height="22.42" fill="#eef9dd"/>
<rect x="187.80" y="504.24" width="8.15" height="22.42" fill="#d4ebf3"/>
<rect x="195.60" y="504.24" width="8.15" height="22.42" fill="#6998c7"/>
<rect x="203.40" y="504.24" width="8.15" height="22.42" fill="#fffebd"/>
<rect x="211.20" y="504.24" width="8.15" height="22.42" fill="#9bc6df"/>
<rect x="219.00" y="504.24" width="8.15" height="22.42" fill="#8cbad8"/>
<rect x="226.80" y="504.24" width="8.15" height="22.42" fill="#eef9dd"/>
<rect x="234.60" y="504.24" width="8.15" height="22.42" fill="#6998c7"/>
<rect x="242.40" y="504.24" width="8.15" height="22.42" fill="#bedceb"/>
<rect x="250.20" y="504.24" width="8.15" height="22.42" fill="#74a3cc"/>
<rect x="258.00" y="504.24" width="8.15" height="22.42" fill="#e4f5f0"/>
<rect x="265.80" y="504.24" width="8.15" height="22.42" fill="#9bc6df"/>
<rect x="273.60" y="504.24" width="8.15" height="22.42" fill="#eef9dd"/>
<rect x="281.40" y="504.24" width="8.15" height="22.42" fill="#e4f5f0"/>
<rect x="289.20" y="504.24" width="8.15" height="22.42" fill="#8cbad8"/>
<rect x="297.00" y="504.24" width="8.15" height="22.42" fill="#eef9dd"/>
<rect x="304.80" y="504.24" width="8.15" height="22.42" fill="#d4ebf3"/>
<rect x="312.60" y="504.24" width="8.15" height="22.42" fill="#f7fccd"/>
<rect x="320.40" y="504.24" width="8.15" height="22.42" fill="#6998c7"/>
<rect x="328.20" y="504.24" width="8.15" height="22.42" fill="#9bc6df"/>
<rect x="336.00" y="504.24" width="8.15" height="22.42" fill="#8cbad8"/>
<rect x="343.80" y="504.24" width="8.15" height="22.42" fill="#8cbad8"/>
<rect x="351.60" y="504.24" width="8.15" height="22.42" fill="#fc8d59"/>
<rect x="359.40" y="504.24" width="8.15" height="22.42" fill="#fee79b"/>
<rect x="367.20" y="504.24" width="8.15" height="22.42" fill="#e4f5f0"/>
<rect x="375.00" y="504.24" width="8.15" height="22.42" fill="#e4f5f0"/>
<rect x="382.80" y="504.24" width="8.15" height="22.42" fill="#e4f5f0"/>
<rect x="390.60" y="504.24" width="8.15" height="22.42" fill="#fff3ac"/>
<rect x="398.40" y="504.24" width="8.15" height="22.42" fill="#fffebd"/>
<rect x="406.20" y="504.24" width="8.15" height="22.42" fill="#8cbad8"/>
<rect x="414.00" y="504.24" width="8.15" height="22.42" fill="#fff3ac"/>
<rect x="421.80" y="504.24" width="8.15" height="22.42" fill="#fee79b"/>
<rect x="429.60" y="504.24" width="8.15" height="22.42" fill="#bedceb"/>
<rect x="437.40" y="504.24" width="8.15" height="22.42" fill="#feda8c"/>
<rect x="445.20" y="504.24" width="8.15" height="22.42" fill="#fffebd"/>
<rect x="453.00" y="504.24" width="8.15" height="22.42" fill="#eef9dd"/>
<rect x="460.80" y="504.24" width="8.15" height="22.42" fill="#fff3ac"/>
<rect x="468.60" y="504.24" width="8.15" height="22.42" fill="#9bc6df"/>
<rect x="476.40" y="504.24" width="8.15" height="22.42" fill="#e4f5f0"/>
<rect x="484.20" y="504.24" width="8.15" height="22.42" fill="#feda8c"/>
<rect x="492.00" y="504.24" width="8.15" height="22.42" fill="#8cbad8"/>
<rect x="499.80" y="504.24" width="8.15" height="22.42" fill="#e4f5f0"/>
<rect x="507.60" y="504.24" width="8.15" height="22.42" fill="#e4f5f0"/>
<rect x="515.40" y="504.24" width="8.15" height="22.42" fill="#74a3cc"/>
<rect x="523.20" y="504.24" width="8.15" height="22.42" fill="#bedceb"/>
<rect x="172.20" y="526.31" width="8.15" height="22.42" fill="#9bc6df"/>
<rect x="180.00" y="526.31" width="8.15" height="22.42" fill="#eef9dd"/>
<rect x="187.80" y="526.31" width="8.15" height="22.42" fill="#e4f5f0"/>
<rect x="195.60" y="526.31" width="8.15" height="22.42" fill="#8cbad8"/>
<rect x="203.40" y="526.31" width="8.15" height="22.42" fill="#bedceb"/>
<rect x="211.20" y="526.31" width="8.15" height="22.42" fill="#acd1e5"/>
<rect x="219.00" y="526.31" width="8.15" height="22.42" fill="#d4ebf3"/>
<rect x="226.80" y="526.31" width="8.15" height="22.42" fill="#fff3ac"/>
<rect x="234.60" y="526.31" width="8.15" height="22.42" fill="#7eadd2"/>
<rect x="242.40" y="526.31" width="8.15" height="22.42" fill="#fff3ac"/>
<rect x="250.20" y="526.31" width="8.15" height="22.42" fill="#7eadd2"/>
<rect x="258.00" y="526.31" width="8.15" height="22.42" fill="#feda8c"/>
<rect x="265.80" y="526.31" width="8.15" height="22.42" fill="#fee79b"/>
<rect x="273.60" y="526.31" width="8.15" height="22.42" fill="#fffebd"/>
<rect x="281.40" y="526.31" width="8.15" height="22.42" fill="#eef9dd"/>
<rect x="289.20" y="526.31" width="8.15" height="22.42" fill="#9bc6df"/>
<rect x="297.00" y="526.31" width="8.15" height="22.42" fill="#e4f5f0"/>
<rect x="304.80" y="526.31" width="8.15" height="22.42" fill="#fffebd"/>
<rect x="312.60" y="526.31" width="8.15" height="22.42" fill="#fda66a"/>
<rect x="320.40" y="526.31" width="8.15" height="22.42" fill="#6998c7"/>
<rect x="328.20" y="526.31" width="8.15" height="22.42" fill="#acd1e5"/>
<rect x="336.00" y="526.31" width="8.15" height="22.42" fill="#8cbad8"/>
<rect x="343.80" y="526.31" width="8.15" height="22.42" fill="#acd1e5"/>
<rect x="351.60" y="526.31" width="8.15" height="22.42" fill="#fee79b"/>
<rect x="359.40" y="526.31" width="8.15" height="22.42" fill="#eef9dd"/>
<rect x="367.20" y="526.31" width="8.15" height="22.42" fill="#bedceb"/>
<rect x="375.00" y="526.31" width="8.15" height="22.42" fill="#eef9dd"/>
<rect x="382.80" y="526.31" width="8.15" height="22.42" fill="#d4ebf3"/>
<rect x="390.60" y="526.31" width="8.15" height="22.42" fill="#e4f5f0"/>
<rect x="398.40" y="526.31" width="8.15" height="22.42" fill="#eef9dd"/>
<rect x="406.20" y="526.31" width="8.15" height="22.42" fill="#8cbad8"/>
<rect x="414.00" y="526.31" width="8.15" height="22.42" fill="#fff3ac"/>
<rect x="421.80" y="526.31" width="8.15" height="22.42" fill="#fff3ac"/>
<rect x="429.60" y="526.31" width="8.15" height="22.42" fill="#bedceb"/>
<rect x="437.40" y="526.31" width="8.15" height="22.42" fill="#bedceb"/>
<rect x="445.20" y="526.31" width="8.15" height="22.42" fill="#fffebd"/>
<rect x="453.00" y="526.31" width="8.15" height="22.42" fill="#acd1e5"/>
<rect x="460.80" y="526.31" width="8.15" height="22.42" fill="#d4ebf3"/>
<rect x="468.60" y="526.31" width="8.15" height="22.42" fill="#7eadd2"/>
<rect x="476.40" y="526.31" width="8.15" height="22.42" fill="#7eadd2"/>
<rect x="484.20" y="526.31" width="8.15" height="22.42" fill="#eef9dd"/>
<rect x="492.00" y="526.31" width="8.15" height="22.42" fill="#74a3cc"/>
<rect x="499.80" y="526.31" width="8.15" height="22.42" fill="#f7fccd"/>
<rect x="507.60" y="526.31" width="8.15" height="22.42" fill="#bedceb"/>
<rect x="515.40" y="526.31" width="8.15" height="22.42" fill="#6998c7"/>
<rect x="523.20" y="526.31" width="8.15" height="22.42" fill="#8cbad8"/>
<rect x="172.20" y="548.38" width="8.15" height="22.42" fill="#acd1e5"/>
<rect x="180.00" y="548.38" width="8.15" height="22.42" fill="#d4ebf3"/>
<rect x="187.80" y="548.38" width="8.15" height="22.42" fill="#e4f5f0"/>
<rect x="195.60" y="548.38" width="8.15" height="22.42" fill="#acd1e5"/>
<rect x="203.40" y="548.38" width="8.15" height="22.42" fill="#bedceb"/>
<rect x="211.20" y="548.38" width="8.15" height="22.42" fill="#e4f5f0"/>
<rect x="219.00" y="548.38" width="8.15" height="22.42" fill="#e4f5f0"/>
<rect x="226.80" y="548.38" width="8.15" height="22.42" fill="#feda8c"/>
<rect x="234.60" y="548.38" width="8.15" height="22.42" fill="#9bc6df"/>
<rect x="242.40" y="548.38" width="8.15" height="22.42" fill="#fff3ac"/>
<rect x="250.20" y="548.38" width="8.15" height="22.42" fill="#8cbad8"/>
<rect x="258.00" y="548.38" width="8.15" height="22.42" fill="#feda8c"/>
<rect x="265.80" y="548.38" width="8.15" height="22.42" fill="#feda8c"/>
<rect x="273.60" y="548.38" width="8.15" height="22.42" fill="#f7fccd"/>
<rect x="281.40" y="548.38" width="8.15" height="22.42" fill="#eef9dd"/>
<rect x="289.20" y="548.38" width="8.15" height="22.42" fill="#eef9dd"/>
<rect x="297.00" y="548.38" width="8.15" height="22.42" fill="#f7fccd"/>
<rect x="304.80" y="548.38" width="8.15" height="22.42" fill="#fffebd"/>
<rect x="312.60" y="548.38" width="8.15" height="22.42" fill="#f07049"/>
<rect x="320.40" y="548.38" width="8.15" height="22.42" fill="#7eadd2"/>
<rect x="328.20" y="548.38" width="8.15" height="22.42" fill="#acd1e5"/>
<rect x="336.00" y="548.38" width="8.15" height="22.42" fill="#8cbad8"/>
<rect x="343.80" y="548.38" width="8.15" height="22.42" fill="#bedceb"/>
<rect x="351.60" y="548.38" width="8.15" height="22.42" fill="#fffebd"/>
<rect x="359.40" y="548.38" width="8.15" height="22.42" fill="#eef9dd"/>
<rect x="367.20" y="548.38" width="8.15" height="22.42" fill="#bedceb"/>
<rect x="375.00" y="548.38" width="8.15" height="22.42" fill="#e4f5f0"/>
<rect x="382.80" y="548.38" width="8.15" height="22.42" fill="#bedceb"/>
<rect x="390.60" y="548.38" width="8.15" height="22.42" fill="#acd1e5"/>
<rect x="398.40" y="548.38" width="8.15" height="22.42" fill="#d4ebf3"/>
<rect x="406.20" y="548.38" width="8.15" height="22.42" fill="#8cbad8"/>
<rect x="414.00" y="548.38" width="8.15" height="22.42" fill="#f7fccd"/>
<rect x="421.80" y="548.38" width="8.15" height="22.42" fill="#f7fccd"/>
<rect x="429.60" y="548.38" width="8.15" height="22.42" fill="#acd1e5"/>
<rect x="437.40" y="548.38" width="8.15" height="22.42" fill="#9bc6df"/>
<rect x="445.20" y="548.38" width="8.15" height="22.42" fill="#f7fccd"/>
<rect x="453.00" y="548.38" width="8.15" height="22.42" fill="#8cbad8"/>
<rect x="460.80" y="548.38" width="8.15" height="22.42" fill="#bedceb"/>
<rect x="468.60" y="548.38" width="8.15" height="22.42" fill="#74a3cc"/>
<rect x="476.40" y="548.38" width="8.15" height="22.42" fill="#74a3cc"/>
<rect x="484.20" y="548.38" width="8.15" height="22.42" fill="#eef9dd"/>
<rect x="492.00" y="548.38" width="8.15" height="22.42" fill="#74a3cc"/>
<rect x="499.80" y="548.38" width="8.15" height="22.42" fill="#fffebd"/>
<rect x="507.60" y="548.38" width="8.15" height="22.42" fill="#bedceb"/>
<rect x="515.40" y="548.38" width="8.15" height="22.42" fill="#74a3cc"/>
<rect x="523.20" y="548.38" width="8.15" height="22.42" fill="#7eadd2"/>
<rect x="172.20" y="570.45" width="8.15" height="22.42" fill="#9bc6df"/>
<rect x="180.00" y="570.45" width="8.15" height="22.42" fill="#eef9dd"/>
<rect x="187.80" y="570.45" width="8.15" height="22.42" fill="#fee79b"/>
<rect x="195.60" y="570.45" width="8.15" height="22.42" fill="#f7fccd"/>
<rect x="203.40" y="570.45" width="8.15" height="22.42" fill="#eef9dd"/>
<rect x="211.20" y="570.45" width="8.15" height="22.42" fill="#fc8d59"/>
<rect x="219.00" y="570.45" width="8.15" height="22.42" fill="#e4f5f0"/>
<rect x="226.80" y="570.45" width="8.15" height="22.42" fill="#fffebd"/>
<rect x="234.60" y="570.45" width="8.15" height="22.42" fill="#acd1e5"/>
<rect x="242.40" y="570.45" width="8.15" height="22.42" fill="#bedceb"/>
<rect x="250.20" y="570.45" width="8.15" height="22.42" fill="#9bc6df"/>
<rect x="258.00" y="570.45" width="8.15" height="22.42" fill="#eef9dd"/>
<rect x="265.80" y="570.45" width="8.15" height="22.42" fill="#fdc07b"/>
<rect x="273.60" y="570.45" width="8.15" height="22.42" fill="#feda8c"/>
<rect x="281.40" y="570.45" width="8.15" height="22.42" fill="#eef9dd"/>
<rect x="289.20" y="570.45" width="8.15" height="22.42" fill="#e4f5f0"/>
<rect x="297.00" y="570.45" width="8.15" height="22.42" fill="#fffebd"/>
<rect x="304.80" y="570.45" width="8.15" height="22.42" fill="#eef9dd"/>
<rect x="312.60" y="570.45" width="8.15" height="22.42" fill="#feda8c"/>
<rect x="320.40" y="570.45" width="8.15" height="22.42" fill="#9bc6df"/>
<rect x="328.20" y="570.45" width="8.15" height="22.42" fill="#8cbad8"/>
<rect x="336.00" y="570.45" width="8.15" height="22.42" fill="#74a3cc"/>
<rect x="343.80" y="570.45" width="8.15" height="22.42" fill="#fffebd"/>
<rect x="351.60" y="570.45" width="8.15" height="22.42" fill="#e4f5f0"/>
<rect x="359.40" y="570.45" width="8.15" height="22.42" fill="#feda8c"/>
<rect x="367.20" y="570.45" width="8.15" height="22.42" fill="#bedceb"/>
<rect x="375.00" y="570.45" width="8.15" height="22.42" fill="#8cbad8"/>
<rect x="382.80" y="570.45" width="8.15" height="22.42" fill="#7eadd2"/>
<rect x="390.60" y="570.45" width="8.15" height="22.42" fill="#f7fccd"/>
<rect x="398.40" y="570.45" width="8.15" height="22.42" fill="#bedceb"/>
<rect x="406.20" y="570.45" width="8.15" height="22.42" fill="#bedceb"/>
<rect x="414.00" y="570.45" width="8.15" height="22.42" fill="#d4ebf3"/>
<rect x="421.80" y="570.45" width="8.15" height="22.42" fill="#bedceb"/>
<rect x="429.60" y="570.45" width="8.15" height="22.42" fill="#8cbad8"/>
<rect x="437.40" y="570.45" width="8.15" height="22.42" fill="#bedceb"/>
<rect x="445.20" y="570.45" width="8.15" height="22.42" fill="#acd1e5"/>
<rect x="453.00" y="570.45" width="8.15" height="22.42" fill="#8cbad8"/>
<rect x="460.80" y="570.45" width="8.15" height="22.42" fill="#bedceb"/>
<rect x="468.60" y="570.45" width="8.15" height="22.42" fill="#e4f5f0"/>
<rect x="476.40" y="570.45" width="8.15" height="22.42" fill="#acd1e5"/>
<rect x="484.20" y="570.45" width="8.15" height="22.42" fill="#d4ebf3"/>
<rect x="492.00" y="570.45" width="8.15" height="22.42" fill="#6998c7"/>
<rect x="499.80" y="570.45" width="8.15" height="22.42" fill="#bedceb"/>
<rect x="507.60" y="570.45" width="8.15" height="22.42" fill="#acd1e5"/>
<rect x="515.40" y="570.45" width="8.15" height="22.42" fill="#acd1e5"/>
<rect x="523.20" y="570.45" width="8.15" height="22.42" fill="#74a3cc"/>
<rect x="172.20" y="592.52" width="8.15" height="22.42" fill="#bedceb"/>
<rect x="180.00" y="592.52" width="8.15" height="22.42" fill="#bedceb"/>
<rect x="187.80" y="592.52" width="8.15" height="22.42" fill="#d4ebf3"/>
<rect x="195.60" y="592.52" width="8.15" height="22.42" fill="#8cbad8"/>
<rect x="203.40" y="592.52" width="8.15" height="22.42" fill="#d4ebf3"/>
<rect x="211.20" y="592.52" width="8.15" height="22.42" fill="#eef9dd"/>
<rect x="219.00" y="592.52" width="8.15" height="22.42" fill="#f7fccd"/>
<rect x="226.80" y="592.52" width="8.15" height="22.42" fill="#eef9dd"/>
<rect x="234.60" y="592.52" width="8.15" height="22.42" fill="#7eadd2"/>
<rect x="242.40" y="592.52" width="8.15" height="22.42" fill="#eef9dd"/>
<rect x="250.20" y="592.52" width="8.15" height="22.42" fill="#8cbad8"/>
<rect x="258.00" y="592.52" width="8.15" height="22.42" fill="#fee79b"/>
<rect x="265.80" y="592.52" width="8.15" height="22.42" fill="#fee79b"/>
<rect x="273.60" y="592.52" width="8.15" height="22.42" fill="#fffebd"/>
<rect x="281.40" y="592.52" width="8.15" height="22.42" fill="#f7fccd"/>
<rect x="289.20" y="592.52" width="8.15" height="22.42" fill="#bedceb"/>
<rect x="297.00" y="592.52" width="8.15" height="22.42" fill="#fee79b"/>
<rect x="304.80" y="592.52" width="8.15" height="22.42" fill="#fee79b"/>
<rect x="312.60" y="592.52" width="8.15" height="22.42" fill="#e5533a"/>
<rect x="320.40" y="592.52" width="8.15" height="22.42" fill="#e4f5f0"/>
<rect x="328.20" y="592.52" width="8.15" height="22.42" fill="#bedceb"/>
<rect x="336.00" y="592.52" width="8.15" height="22.42" fill="#e4f5f0"/>
<rect x="343.80" y="592.52" width="8.15" height="22.42" fill="#e4f5f0"/>
<rect x="351.60" y="592.52" width="8.15" height="22.42" fill="#fffebd"/>
<rect x="359.40" y="592.52" width="8.15" height="22.42" fill="#fda66a"/>
<rect x="367.20" y="592.52" width="8.15" height="22.42" fill="#f7fccd"/>
<rect x="375.00" y="592.52" width="8.15" height="22.42" fill="#d4ebf3"/>
<rect x="382.80" y="592.52" width="8.15" height="22.42" fill="#8cbad8"/>
<rect x="390.60" y="592.52" width="8.15" height="22.42" fill="#e4f5f0"/>
<rect x="398.40" y="592.52" width="8.15" height="22.42" fill="#9bc6df"/>
<rect x="406.20" y="592.52" width="8.15" height="22.42" fill="#8cbad8"/>
<rect x="414.00" y="592.52" width="8.15" height="22.42" fill="#fffebd"/>
<rect x="421.80" y="592.52" width="8.15" height="22.42" fill="#bedceb"/>
<rect x="429.60" y="592.52" width="8.15" height="22.42" fill="#d4ebf3"/>
<rect x="437.40" y="592.52" width="8.15" height="22.42" fill="#acd1e5"/>
<rect x="445.20" y="592.52" width="8.15" height="22.42" fill="#eef9dd"/>
<rect x="453.00" y="592.52" width="8.15" height="22.42" fill="#8cbad8"/>
<rect x="460.80" y="592.52" width="8.15" height="22.42" fill="#bedceb"/>
<rect x="468.60" y="592.52" width="8.15" height="22.42" fill="#8cbad8"/>
<rect x="476.40" y="592.52" width="8.15" height="22.42" fill="#74a3cc"/>
<rect x="484.20" y="592.52" width="8.15" height="22.42" fill="#8cbad8"/>
<rect x="492.00" y="592.52" width="8.15" height="22.42" fill="#74a3cc"/>
<rect x="499.80" y="592.52" width="8.15" height="22.42" fill="#acd1e5"/>
<rect x="507.60" y="592.52" width="8.15" height="22.42" fill="#bedceb"/>
<rect x="515.40" y="592.52" width="8.15" height="22.42" fill="#7eadd2"/>
<rect x="523.20" y="592.52" width="8.15" height="22.42" fill="#7eadd2"/>
<rect x="172.20" y="614.59" width="8.15" height="22.42" fill="#9bc6df"/>
<rect x="180.00" y="614.59" width="8.15" height="22.42" fill="#d4ebf3"/>
<rect x="187.80" y="614.59" width="8.15" height="22.42" fill="#f7fccd"/>
<rect x="195.60" y="614.59" width="8.15" height="22.42" fill="#bedceb"/>
<rect x="203.40" y="614.59" width="8.15" height="22.42" fill="#d4ebf3"/>
<rect x="211.20" y="614.59" width="8.15" height="22.42" fill="#f7fccd"/>
<rect x="219.00" y="614.59" width="8.15" height="22.42" fill="#e4f5f0"/>
<rect x="226.80" y="614.59" width="8.15" height="22.42" fill="#fffebd"/>
<rect x="234.60" y="614.59" width="8.15" height="22.42" fill="#9bc6df"/>
<rect x="242.40" y="614.59" width="8.15" height="22.42" fill="#d4ebf3"/>
<rect x="250.20" y="614.59" width="8.15" height="22.42" fill="#9bc6df"/>
<rect x="258.00" y="614.59" width="8.15" height="22.42" fill="#fff3ac"/>
<rect x="265.80" y="614.59" width="8.15" height="22.42" fill="#fee79b"/>
<rect x="273.60" y="614.59" width="8.15" height="22.42" fill="#fffebd"/>
<rect x="281.40" y="614.59" width="8.15" height="22.42" fill="#eef9dd"/>
<rect x="289.20" y="614.59" width="8.15" height="22.42" fill="#bedceb"/>
<rect x="297.00" y="614.59" width="8.15" height="22.42" fill="#f7fccd"/>
<rect x="304.80" y="614.59" width="8.15" height="22.42" fill="#f7fccd"/>
<rect x="312.60" y="614.59" width="8.15" height="22.42" fill="#fc8d59"/>
<rect x="320.40" y="614.59" width="8.15" height="22.42" fill="#74a3cc"/>
<rect x="328.20" y="614.59" width="8.15" height="22.42" fill="#7eadd2"/>
<rect x="336.00" y="614.59" width="8.15" height="22.42" fill="#74a3cc"/>
<rect x="343.80" y="614.59" width="8.15" height="22.42" fill="#fffebd"/>
<rect x="351.60" y="614.59" width="8.15" height="22.42" fill="#f7fccd"/>
<rect x="359.40" y="614.59" width="8.15" height="22.42" fill="#fc8d59"/>
<rect x="367.20" y="614.59" width="8.15" height="22.42" fill="#e4f5f0"/>
<rect x="375.00" y="614.59" width="8.15" height="22.42" fill="#bedceb"/>
<rect x="382.80" y="614.59" width="8.15" height="22.42" fill="#7eadd2"/>
<rect x="390.60" y="614.59" width="8.15" height="22.42" fill="#fff3ac"/>
<rect x="398.40" y="614.59" width="8.15" height="22.42" fill="#e4f5f0"/>
<rect x="406.20" y="614.59" width="8.15" height="22.42" fill="#bedceb"/>
<rect x="414.00" y="614.59" width="8.15" height="22.42" fill="#f7fccd"/>
<rect x="421.80" y="614.59" width="8.15" height="22.42" fill="#f7fccd"/>
<rect x="429.60" y="614.59" width="8.15" height="22.42" fill="#bedceb"/>
<rect x="437.40" y="614.59" width="8.15" height="22.42" fill="#bedceb"/>
<rect x="445.20" y="614.59" width="8.15" height="22.42" fill="#bedceb"/>
<rect x="453.00" y="614.59" width="8.15" height="22.42" fill="#9bc6df"/>
<rect x="460.80" y="614.59" width="8.15" height="22.42" fill="#bedceb"/>
<rect x="468.60" y="614.59" width="8.15" height="22.42" fill="#9bc6df"/>
<rect x="476.40" y="614.59" width="8.15" height="22.42" fill="#8cbad8"/>
<rect x="484.20" y="614.59" width="8.15" height="22.42" fill="#e4f5f0"/>
<rect x="492.00" y="614.59" width="8.15" height="22.42" fill="#6998c7"/>
<rect x="499.80" y="614.59" width="8.15" height="22.42" fill="#e4f5f0"/>
<rect x="507.60" y="614.59" width="8.15" height="22.42" fill="#d4ebf3"/>
<rect x="515.40" y="614.59" width="8.15" height="22.42" fill="#7eadd2"/>
<rect x="523.20" y="614.59" width="8.15" height="22.42" fill="#7eadd2"/>
<rect x="172.20" y="636.66" width="8.15" height="22.42" fill="#e4f5f0"/>
<rect x="180.00" y="636.66" width="8.15" height="22.42" fill="#d4ebf3"/>
<rect x="187.80" y="636.66" width="8.15" height="22.42" fill="#d4ebf3"/>
<rect x="195.60" y="636.66" width="8.15" height="22.42" fill="#acd1e5"/>
<rect x="203.40" y="636.66" width="8.15" height="22.42" fill="#e4f5f0"/>
<rect x="211.20" y="636.66" width="8.15" height="22.42" fill="#fffebd"/>
<rect x="219.00" y="636.66" width="8.15" height="22.42" fill="#fffebd"/>
<rect x="226.80" y="636.66" width="8.15" height="22.42" fill="#fffebd"/>
<rect x="234.60" y="636.66" width="8.15" height="22.42" fill="#9bc6df"/>
<rect x="242.40" y="636.66" width="8.15" height="22.42" fill="#bedceb"/>
<rect x="250.20" y="636.66" width="8.15" height="22.42" fill="#acd1e5"/>
<rect x="258.00" y="636.66" width="8.15" height="22.42" fill="#fee79b"/>
<rect x="265.80" y="636.66" width="8.15" height="22.42" fill="#fee79b"/>
<rect x="273.60" y="636.66" width="8.15" height="22.42" fill="#fff3ac"/>
<rect x="281.40" y="636.66" width="8.15" height="22.42" fill="#f7fccd"/>
<rect x="289.20" y="636.66" width="8.15" height="22.42" fill="#d4ebf3"/>
<rect x="297.00" y="636.66" width="8.15" height="22.42" fill="#fffebd"/>
<rect x="304.80" y="636.66" width="8.15" height="22.42" fill="#fffebd"/>
<rect x="312.60" y="636.66" width="8.15" height="22.42" fill="#e5533a"/>
<rect x="320.40" y="636.66" width="8.15" height="22.42" fill="#8cbad8"/>
<rect x="328.20" y="636.66" width="8.15" height="22.42" fill="#d4ebf3"/>
<rect x="336.00" y="636.66" width="8.15" height="22.42" fill="#acd1e5"/>
<rect x="343.80" y="636.66" width="8.15" height="22.42" fill="#e4f5f0"/>
<rect x="351.60" y="636.66" width="8.15" height="22.42" fill="#e4f5f0"/>
<rect x="359.40" y="636.66" width="8.15" height="22.42" fill="#fda66a"/>
<rect x="367.20" y="636.66" width="8.15" height="22.42" fill="#fff3ac"/>
<rect x="375.00" y="636.66" width="8.15" height="22.42" fill="#bedceb"/>
<rect x="382.80" y="636.66" width="8.15" height="22.42" fill="#9bc6df"/>
<rect x="390.60" y="636.66" width="8.15" height="22.42" fill="#eef9dd"/>
<rect x="398.40" y="636.66" width="8.15" height="22.42" fill="#bedceb"/>
<rect x="406.20" y="636.66" width="8.15" height="22.42" fill="#acd1e5"/>
<rect x="414.00" y="636.66" width="8.15" height="22.42" fill="#9bc6df"/>
<rect x="421.80" y="636.66" width="8.15" height="22.42" fill="#d4ebf3"/>
<rect x="429.60" y="636.66" width="8.15" height="22.42" fill="#9bc6df"/>
<rect x="437.40" y="636.66" width="8.15" height="22.42" fill="#acd1e5"/>
<rect x="445.20" y="636.66" width="8.15" height="22.42" fill="#9bc6df"/>
<rect x="453.00" y="636.66" width="8.15" height="22.42" fill="#8cbad8"/>
<rect x="460.80" y="636.66" width="8.15" height="22.42" fill="#acd1e5"/>
<rect x="468.60" y="636.66" width="8.15" height="22.42" fill="#8cbad8"/>
<rect x="476.40" y="636.66" width="8.15" height="22.42" fill="#8cbad8"/>
<rect x="484.20" y="636.66" width="8.15" height="22.42" fill="#d4ebf3"/>
<rect x="492.00" y="636.66" width="8.15" height="22.42" fill="#8cbad8"/>
<rect x="499.80" y="636.66" width="8.15" height="22.42" fill="#acd1e5"/>
<rect x="507.60" y="636.66" width="8.15" height="22.42" fill="#bedceb"/>
<rect x="515.40" y="636.66" width="8.15" height="22.42" fill="#8cbad8"/>
<rect x="523.20" y="636.66" width="8.15" height="22.42" fill="#8cbad8"/>
<rect x="172.20" y="658.73" width="8.15" height="22.42" fill="#eef9dd"/>
<rect x="180.00" y="658.73" width="8.15" height="22.42" fill="#acd1e5"/>
<rect x="187.80" y="658.73" width="8.15" height="22.42" fill="#acd1e5"/>
<rect x="195.60" y="658.73" width="8.15" height="22.42" fill="#acd1e5"/>
<rect x="203.40" y="658.73" width="8.15" height="22.42" fill="#e4f5f0"/>
<rect x="211.20" y="658.73" width="8.15" height="22.42" fill="#d4ebf3"/>
<rect x="219.00" y="658.73" width="8.15" height="22.42" fill="#e4f5f0"/>
<rect x="226.80" y="658.73" width="8.15" height="22.42" fill="#fffebd"/>
<rect x="234.60" y="658.73" width="8.15" height="22.42" fill="#9bc6df"/>
<rect x="242.40" y="658.73" width="8.15" height="22.42" fill="#e4f5f0"/>
<rect x="250.20" y="658.73" width="8.15" height="22.42" fill="#e4f5f0"/>
<rect x="258.00" y="658.73" width="8.15" height="22.42" fill="#fc8d59"/>
<rect x="265.80" y="658.73" width="8.15" height="22.42" fill="#fc8d59"/>
<rect x="273.60" y="658.73" width="8.15" height="22.42" fill="#fee79b"/>
<rect x="281.40" y="658.73" width="8.15" height="22.42" fill="#fee79b"/>
<rect x="289.20" y="658.73" width="8.15" height="22.42" fill="#eef9dd"/>
<rect x="297.00" y="658.73" width="8.15" height="22.42" fill="#eef9dd"/>
<rect x="304.80" y="658.73" width="8.15" height="22.42" fill="#eef9dd"/>
<rect x="312.60" y="658.73" width="8.15" height="22.42" fill="#fda66a"/>
<rect x="320.40" y="658.73" width="8.15" height="22.42" fill="#e4f5f0"/>
<rect x="328.20" y="658.73" width="8.15" height="22.42" fill="#bedceb"/>
<rect x="336.00" y="658.73" width="8.15" height="22.42" fill="#e4f5f0"/>
<rect x="343.80" y="658.73" width="8.15" height="22.42" fill="#acd1e5"/>
<rect x="351.60" y="658.73" width="8.15" height="22.42" fill="#f7fccd"/>
<rect x="359.40" y="658.73" width="8.15" height="22.42" fill="#fdc07b"/>
<rect x="367.20" y="658.73" width="8.15" height="22.42" fill="#e4f5f0"/>
<rect x="375.00" y="658.73" width="8.15" height="22.42" fill="#acd1e5"/>
<rect x="382.80" y="658.73" width="8.15" height="22.42" fill="#8cbad8"/>
<rect x="390.60" y="658.73" width="8.15" height="22.42" fill="#d4ebf3"/>
<rect x="398.40" y="658.73" width="8.15" height="22.42" fill="#acd1e5"/>
<rect x="406.20" y="658.73" width="8.15" height="22.42" fill="#7eadd2"/>
<rect x="414.00" y="658.73" width="8.15" height="22.42" fill="#fffebd"/>
<rect x="421.80" y="658.73" width="8.15" height="22.42" fill="#bedceb"/>
<rect x="429.60" y="658.73" width="8.15" height="22.42" fill="#d4ebf3"/>
<rect x="437.40" y="658.73" width="8.15" height="22.42" fill="#d4ebf3"/>
<rect x="445.20" y="658.73" width="8.15" height="22.42" fill="#e4f5f0"/>
<rect x="453.00" y="658.73" width="8.15" height="22.42" fill="#9bc6df"/>
<rect x="460.80" y="658.73" width="8.15" height="22.42" fill="#bedceb"/>
<rect x="468.60" y="658.73" width="8.15" height="22.42" fill="#8cbad8"/>
<rect x="476.40" y="658.73" width="8.15" height="22.42" fill="#7eadd2"/>
<rect x="484.20" y="658.73" width="8.15" height="22.42" fill="#d4ebf3"/>
<rect x="492.00" y="658.73" width="8.15" height="22.42" fill="#7eadd2"/>
<rect x="499.80" y="658.73" width="8.15" height="22.42" fill="#bedceb"/>
<rect x="507.60" y="658.73" width="8.15" height="22.42" fill="#bedceb"/>
<rect x="515.40" y="658.73" width="8.15" height="22.42" fill="#7eadd2"/>
<rect x="523.20" y="658.73" width="8.15" height="22.42" fill="#8cbad8"/>
<rect x="172.20" y="680.80" width="8.15" height="22.42" fill="#9bc6df"/>
<rect x="180.00" y="680.80" width="8.15" height="22.42" fill="#fffebd"/>
<rect x="187.80" y="680.80" width="8.15" height="22.42" fill="#eef9dd"/>
<rect x="195.60" y="680.80" width="8.15" height="22.42" fill="#9bc6df"/>
<rect x="203.40" y="680.80" width="8.15" height="22.42" fill="#e4f5f0"/>
<rect x="211.20" y="680.80" width="8.15" height="22.42" fill="#d4ebf3"/>
<rect x="219.00" y="680.80" width="8.15" height="22.42" fill="#d4ebf3"/>
<rect x="226.80" y="680.80" width="8.15" height="22.42" fill="#fffebd"/>
<rect x="234.60" y="680.80" width="8.15" height="22.42" fill="#8cbad8"/>
<rect x="242.40" y="680.80" width="8.15" height="22.42" fill="#feda8c"/>
<rect x="250.20" y="680.80" width="8.15" height="22.42" fill="#8cbad8"/>
<rect x="258.00" y="680.80" width="8.15" height="22.42" fill="#feda8c"/>
<rect x="265.80" y="680.80" width="8.15" height="22.42" fill="#fee79b"/>
<rect x="273.60" y="680.80" width="8.15" height="22.42" fill="#fffebd"/>
<rect x="281.40" y="680.80" width="8.15" height="22.42" fill="#eef9dd"/>
<rect x="289.20" y="680.80" width="8.15" height="22.42" fill="#bedceb"/>
<rect x="297.00" y="680.80" width="8.15" height="22.42" fill="#fffebd"/>
<rect x="304.80" y="680.80" width="8.15" height="22.42" fill="#fffebd"/>
<rect x="312.60" y="680.80" width="8.15" height="22.42" fill="#fda66a"/>
<rect x="320.40" y="680.80" width="8.15" height="22.42" fill="#74a3cc"/>
<rect x="328.20" y="680.80" width="8.15" height="22.42" fill="#acd1e5"/>
<rect x="336.00" y="680.80" width="8.15" height="22.42" fill="#7eadd2"/>
<rect x="343.80" y="680.80" width="8.15" height="22.42" fill="#bedceb"/>
<rect x="351.60" y="680.80" width="8.15" height="22.42" fill="#fffebd"/>
<rect x="359.40" y="680.80" width="8.15" height="22.42" fill="#eef9dd"/>
<rect x="367.20" y="680.80" width="8.15" height="22.42" fill="#9bc6df"/>
<rect x="375.00" y="680.80" width="8.15" height="22.42" fill="#eef9dd"/>
<rect x="382.80" y="680.80" width="8.15" height="22.42" fill="#8cbad8"/>
<rect x="390.60" y="680.80" width="8.15" height="22.42" fill="#eef9dd"/>
<rect x="398.40" y="680.80" width="8.15" height="22.42" fill="#eef9dd"/>
<rect x="406.20" y="680.80" width="8.15" height="22.42" fill="#7eadd2"/>
<rect x="414.00" y="680.80" width="8.15" height="22.42" fill="#feda8c"/>
<rect x="421.80" y="680.80" width="8.15" height="22.42" fill="#fee79b"/>
<rect x="429.60" y="680.80" width="8.15" height="22.42" fill="#d4ebf3"/>
<rect x="437.40" y="680.80" width="8.15" height="22.42" fill="#eef9dd"/>
<rect x="445.20" y="680.80" width="8.15" height="22.42" fill="#e4f5f0"/>
<rect x="453.00" y="680.80" width="8.15" height="22.42" fill="#9bc6df"/>
<rect x="460.80" y="680.80" width="8.15" height="22.42" fill="#e4f5f0"/>
<rect x="468.60" y="680.80" width="8.15" height="22.42" fill="#8cbad8"/>
<rect x="476.40" y="680.80" width="8.15" height="22.42" fill="#7eadd2"/>
<rect x="484.20" y="680.80" width="8.15" height="22.42" fill="#e4f5f0"/>
<rect x="492.00" y="680.80" width="8.15" height="22.42" fill="#6998c7"/>
<rect x="499.80" y="680.80" width="8.15" height="22.42" fill="#bedceb"/>
<rect x="507.60" y="680.80" width="8.15" height="22.42" fill="#bedceb"/>
<rect x="515.40" y="680.80" width="8.15" height="22.42" fill="#6998c7"/>
<rect x="523.20" y="680.80" width="8.15" height="22.42" fill="#7eadd2"/>
<rect x="172.20" y="712.90" width="8.15" height="22.08" fill="#7eadd2"/>
<rect x="180.00" y="712.90" width="8.15" height="22.08" fill="#e4f5f0"/>
<rect x="187.80" y="712.90" width="8.15" height="22.08" fill="#bedceb"/>
<rect x="195.60" y="712.90" width="8.15" height="22.08" fill="#eef9dd"/>
<rect x="203.40" y="712.90" width="8.15" height="22.08" fill="#bedceb"/>
<rect x="211.20" y="712.90" width="8.15" height="22.08" fill="#e4f5f0"/>
<rect x="219.00" y="712.90" width="8.15" height="22.08" fill="#d4ebf3"/>
<rect x="226.80" y="712.90" width="8.15" height="22.08" fill="#f7fccd"/>
<rect x="234.60" y="712.90" width="8.15" height="22.08" fill="#9bc6df"/>
<rect x="242.40" y="712.90" width="8.15" height="22.08" fill="#f7fccd"/>
<rect x="250.20" y="712.90" width="8.15" height="22.08" fill="#8cbad8"/>
<rect x="258.00" y="712.90" width="8.15" height="22.08" fill="#fffebd"/>
<rect x="265.80" y="712.90" width="8.15" height="22.08" fill="#fee79b"/>
<rect x="273.60" y="712.90" width="8.15" height="22.08" fill="#eef9dd"/>
<rect x="281.40" y="712.90" width="8.15" height="22.08" fill="#eef9dd"/>
<rect x="289.20" y="712.90" width="8.15" height="22.08" fill="#e4f5f0"/>
<rect x="297.00" y="712.90" width="8.15" height="22.08" fill="#eef9dd"/>
<rect x="304.80" y="712.90" width="8.15" height="22.08" fill="#f7fccd"/>
<rect x="312.60" y="712.90" width="8.15" height="22.08" fill="#fffebd"/>
<rect x="320.40" y="712.90" width="8.15" height="22.08" fill="#6998c7"/>
<rect x="328.20" y="712.90" width="8.15" height="22.08" fill="#8cbad8"/>
<rect x="336.00" y="712.90" width="8.15" height="22.08" fill="#6998c7"/>
<rect x="343.80" y="712.90" width="8.15" height="22.08" fill="#d4ebf3"/>
<rect x="351.60" y="712.90" width="8.15" height="22.08" fill="#fee79b"/>
<rect x="359.40" y="712.90" width="8.15" height="22.08" fill="#e4f5f0"/>
<rect x="367.20" y="712.90" width="8.15" height="22.08" fill="#7eadd2"/>
<rect x="375.00" y="712.90" width="8.15" height="22.08" fill="#eef9dd"/>
<rect x="382.80" y="712.90" width="8.15" height="22.08" fill="#e4f5f0"/>
<rect x="390.60" y="712.90" width="8.15" height="22.08" fill="#9bc6df"/>
<rect x="398.40" y="712.90" width="8.15" height="22.08" fill="#eef9dd"/>
<rect x="406.20" y="712.90" width="8.15" height="22.08" fill="#7eadd2"/>
<rect x="414.00" y="712.90" width="8.15" height="22.08" fill="#fff3ac"/>
<rect x="421.80" y="712.90" width="8.15" height="22.08" fill="#fffebd"/>
<rect x="429.60" y="712.90" width="8.15" height="22.08" fill="#d4ebf3"/>
<rect x="437.40" y="712.90" width="8.15" height="22.08" fill="#bedceb"/>
<rect x="445.20" y="712.90" width="8.15" height="22.08" fill="#f7fccd"/>
<rect x="453.00" y="712.90" width="8.15" height="22.08" fill="#acd1e5"/>
<rect x="460.80" y="712.90" width="8.15" height="22.08" fill="#e4f5f0"/>
<rect x="468.60" y="712.90" width="8.15" height="22.08" fill="#7eadd2"/>
<rect x="476.40" y="712.90" width="8.15" height="22.08" fill="#7eadd2"/>
<rect x="484.20" y="712.90" width="8.15" height="22.08" fill="#fdc07b"/>
<rect x="492.00" y="712.90" width="8.15" height="22.08" fill="#4f7fb9"/>
<rect x="499.80" y="712.90" width="8.15" height="22.08" fill="#fdc07b"/>
<rect x="507.60" y="712.90" width="8.15" height="22.08" fill="#eef9dd"/>
<rect x="515.40" y="712.90" width="8.15" height="22.08" fill="#6998c7"/>
<rect x="523.20" y="712.90" width="8.15" height="22.08" fill="#bedceb"/>
<rect x="172.20" y="734.63" width="8.15" height="22.08" fill="#8cbad8"/>
<rect x="180.00" y="734.63" width="8.15" height="22.08" fill="#e4f5f0"/>
<rect x="187.80" y="734.63" width="8.15" height="22.08" fill="#bedceb"/>
<rect x="195.60" y="734.63" width="8.15" height="22.08" fill="#acd1e5"/>
<rect x="203.40" y="734.63" width="8.15" height="22.08" fill="#acd1e5"/>
<rect x="211.20" y="734.63" width="8.15" height="22.08" fill="#9bc6df"/>
<rect x="219.00" y="734.63" width="8.15" height="22.08" fill="#9bc6df"/>
<rect x="226.80" y="734.63" width="8.15" height="22.08" fill="#e4f5f0"/>
<rect x="234.60" y="734.63" width="8.15" height="22.08" fill="#7eadd2"/>
<rect x="242.40" y="734.63" width="8.15" height="22.08" fill="#fff3ac"/>
<rect x="250.20" y="734.63" width="8.15" height="22.08" fill="#7eadd2"/>
<rect x="258.00" y="734.63" width="8.15" height="22.08" fill="#eef9dd"/>
<rect x="265.80" y="734.63" width="8.15" height="22.08" fill="#e4f5f0"/>
<rect x="273.60" y="734.63" width="8.15" height="22.08" fill="#eef9dd"/>
<rect x="281.40" y="734.63" width="8.15" height="22.08" fill="#d4ebf3"/>
<rect x="289.20" y="734.63" width="8.15" height="22.08" fill="#bedceb"/>
<rect x="297.00" y="734.63" width="8.15" height="22.08" fill="#bedceb"/>
<rect x="304.80" y="734.63" width="8.15" height="22.08" fill="#e4f5f0"/>
<rect x="312.60" y="734.63" width="8.15" height="22.08" fill="#eef9dd"/>
<rect x="320.40" y="734.63" width="8.15" height="22.08" fill="#74a3cc"/>
<rect x="328.20" y="734.63" width="8.15" height="22.08" fill="#acd1e5"/>
<rect x="336.00" y="734.63" width="8.15" height="22.08" fill="#7eadd2"/>
<rect x="343.80" y="734.63" width="8.15" height="22.08" fill="#bedceb"/>
<rect x="351.60" y="734.63" width="8.15" height="22.08" fill="#fdc07b"/>
<rect x="359.40" y="734.63" width="8.15" height="22.08" fill="#eef9dd"/>
<rect x="367.20" y="734.63" width="8.15" height="22.08" fill="#7eadd2"/>
<rect x="375.00" y="734.63" width="8.15" height="22.08" fill="#fffebd"/>
<rect x="382.80" y="734.63" width="8.15" height="22.08" fill="#eef9dd"/>
<rect x="390.60" y="734.63" width="8.15" height="22.08" fill="#bedceb"/>
<rect x="398.40" y="734.63" width="8.15" height="22.08" fill="#f7fccd"/>
<rect x="406.20" y="734.63" width="8.15" height="22.08" fill="#8cbad8"/>
<rect x="414.00" y="734.63" width="8.15" height="22.08" fill="#fee79b"/>
<rect x="421.80" y="734.63" width="8.15" height="22.08" fill="#fee79b"/>
<rect x="429.60" y="734.63" width="8.15" height="22.08" fill="#eef9dd"/>
<rect x="437.40" y="734.63" width="8.15" height="22.08" fill="#acd1e5"/>
<rect x="445.20" y="734.63" width="8.15" height="22.08" fill="#f7fccd"/>
<rect x="453.00" y="734.63" width="8.15" height="22.08" fill="#bedceb"/>
<rect x="460.80" y="734.63" width="8.15" height="22.08" fill="#e4f5f0"/>
<rect x="468.60" y="734.63" width="8.15" height="22.08" fill="#8cbad8"/>
<rect x="476.40" y="734.63" width="8.15" height="22.08" fill="#8cbad8"/>
<rect x="484.20" y="734.63" width="8.15" height="22.08" fill="#feda8c"/>
<rect x="492.00" y="734.63" width="8.15" height="22.08" fill="#74a3cc"/>
<rect x="499.80" y="734.63" width="8.15" height="22.08" fill="#fc8d59"/>
<rect x="507.60" y="734.63" width="8.15" height="22.08" fill="#fffebd"/>
<rect x="515.40" y="734.63" width="8.15" height="22.08" fill="#74a3cc"/>
<rect x="523.20" y="734.63" width="8.15" height="22.08" fill="#acd1e5"/>
<rect x="172.20" y="756.36" width="8.15" height="22.08" fill="#d4ebf3"/>
<rect x="180.00" y="756.36" width="8.15" height="22.08" fill="#acd1e5"/>
<rect x="187.80" y="756.36" width="8.15" height="22.08" fill="#9bc6df"/>
<rect x="195.60" y="756.36" width="8.15" height="22.08" fill="#7eadd2"/>
<rect x="203.40" y="756.36" width="8.15" height="22.08" fill="#bedceb"/>
<rect x="211.20" y="756.36" width="8.15" height="22.08" fill="#9bc6df"/>
<rect x="219.00" y="756.36" width="8.15" height="22.08" fill="#9bc6df"/>
<rect x="226.80" y="756.36" width="8.15" height="22.08" fill="#d4ebf3"/>
<rect x="234.60" y="756.36" width="8.15" height="22.08" fill="#7eadd2"/>
<rect x="242.40" y="756.36" width="8.15" height="22.08" fill="#d4ebf3"/>
<rect x="250.20" y="756.36" width="8.15" height="22.08" fill="#7eadd2"/>
<rect x="258.00" y="756.36" width="8.15" height="22.08" fill="#acd1e5"/>
<rect x="265.80" y="756.36" width="8.15" height="22.08" fill="#acd1e5"/>
<rect x="273.60" y="756.36" width="8.15" height="22.08" fill="#e4f5f0"/>
<rect x="281.40" y="756.36" width="8.15" height="22.08" fill="#bedceb"/>
<rect x="289.20" y="756.36" width="8.15" height="22.08" fill="#7eadd2"/>
<rect x="297.00" y="756.36" width="8.15" height="22.08" fill="#9bc6df"/>
<rect x="304.80" y="756.36" width="8.15" height="22.08" fill="#8cbad8"/>
<rect x="312.60" y="756.36" width="8.15" height="22.08" fill="#acd1e5"/>
<rect x="320.40" y="756.36" width="8.15" height="22.08" fill="#8cbad8"/>
<rect x="328.20" y="756.36" width="8.15" height="22.08" fill="#8cbad8"/>
<rect x="336.00" y="756.36" width="8.15" height="22.08" fill="#7eadd2"/>
<rect x="343.80" y="756.36" width="8.15" height="22.08" fill="#bedceb"/>
<rect x="351.60" y="756.36" width="8.15" height="22.08" fill="#d9362a"/>
<rect x="359.40" y="756.36" width="8.15" height="22.08" fill="#fee79b"/>
<rect x="367.20" y="756.36" width="8.15" height="22.08" fill="#eef9dd"/>
<rect x="375.00" y="756.36" width="8.15" height="22.08" fill="#bedceb"/>
<rect x="382.80" y="756.36" width="8.15" height="22.08" fill="#fff3ac"/>
<rect x="390.60" y="756.36" width="8.15" height="22.08" fill="#d4ebf3"/>
<rect x="398.40" y="756.36" width="8.15" height="22.08" fill="#fffebd"/>
<rect x="406.20" y="756.36" width="8.15" height="22.08" fill="#7eadd2"/>
<rect x="414.00" y="756.36" width="8.15" height="22.08" fill="#fff3ac"/>
<rect x="421.80" y="756.36" width="8.15" height="22.08" fill="#fff3ac"/>
<rect x="429.60" y="756.36" width="8.15" height="22.08" fill="#fffebd"/>
<rect x="437.40" y="756.36" width="8.15" height="22.08" fill="#fee79b"/>
<rect x="445.20" y="756.36" width="8.15" height="22.08" fill="#eef9dd"/>
<rect x="453.00" y="756.36" width="8.15" height="22.08" fill="#d4ebf3"/>
<rect x="460.80" y="756.36" width="8.15" height="22.08" fill="#e4f5f0"/>
<rect x="468.60" y="756.36" width="8.15" height="22.08" fill="#d4ebf3"/>
<rect x="476.40" y="756.36" width="8.15" height="22.08" fill="#e4f5f0"/>
<rect x="484.20" y="756.36" width="8.15" height="22.08" fill="#feda8c"/>
<rect x="492.00" y="756.36" width="8.15" height="22.08" fill="#9bc6df"/>
<rect x="499.80" y="756.36" width="8.15" height="22.08" fill="#fffebd"/>
<rect x="507.60" y="756.36" width="8.15" height="22.08" fill="#fff3ac"/>
<rect x="515.40" y="756.36" width="8.15" height="22.08" fill="#8cbad8"/>
<rect x="523.20" y="756.36" width="8.15" height="22.08" fill="#eef9dd"/>
<rect x="172.20" y="778.09" width="8.15" height="22.08" fill="#9bc6df"/>
<rect x="180.00" y="778.09" width="8.15" height="22.08" fill="#8cbad8"/>
<rect x="187.80" y="778.09" width="8.15" height="22.08" fill="#9bc6df"/>
<rect x="195.60" y="778.09" width="8.15" height="22.08" fill="#8cbad8"/>
<rect x="203.40" y="778.09" width="8.15" height="22.08" fill="#fee79b"/>
<rect x="211.20" y="778.09" width="8.15" height="22.08" fill="#eef9dd"/>
<rect x="219.00" y="778.09" width="8.15" height="22.08" fill="#e4f5f0"/>
<rect x="226.80" y="778.09" width="8.15" height="22.08" fill="#f7fccd"/>
<rect x="234.60" y="778.09" width="8.15" height="22.08" fill="#8cbad8"/>
<rect x="242.40" y="778.09" width="8.15" height="22.08" fill="#9bc6df"/>
<rect x="250.20" y="778.09" width="8.15" height="22.08" fill="#8cbad8"/>
<rect x="258.00" y="778.09" width="8.15" height="22.08" fill="#9bc6df"/>
<rect x="265.80" y="778.09" width="8.15" height="22.08" fill="#d4ebf3"/>
<rect x="273.60" y="778.09" width="8.15" height="22.08" fill="#e4f5f0"/>
<rect x="281.40" y="778.09" width="8.15" height="22.08" fill="#d4ebf3"/>
<rect x="289.20" y="778.09" width="8.15" height="22.08" fill="#8cbad8"/>
<rect x="297.00" y="778.09" width="8.15" height="22.08" fill="#acd1e5"/>
<rect x="304.80" y="778.09" width="8.15" height="22.08" fill="#acd1e5"/>
<rect x="312.60" y="778.09" width="8.15" height="22.08" fill="#acd1e5"/>
<rect x="320.40" y="778.09" width="8.15" height="22.08" fill="#9bc6df"/>
<rect x="328.20" y="778.09" width="8.15" height="22.08" fill="#f7fccd"/>
<rect x="336.00" y="778.09" width="8.15" height="22.08" fill="#d4ebf3"/>
<rect x="343.80" y="778.09" width="8.15" height="22.08" fill="#fffebd"/>
<rect x="351.60" y="778.09" width="8.15" height="22.08" fill="#9bc6df"/>
<rect x="359.40" y="778.09" width="8.15" height="22.08" fill="#9bc6df"/>
<rect x="367.20" y="778.09" width="8.15" height="22.08" fill="#9bc6df"/>
<rect x="375.00" y="778.09" width="8.15" height="22.08" fill="#8cbad8"/>
<rect x="382.80" y="778.09" width="8.15" height="22.08" fill="#fee79b"/>
<rect x="390.60" y="778.09" width="8.15" height="22.08" fill="#fee79b"/>
<rect x="398.40" y="778.09" width="8.15" height="22.08" fill="#e5533a"/>
<rect x="406.20" y="778.09" width="8.15" height="22.08" fill="#8cbad8"/>
<rect x="414.00" y="778.09" width="8.15" height="22.08" fill="#acd1e5"/>
<rect x="421.80" y="778.09" width="8.15" height="22.08" fill="#acd1e5"/>
<rect x="429.60" y="778.09" width="8.15" height="22.08" fill="#acd1e5"/>
<rect x="437.40" y="778.09" width="8.15" height="22.08" fill="#eef9dd"/>
<rect x="445.20" y="778.09" width="8.15" height="22.08" fill="#f7fccd"/>
<rect x="453.00" y="778.09" width="8.15" height="22.08" fill="#eef9dd"/>
<rect x="460.80" y="778.09" width="8.15" height="22.08" fill="#feda8c"/>
<rect x="468.60" y="778.09" width="8.15" height="22.08" fill="#9bc6df"/>
<rect x="476.40" y="778.09" width="8.15" height="22.08" fill="#acd1e5"/>
<rect x="484.20" y="778.09" width="8.15" height="22.08" fill="#bedceb"/>
<rect x="492.00" y="778.09" width="8.15" height="22.08" fill="#acd1e5"/>
<rect x="499.80" y="778.09" width="8.15" height="22.08" fill="#fdc07b"/>
<rect x="507.60" y="778.09" width="8.15" height="22.08" fill="#feda8c"/>
<rect x="515.40" y="778.09" width="8.15" height="22.08" fill="#bedceb"/>
<rect x="523.20" y="778.09" width="8.15" height="22.08" fill="#f7fccd"/>
<rect x="172.20" y="810.90" width="8.15" height="22.35" fill="#9bc6df"/>
<rect x="180.00" y="810.90" width="8.15" height="22.35" fill="#8cbad8"/>
<rect x="187.80" y="810.90" width="8.15" height="22.35" fill="#d4ebf3"/>
<rect x="195.60" y="810.90" width="8.15" height="22.35" fill="#e4f5f0"/>
<rect x="203.40" y="810.90" width="8.15" height="22.35" fill="#bedceb"/>
<rect x="211.20" y="810.90" width="8.15" height="22.35" fill="#d9362a"/>
<rect x="219.00" y="810.90" width="8.15" height="22.35" fill="#f7fccd"/>
<rect x="226.80" y="810.90" width="8.15" height="22.35" fill="#feda8c"/>
<rect x="234.60" y="810.90" width="8.15" height="22.35" fill="#acd1e5"/>
<rect x="242.40" y="810.90" width="8.15" height="22.35" fill="#8cbad8"/>
<rect x="250.20" y="810.90" width="8.15" height="22.35" fill="#d4ebf3"/>
<rect x="258.00" y="810.90" width="8.15" height="22.35" fill="#e4f5f0"/>
<rect x="265.80" y="810.90" width="8.15" height="22.35" fill="#fc8d59"/>
<rect x="273.60" y="810.90" width="8.15" height="22.35" fill="#e4f5f0"/>
<rect x="281.40" y="810.90" width="8.15" height="22.35" fill="#eef9dd"/>
<rect x="289.20" y="810.90" width="8.15" height="22.35" fill="#8cbad8"/>
<rect x="297.00" y="810.90" width="8.15" height="22.35" fill="#f7fccd"/>
<rect x="304.80" y="810.90" width="8.15" height="22.35" fill="#e4f5f0"/>
<rect x="312.60" y="810.90" width="8.15" height="22.35" fill="#e4f5f0"/>
<rect x="320.40" y="810.90" width="8.15" height="22.35" fill="#9bc6df"/>
<rect x="328.20" y="810.90" width="8.15" height="22.35" fill="#e4f5f0"/>
<rect x="336.00" y="810.90" width="8.15" height="22.35" fill="#8cbad8"/>
<rect x="343.80" y="810.90" width="8.15" height="22.35" fill="#fff3ac"/>
<rect x="351.60" y="810.90" width="8.15" height="22.35" fill="#bedceb"/>
<rect x="359.40" y="810.90" width="8.15" height="22.35" fill="#bedceb"/>
<rect x="367.20" y="810.90" width="8.15" height="22.35" fill="#f7fccd"/>
<rect x="375.00" y="810.90" width="8.15" height="22.35" fill="#8cbad8"/>
<rect x="382.80" y="810.90" width="8.15" height="22.35" fill="#9bc6df"/>
<rect x="390.60" y="810.90" width="8.15" height="22.35" fill="#eef9dd"/>
<rect x="398.40" y="810.90" width="8.15" height="22.35" fill="#d4ebf3"/>
<rect x="406.20" y="810.90" width="8.15" height="22.35" fill="#eef9dd"/>
<rect x="414.00" y="810.90" width="8.15" height="22.35" fill="#eef9dd"/>
<rect x="421.80" y="810.90" width="8.15" height="22.35" fill="#eef9dd"/>
<rect x="429.60" y="810.90" width="8.15" height="22.35" fill="#bedceb"/>
<rect x="437.40" y="810.90" width="8.15" height="22.35" fill="#bedceb"/>
<rect x="445.20" y="810.90" width="8.15" height="22.35" fill="#d4ebf3"/>
<rect x="453.00" y="810.90" width="8.15" height="22.35" fill="#fff3ac"/>
<rect x="460.80" y="810.90" width="8.15" height="22.35" fill="#eef9dd"/>
<rect x="468.60" y="810.90" width="8.15" height="22.35" fill="#6998c7"/>
<rect x="476.40" y="810.90" width="8.15" height="22.35" fill="#4f7fb9"/>
<rect x="484.20" y="810.90" width="8.15" height="22.35" fill="#acd1e5"/>
<rect x="492.00" y="810.90" width="8.15" height="22.35" fill="#4f7fb9"/>
<rect x="499.80" y="810.90" width="8.15" height="22.35" fill="#8cbad8"/>
<rect x="507.60" y="810.90" width="8.15" height="22.35" fill="#d4ebf3"/>
<rect x="515.40" y="810.90" width="8.15" height="22.35" fill="#acd1e5"/>
<rect x="523.20" y="810.90" width="8.15" height="22.35" fill="#e4f5f0"/>
<rect x="172.20" y="832.90" width="8.15" height="22.35" fill="#bedceb"/>
<rect x="180.00" y="832.90" width="8.15" height="22.35" fill="#9bc6df"/>
<rect x="187.80" y="832.90" width="8.15" height="22.35" fill="#e4f5f0"/>
<rect x="195.60" y="832.90" width="8.15" height="22.35" fill="#e4f5f0"/>
<rect x="203.40" y="832.90" width="8.15" height="22.35" fill="#7eadd2"/>
<rect x="211.20" y="832.90" width="8.15" height="22.35" fill="#f07049"/>
<rect x="219.00" y="832.90" width="8.15" height="22.35" fill="#eef9dd"/>
<rect x="226.80" y="832.90" width="8.15" height="22.35" fill="#fffebd"/>
<rect x="234.60" y="832.90" width="8.15" height="22.35" fill="#8cbad8"/>
<rect x="242.40" y="832.90" width="8.15" height="22.35" fill="#acd1e5"/>
<rect x="250.20" y="832.90" width="8.15" height="22.35" fill="#bedceb"/>
<rect x="258.00" y="832.90" width="8.15" height="22.35" fill="#e4f5f0"/>
<rect x="265.80" y="832.90" width="8.15" height="22.35" fill="#f7fccd"/>
<rect x="273.60" y="832.90" width="8.15" height="22.35" fill="#bedceb"/>
<rect x="281.40" y="832.90" width="8.15" height="22.35" fill="#e4f5f0"/>
<rect x="289.20" y="832.90" width="8.15" height="22.35" fill="#6998c7"/>
<rect x="297.00" y="832.90" width="8.15" height="22.35" fill="#eef9dd"/>
<rect x="304.80" y="832.90" width="8.15" height="22.35" fill="#bedceb"/>
<rect x="312.60" y="832.90" width="8.15" height="22.35" fill="#eef9dd"/>
<rect x="320.40" y="832.90" width="8.15" height="22.35" fill="#7eadd2"/>
<rect x="328.20" y="832.90" width="8.15" height="22.35" fill="#acd1e5"/>
<rect x="336.00" y="832.90" width="8.15" height="22.35" fill="#6998c7"/>
<rect x="343.80" y="832.90" width="8.15" height="22.35" fill="#acd1e5"/>
<rect x="351.60" y="832.90" width="8.15" height="22.35" fill="#fee79b"/>
<rect x="359.40" y="832.90" width="8.15" height="22.35" fill="#fee79b"/>
<rect x="367.20" y="832.90" width="8.15" height="22.35" fill="#feda8c"/>
<rect x="375.00" y="832.90" width="8.15" height="22.35" fill="#9bc6df"/>
<rect x="382.80" y="832.90" width="8.15" height="22.35" fill="#e4f5f0"/>
<rect x="390.60" y="832.90" width="8.15" height="22.35" fill="#f7fccd"/>
<rect x="398.40" y="832.90" width="8.15" height="22.35" fill="#e4f5f0"/>
<rect x="406.20" y="832.90" width="8.15" height="22.35" fill="#e4f5f0"/>
<rect x="414.00" y="832.90" width="8.15" height="22.35" fill="#f7fccd"/>
<rect x="421.80" y="832.90" width="8.15" height="22.35" fill="#f7fccd"/>
<rect x="429.60" y="832.90" width="8.15" height="22.35" fill="#e4f5f0"/>
<rect x="437.40" y="832.90" width="8.15" height="22.35" fill="#8cbad8"/>
<rect x="445.20" y="832.90" width="8.15" height="22.35" fill="#eef9dd"/>
<rect x="453.00" y="832.90" width="8.15" height="22.35" fill="#f7fccd"/>
<rect x="460.80" y="832.90" width="8.15" height="22.35" fill="#fee79b"/>
<rect x="468.60" y="832.90" width="8.15" height="22.35" fill="#4f7fb9"/>
<rect x="476.40" y="832.90" width="8.15" height="22.35" fill="#4f7fb9"/>
<rect x="484.20" y="832.90" width="8.15" height="22.35" fill="#bedceb"/>
<rect x="492.00" y="832.90" width="8.15" height="22.35" fill="#6998c7"/>
<rect x="499.80" y="832.90" width="8.15" height="22.35" fill="#e4f5f0"/>
<rect x="507.60" y="832.90" width="8.15" height="22.35" fill="#eef9dd"/>
<rect x="515.40" y="832.90" width="8.15" height="22.35" fill="#bedceb"/>
<rect x="523.20" y="832.90" width="8.15" height="22.35" fill="#bedceb"/>
<rect x="172.20" y="854.90" width="8.15" height="22.35" fill="#6998c7"/>
<rect x="180.00" y="854.90" width="8.15" height="22.35" fill="#bedceb"/>
<rect x="187.80" y="854.90" width="8.15" height="22.35" fill="#f7fccd"/>
<rect x="195.60" y="854.90" width="8.15" height="22.35" fill="#fdc07b"/>
<rect x="203.40" y="854.90" width="8.15" height="22.35" fill="#74a3cc"/>
<rect x="211.20" y="854.90" width="8.15" height="22.35" fill="#fdc07b"/>
<rect x="219.00" y="854.90" width="8.15" height="22.35" fill="#e4f5f0"/>
<rect x="226.80" y="854.90" width="8.15" height="22.35" fill="#e4f5f0"/>
<rect x="234.60" y="854.90" width="8.15" height="22.35" fill="#f7fccd"/>
<rect x="242.40" y="854.90" width="8.15" height="22.35" fill="#e4f5f0"/>
<rect x="250.20" y="854.90" width="8.15" height="22.35" fill="#e4f5f0"/>
<rect x="258.00" y="854.90" width="8.15" height="22.35" fill="#e4f5f0"/>
<rect x="265.80" y="854.90" width="8.15" height="22.35" fill="#e4f5f0"/>
<rect x="273.60" y="854.90" width="8.15" height="22.35" fill="#fee79b"/>
<rect x="281.40" y="854.90" width="8.15" height="22.35" fill="#bedceb"/>
<rect x="289.20" y="854.90" width="8.15" height="22.35" fill="#d4ebf3"/>
<rect x="297.00" y="854.90" width="8.15" height="22.35" fill="#eef9dd"/>
<rect x="304.80" y="854.90" width="8.15" height="22.35" fill="#e4f5f0"/>
<rect x="312.60" y="854.90" width="8.15" height="22.35" fill="#fffebd"/>
<rect x="320.40" y="854.90" width="8.15" height="22.35" fill="#74a3cc"/>
<rect x="328.20" y="854.90" width="8.15" height="22.35" fill="#7eadd2"/>
<rect x="336.00" y="854.90" width="8.15" height="22.35" fill="#4f7fb9"/>
<rect x="343.80" y="854.90" width="8.15" height="22.35" fill="#7eadd2"/>
<rect x="351.60" y="854.90" width="8.15" height="22.35" fill="#feda8c"/>
<rect x="359.40" y="854.90" width="8.15" height="22.35" fill="#fffebd"/>
<rect x="367.20" y="854.90" width="8.15" height="22.35" fill="#fffebd"/>
<rect x="375.00" y="854.90" width="8.15" height="22.35" fill="#bedceb"/>
<rect x="382.80" y="854.90" width="8.15" height="22.35" fill="#8cbad8"/>
<rect x="390.60" y="854.90" width="8.15" height="22.35" fill="#e4f5f0"/>
<rect x="398.40" y="854.90" width="8.15" height="22.35" fill="#eef9dd"/>
<rect x="406.20" y="854.90" width="8.15" height="22.35" fill="#e4f5f0"/>
<rect x="414.00" y="854.90" width="8.15" height="22.35" fill="#fffebd"/>
<rect x="421.80" y="854.90" width="8.15" height="22.35" fill="#fffebd"/>
<rect x="429.60" y="854.90" width="8.15" height="22.35" fill="#eef9dd"/>
<rect x="437.40" y="854.90" width="8.15" height="22.35" fill="#7eadd2"/>
<rect x="445.20" y="854.90" width="8.15" height="22.35" fill="#f7fccd"/>
<rect x="453.00" y="854.90" width="8.15" height="22.35" fill="#f7fccd"/>
<rect x="460.80" y="854.90" width="8.15" height="22.35" fill="#f7fccd"/>
<rect x="468.60" y="854.90" width="8.15" height="22.35" fill="#7eadd2"/>
<rect x="476.40" y="854.90" width="8.15" height="22.35" fill="#4f7fb9"/>
<rect x="484.20" y="854.90" width="8.15" height="22.35" fill="#bedceb"/>
<rect x="492.00" y="854.90" width="8.15" height="22.35" fill="#4f7fb9"/>
<rect x="499.80" y="854.90" width="8.15" height="22.35" fill="#e4f5f0"/>
<rect x="507.60" y="854.90" width="8.15" height="22.35" fill="#e4f5f0"/>
<rect x="515.40" y="854.90" width="8.15" height="22.35" fill="#d4ebf3"/>
<rect x="523.20" y="854.90" width="8.15" height="22.35" fill="#7eadd2"/>
<rect x="172.20" y="876.90" width="8.15" height="22.35" fill="#f07049"/>
<rect x="180.00" y="876.90" width="8.15" height="22.35" fill="#fffebd"/>
<rect x="187.80" y="876.90" width="8.15" height="22.35" fill="#eef9dd"/>
<rect x="195.60" y="876.90" width="8.15" height="22.35" fill="#d4ebf3"/>
<rect x="203.40" y="876.90" width="8.15" height="22.35" fill="#eef9dd"/>
<rect x="211.20" y="876.90" width="8.15" height="22.35" fill="#fffebd"/>
<rect x="219.00" y="876.90" width="8.15" height="22.35" fill="#bedceb"/>
<rect x="226.80" y="876.90" width="8.15" height="22.35" fill="#eef9dd"/>
<rect x="234.60" y="876.90" width="8.15" height="22.35" fill="#4f7fb9"/>
<rect x="242.40" y="876.90" width="8.15" height="22.35" fill="#f7fccd"/>
<rect x="250.20" y="876.90" width="8.15" height="22.35" fill="#9bc6df"/>
<rect x="258.00" y="876.90" width="8.15" height="22.35" fill="#d4ebf3"/>
<rect x="265.80" y="876.90" width="8.15" height="22.35" fill="#7eadd2"/>
<rect x="273.60" y="876.90" width="8.15" height="22.35" fill="#9bc6df"/>
<rect x="281.40" y="876.90" width="8.15" height="22.35" fill="#8cbad8"/>
<rect x="289.20" y="876.90" width="8.15" height="22.35" fill="#74a3cc"/>
<rect x="297.00" y="876.90" width="8.15" height="22.35" fill="#8cbad8"/>
<rect x="304.80" y="876.90" width="8.15" height="22.35" fill="#9bc6df"/>
<rect x="312.60" y="876.90" width="8.15" height="22.35" fill="#d4ebf3"/>
<rect x="320.40" y="876.90" width="8.15" height="22.35" fill="#9bc6df"/>
<rect x="328.20" y="876.90" width="8.15" height="22.35" fill="#f7fccd"/>
<rect x="336.00" y="876.90" width="8.15" height="22.35" fill="#8cbad8"/>
<rect x="343.80" y="876.90" width="8.15" height="22.35" fill="#acd1e5"/>
<rect x="351.60" y="876.90" width="8.15" height="22.35" fill="#fee79b"/>
<rect x="359.40" y="876.90" width="8.15" height="22.35" fill="#eef9dd"/>
<rect x="367.20" y="876.90" width="8.15" height="22.35" fill="#eef9dd"/>
<rect x="375.00" y="876.90" width="8.15" height="22.35" fill="#bedceb"/>
<rect x="382.80" y="876.90" width="8.15" height="22.35" fill="#f7fccd"/>
<rect x="390.60" y="876.90" width="8.15" height="22.35" fill="#e4f5f0"/>
<rect x="398.40" y="876.90" width="8.15" height="22.35" fill="#f7fccd"/>
<rect x="406.20" y="876.90" width="8.15" height="22.35" fill="#9bc6df"/>
<rect x="414.00" y="876.90" width="8.15" height="22.35" fill="#fee79b"/>
<rect x="421.80" y="876.90" width="8.15" height="22.35" fill="#fee79b"/>
<rect x="429.60" y="876.90" width="8.15" height="22.35" fill="#feda8c"/>
<rect x="437.40" y="876.90" width="8.15" height="22.35" fill="#7eadd2"/>
<rect x="445.20" y="876.90" width="8.15" height="22.35" fill="#bedceb"/>
<rect x="453.00" y="876.90" width="8.15" height="22.35" fill="#bedceb"/>
<rect x="460.80" y="876.90" width="8.15" height="22.35" fill="#e4f5f0"/>
<rect x="468.60" y="876.90" width="8.15" height="22.35" fill="#6998c7"/>
<rect x="476.40" y="876.90" width="8.15" height="22.35" fill="#7eadd2"/>
<rect x="484.20" y="876.90" width="8.15" height="22.35" fill="#e4f5f0"/>
<rect x="492.00" y="876.90" width="8.15" height="22.35" fill="#eef9dd"/>
<rect x="499.80" y="876.90" width="8.15" height="22.35" fill="#e4f5f0"/>
<rect x="507.60" y="876.90" width="8.15" height="22.35" fill="#fffebd"/>
<rect x="515.40" y="876.90" width="8.15" height="22.35" fill="#7eadd2"/>
<rect x="523.20" y="876.90" width="8.15" height="22.35" fill="#d4ebf3"/>
<rect x="172.20" y="898.90" width="8.15" height="22.35" fill="#f07049"/>
<rect x="180.00" y="898.90" width="8.15" height="22.35" fill="#fff3ac"/>
<rect x="187.80" y="898.90" width="8.15" height="22.35" fill="#bedceb"/>
<rect x="195.60" y="898.90" width="8.15" height="22.35" fill="#9bc6df"/>
<rect x="203.40" y="898.90" width="8.15" height="22.35" fill="#d4ebf3"/>
<rect x="211.20" y="898.90" width="8.15" height="22.35" fill="#e4f5f0"/>
<rect x="219.00" y="898.90" width="8.15" height="22.35" fill="#e4f5f0"/>
<rect x="226.80" y="898.90" width="8.15" height="22.35" fill="#bedceb"/>
<rect x="234.60" y="898.90" width="8.15" height="22.35" fill="#4f7fb9"/>
<rect x="242.40" y="898.90" width="8.15" height="22.35" fill="#9bc6df"/>
<rect x="250.20" y="898.90" width="8.15" height="22.35" fill="#9bc6df"/>
<rect x="258.00" y="898.90" width="8.15" height="22.35" fill="#8cbad8"/>
<rect x="265.80" y="898.90" width="8.15" height="22.35" fill="#4f7fb9"/>
<rect x="273.60" y="898.90" width="8.15" height="22.35" fill="#eef9dd"/>
<rect x="281.40" y="898.90" width="8.15" height="22.35" fill="#eef9dd"/>
<rect x="289.20" y="898.90" width="8.15" height="22.35" fill="#bedceb"/>
<rect x="297.00" y="898.90" width="8.15" height="22.35" fill="#e4f5f0"/>
<rect x="304.80" y="898.90" width="8.15" height="22.35" fill="#d4ebf3"/>
<rect x="312.60" y="898.90" width="8.15" height="22.35" fill="#bedceb"/>
<rect x="320.40" y="898.90" width="8.15" height="22.35" fill="#d4ebf3"/>
<rect x="328.20" y="898.90" width="8.15" height="22.35" fill="#fffebd"/>
<rect x="336.00" y="898.90" width="8.15" height="22.35" fill="#eef9dd"/>
<rect x="343.80" y="898.90" width="8.15" height="22.35" fill="#eef9dd"/>
<rect x="351.60" y="898.90" width="8.15" height="22.35" fill="#fffebd"/>
<rect x="359.40" y="898.90" width="8.15" height="22.35" fill="#fff3ac"/>
<rect x="367.20" y="898.90" width="8.15" height="22.35" fill="#bedceb"/>
<rect x="375.00" y="898.90" width="8.15" height="22.35" fill="#f7fccd"/>
<rect x="382.80" y="898.90" width="8.15" height="22.35" fill="#e4f5f0"/>
<rect x="390.60" y="898.90" width="8.15" height="22.35" fill="#e4f5f0"/>
<rect x="398.40" y="898.90" width="8.15" height="22.35" fill="#e4f5f0"/>
<rect x="406.20" y="898.90" width="8.15" height="22.35" fill="#fda66a"/>
<rect x="414.00" y="898.90" width="8.15" height="22.35" fill="#fff3ac"/>
<rect x="421.80" y="898.90" width="8.15" height="22.35" fill="#f7fccd"/>
<rect x="429.60" y="898.90" width="8.15" height="22.35" fill="#f7fccd"/>
<rect x="437.40" y="898.90" width="8.15" height="22.35" fill="#7eadd2"/>
<rect x="445.20" y="898.90" width="8.15" height="22.35" fill="#bedceb"/>
<rect x="453.00" y="898.90" width="8.15" height="22.35" fill="#9bc6df"/>
<rect x="460.80" y="898.90" width="8.15" height="22.35" fill="#8cbad8"/>
<rect x="468.60" y="898.90" width="8.15" height="22.35" fill="#9bc6df"/>
<rect x="476.40" y="898.90" width="8.15" height="22.35" fill="#8cbad8"/>
<rect x="484.20" y="898.90" width="8.15" height="22.35" fill="#bedceb"/>
<rect x="492.00" y="898.90" width="8.15" height="22.35" fill="#acd1e5"/>
<rect x="499.80" y="898.90" width="8.15" height="22.35" fill="#74a3cc"/>
<rect x="507.60" y="898.90" width="8.15" height="22.35" fill="#e4f5f0"/>
<rect x="515.40" y="898.90" width="8.15" height="22.35" fill="#fff3ac"/>
<rect x="523.20" y="898.90" width="8.15" height="22.35" fill="#acd1e5"/>
</g>
<rect x="168.6" y="53.6" width="365.7" height="154.0" fill="none" stroke="#E41A1C" stroke-width="1.6"/>
<rect x="168.6" y="371.9" width="365.7" height="154.5" fill="none" stroke="#E41A1C" stroke-width="1.6"/>
<rect x="168.6" y="757.0" width="365.7" height="44.3" fill="none" stroke="#E41A1C" stroke-width="1.6"/>
<g font-size="24.4" fill="#000">
<text x="538.8" y="73.3">TXB<tspan font-size="13.5" font-weight="bold">2</tspan></text>
<text x="538.8" y="95.2">PGF<tspan font-size="13.5" font-weight="bold">2α</tspan></text>
<text x="538.8" y="117.2">PGE<tspan font-size="13.5" font-weight="bold">2</tspan></text>
<text x="538.8" y="139.1">8isoPGA<tspan font-size="13.5" font-weight="bold">2</tspan></text>
<text x="538.8" y="161.1">PGD<tspan font-size="13.5" font-weight="bold">2</tspan></text>
<text x="538.8" y="183.0">15dPGJ<tspan font-size="13.5" font-weight="bold">2</tspan></text>
<text x="538.8" y="205.0">6kPGF<tspan font-size="13.5" font-weight="bold">1α</tspan></text>
<text x="538.8" y="226.9">PGE<tspan font-size="13.5" font-weight="bold">3</tspan></text>
<text x="538.8" y="258.6">9−HODE</text>
<text x="538.8" y="280.7">9−Oxo−ODE</text>
<text x="538.8" y="302.7">12−TriHOME</text>
<text x="538.8" y="324.8">10−TriHOME</text>
<text x="538.8" y="346.9">13−HODE</text>
<text x="538.8" y="368.9">13−OxoODE</text>
<text x="538.8" y="391.0">15−HETE</text>
<text x="538.8" y="413.1">12−HETE</text>
<text x="538.8" y="435.2">8−HETE</text>
<text x="538.8" y="457.2">5−HETE</text>
<text x="538.8" y="479.3">5oxoETE</text>
<text x="538.8" y="501.4">LxA4</text>
<text x="538.8" y="523.4">LTB4</text>
<text x="538.8" y="545.5">9−HOTrE</text>
<text x="538.8" y="567.6">13−HOTrE</text>
<text x="538.8" y="589.7">14−HDoHE</text>
<text x="538.8" y="611.7">7-MaR1</text>
<text x="538.8" y="633.8">17−HDoHE</text>
<text x="538.8" y="655.9">PDx</text>
<text x="538.8" y="677.9">RvD5</text>
<text x="538.8" y="700.0">18−HEPE</text>
<text x="538.8" y="732.1">12,13−DiHOME</text>
<text x="538.8" y="753.8">9,10−DiHOME</text>
<text x="538.8" y="775.6">8,9−EET</text>
<text x="538.8" y="797.3">5,6−EET</text>
<text x="538.8" y="830.1">C10−3OH</text>
<text x="538.8" y="852.1">C12−3OH</text>
<text x="538.8" y="874.1">C14−3OH</text>
<text x="538.8" y="896.1">C16−3OH</text>
<text x="538.8" y="918.1">C18−3OH</text>
</g>
<path d="M72.7 54.1 H51.9 V227.6 H72.7" fill="none" stroke="#000" stroke-width="2"/>
<path d="M72.7 240.5 H51.9 V701.5 H72.7" fill="none" stroke="#000" stroke-width="2"/>
<path d="M72.7 714 H51.9 V800.5 H72.7" fill="none" stroke="#000" stroke-width="2"/>
<path d="M72.7 812 H51.9 V920 H72.7" fill="none" stroke="#000" stroke-width="2"/>
<g font-size="23.3" fill="#000">
<text x="0" y="158.8">COX</text>
<text x="0" y="477.5">LOX</text>
<text x="0" y="764.5">CYP</text>
<text x="0" y="873.5">BOx</text>
</g>
<line x1="163.9" y1="57.5" x2="163.9" y2="201.6" stroke="#555" stroke-width="1.3"/>
<line x1="163.9" y1="208.3" x2="163.9" y2="229" stroke="#555" stroke-width="1.3"/>
<line x1="163.9" y1="243.5" x2="163.9" y2="369" stroke="#555" stroke-width="1.3"/>
<line x1="163.9" y1="372.5" x2="163.9" y2="523" stroke="#555" stroke-width="1.3"/>
<line x1="163.9" y1="527.5" x2="163.9" y2="572" stroke="#555" stroke-width="1.3"/>
<line x1="163.9" y1="575" x2="163.9" y2="678" stroke="#555" stroke-width="1.3"/>
<line x1="163.9" y1="681" x2="163.9" y2="702" stroke="#555" stroke-width="1.3"/>
<line x1="163.9" y1="714" x2="163.9" y2="755.5" stroke="#555" stroke-width="1.3"/>
<line x1="163.9" y1="758.4" x2="163.9" y2="799.8" stroke="#555" stroke-width="1.3"/>
<g font-size="24.8" fill="#4d4d4d" text-anchor="end">
<text x="144" y="84.5" fill="#707070">Source</text>
<text x="160.3" y="135.8">ARA (n6)</text>
<text x="160.3" y="223">EPA (n3)</text>
<text x="157" y="310.8">LA (n6)</text>
<text x="160.3" y="455">ARA (n6)</text>
<text x="159" y="556">ALA (n3)</text>
<text x="160.3" y="631.5">DHA (n3)</text>
<text x="160.3" y="696.5">EPA (n3)</text>
<text x="157" y="741.5">LA (n6)</text>
<text x="160.3" y="784.5">ARA (n6)</text>
</g>
<text x="-1.2" y="42.8" font-size="28.5" font-weight="bold">A</text>
<defs><linearGradient id="cb" x1="0" y1="1" x2="0" y2="0">
<stop offset="0.0000" stop-color="#4575B4"/>
<stop offset="0.1667" stop-color="#91BFDB"/>
<stop offset="0.3333" stop-color="#E0F3F8"/>
<stop offset="0.5000" stop-color="#FFFFBF"/>
<stop offset="0.6667" stop-color="#FEE090"/>
<stop offset="0.8333" stop-color="#FC8D59"/>
<stop offset="1.0000" stop-color="#D73027"/>
</linearGradient></defs>
<rect x="694.6" y="18.5" width="24.4" height="367.2" fill="url(#cb)"/>
<g font-size="23.3" fill="#000">
<text x="729.4" y="81.7">3</text>
<text x="729.4" y="145.4">2</text>
<text x="729.4" y="207.4">1</text>
<text x="729.4" y="271.4">0</text>
<text x="729.4" y="335.4">−1</text>
</g>
<g>
<line x1="850.7" y1="380.3" x2="857.4" y2="380.3" stroke="#b3b3b3" stroke-width="1.4"/>
<text x="844.8" y="389.0" font-size="25" fill="#4d4d4d" text-anchor="end">0</text>
<line x1="850.7" y1="318.8" x2="857.4" y2="318.8" stroke="#b3b3b3" stroke-width="1.4"/>
<text x="844.8" y="327.5" font-size="25" fill="#4d4d4d" text-anchor="end">100</text>
<line x1="850.7" y1="257.3" x2="857.4" y2="257.3" stroke="#b3b3b3" stroke-width="1.4"/>
<text x="844.8" y="266.0" font-size="25" fill="#4d4d4d" text-anchor="end">200</text>
<line x1="850.7" y1="195.4" x2="857.4" y2="195.4" stroke="#b3b3b3" stroke-width="1.4"/>
<text x="844.8" y="204.1" font-size="25" fill="#4d4d4d" text-anchor="end">300</text>
<line x1="850.7" y1="133.9" x2="857.4" y2="133.9" stroke="#b3b3b3" stroke-width="1.4"/>
<text x="844.8" y="142.6" font-size="25" fill="#4d4d4d" text-anchor="end">400</text>
<line x1="886.0" y1="381.6" x2="886.0" y2="388.3" stroke="#b3b3b3" stroke-width="1.4"/>
<text x="886.0" y="412.0" font-size="25" fill="#4d4d4d" text-anchor="middle">1</text>
<line x1="934.2" y1="381.6" x2="934.2" y2="388.3" stroke="#b3b3b3" stroke-width="1.4"/>
<text x="934.2" y="412.0" font-size="25" fill="#4d4d4d" text-anchor="middle">2</text>
<line x1="982.3" y1="381.6" x2="982.3" y2="388.3" stroke="#b3b3b3" stroke-width="1.4"/>
<text x="982.3" y="412.0" font-size="25" fill="#4d4d4d" text-anchor="middle">6</text>
<line x1="1030.5" y1="381.6" x2="1030.5" y2="388.3" stroke="#b3b3b3" stroke-width="1.4"/>
<text x="1030.5" y="412.0" font-size="25" fill="#4d4d4d" text-anchor="middle">8</text>
<line x1="1078.6" y1="381.6" x2="1078.6" y2="388.3" stroke="#b3b3b3" stroke-width="1.4"/>
<text x="1078.6" y="412.0" font-size="25" fill="#4d4d4d" text-anchor="middle">3</text>
<line x1="1126.7" y1="381.6" x2="1126.7" y2="388.3" stroke="#b3b3b3" stroke-width="1.4"/>
<text x="1126.7" y="412.0" font-size="25" fill="#4d4d4d" text-anchor="middle">5</text>
<circle cx="886.0" cy="278.9" r="4.2" fill="#006400"/>
<circle cx="886.0" cy="315.0" r="4.2" fill="#006400"/>
<circle cx="886.0" cy="330.9" r="4.2" fill="#006400"/>
<circle cx="886.0" cy="340.5" r="4.2" fill="#006400"/>
<circle cx="886.0" cy="343.6" r="4.2" fill="#006400"/>
<circle cx="886.0" cy="347.5" r="4.2" fill="#006400"/>
<circle cx="886.0" cy="351.6" r="4.2" fill="#006400"/>
<circle cx="934.2" cy="147.0" r="4.2" fill="#9ACD32"/>
<circle cx="934.2" cy="159.7" r="4.2" fill="#9ACD32"/>
<circle cx="934.2" cy="209.4" r="4.2" fill="#9ACD32"/>
<circle cx="934.2" cy="215.8" r="4.2" fill="#9ACD32"/>
<circle cx="934.2" cy="242.3" r="4.2" fill="#9ACD32"/>
<circle cx="934.2" cy="255.0" r="4.2" fill="#9ACD32"/>
<circle cx="934.2" cy="318.8" r="4.2" fill="#9ACD32"/>
<circle cx="982.3" cy="327.7" r="4.2" fill="#00008B"/>
<circle cx="982.3" cy="337.9" r="4.2" fill="#00008B"/>
<circle cx="982.3" cy="344.3" r="4.2" fill="#00008B"/>
<circle cx="982.3" cy="353.8" r="4.2" fill="#00008B"/>
<circle cx="982.3" cy="362.4" r="4.2" fill="#00008B"/>
<circle cx="982.3" cy="369.8" r="4.2" fill="#00008B"/>
<circle cx="1030.5" cy="109.0" r="4.2" fill="#5CACEE"/>
<circle cx="1030.5" cy="117.0" r="4.2" fill="#5CACEE"/>
<circle cx="1030.5" cy="128.1" r="4.2" fill="#5CACEE"/>
<circle cx="1030.5" cy="170.9" r="4.2" fill="#5CACEE"/>
<circle cx="1030.5" cy="197.6" r="4.2" fill="#5CACEE"/>
<circle cx="1030.5" cy="199.6" r="4.2" fill="#5CACEE"/>
<circle cx="1030.5" cy="228.2" r="4.2" fill="#5CACEE"/>
<circle cx="1030.5" cy="308.6" r="4.2" fill="#5CACEE"/>
<circle cx="1078.6" cy="322.0" r="4.2" fill="#8B0000"/>
<circle cx="1078.6" cy="325.2" r="4.2" fill="#8B0000"/>
<circle cx="1078.6" cy="332.5" r="4.2" fill="#8B0000"/>
<circle cx="1078.6" cy="342.7" r="4.2" fill="#8B0000"/>
<circle cx="1078.6" cy="352.2" r="4.2" fill="#8B0000"/>
<circle cx="1078.6" cy="360.2" r="4.2" fill="#8B0000"/>
<circle cx="1126.7" cy="176.0" r="4.2" fill="#FFA500"/>
<circle cx="1126.7" cy="180.7" r="4.2" fill="#FFA500"/>
<circle cx="1126.7" cy="260.8" r="4.2" fill="#FFA500"/>
<circle cx="1126.7" cy="267.1" r="4.2" fill="#FFA500"/>
<circle cx="1126.7" cy="288.5" r="4.2" fill="#FFA500"/>
<circle cx="1126.7" cy="314.0" r="4.2" fill="#FFA500"/>
<circle cx="1126.7" cy="318.1" r="4.2" fill="#FFA500"/>
<circle cx="1126.7" cy="366.0" r="4.2" fill="#FFA500"/>
<path d="M886.0 307.6 V356.4 M880.5 307.6 H891.5 M880.5 356.4 H891.5" stroke="#222" stroke-width="1.1" fill="none"/>
<path d="M934.2 162.6 V279.9 M928.7 162.6 H939.7 M928.7 279.9 H939.7" stroke="#222" stroke-width="1.1" fill="none"/>
<path d="M982.3 334.7 V362.4 M976.8 334.7 H987.8 M976.8 362.4 H987.8" stroke="#222" stroke-width="1.1" fill="none"/>
<path d="M1030.5 115.4 V249.0 M1025.0 115.4 H1036.0 M1025.0 249.0 H1036.0" stroke="#222" stroke-width="1.1" fill="none"/>
<path d="M1078.6 327.7 V355.4 M1073.1 327.7 H1084.1 M1073.1 355.4 H1084.1" stroke="#222" stroke-width="1.1" fill="none"/>
<path d="M1126.7 205.0 V337.3 M1121.2 205.0 H1132.2 M1121.2 337.3 H1132.2" stroke="#222" stroke-width="1.1" fill="none"/>
<path d="M857.4 95.6 V381.6 H1156.1" fill="none" stroke="#000" stroke-width="1.9"/>
</g>
<g>
<line x1="1251.4" y1="331.4" x2="1258.1" y2="331.4" stroke="#b3b3b3" stroke-width="1.4"/>
<text x="1245.5" y="340.1" font-size="25" fill="#4d4d4d" text-anchor="end">250</text>
<line x1="1251.4" y1="275.7" x2="1258.1" y2="275.7" stroke="#b3b3b3" stroke-width="1.4"/>
<text x="1245.5" y="284.4" font-size="25" fill="#4d4d4d" text-anchor="end">500</text>
<line x1="1251.4" y1="219.2" x2="1258.1" y2="219.2" stroke="#b3b3b3" stroke-width="1.4"/>
<text x="1245.5" y="227.9" font-size="25" fill="#4d4d4d" text-anchor="end">750</text>
<line x1="1251.4" y1="163.5" x2="1258.1" y2="163.5" stroke="#b3b3b3" stroke-width="1.4"/>
<text x="1245.5" y="172.2" font-size="25" fill="#4d4d4d" text-anchor="end">1000</text>
<line x1="1251.4" y1="108.3" x2="1258.1" y2="108.3" stroke="#b3b3b3" stroke-width="1.4"/>
<text x="1245.5" y="117.0" font-size="25" fill="#4d4d4d" text-anchor="end">1250</text>
<line x1="1285.2" y1="381.6" x2="1285.2" y2="388.3" stroke="#b3b3b3" stroke-width="1.4"/>
<text x="1285.2" y="412.0" font-size="25" fill="#4d4d4d" text-anchor="middle">1</text>
<line x1="1331.4" y1="381.6" x2="1331.4" y2="388.3" stroke="#b3b3b3" stroke-width="1.4"/>
<text x="1331.4" y="412.0" font-size="25" fill="#4d4d4d" text-anchor="middle">2</text>
<line x1="1377.6" y1="381.6" x2="1377.6" y2="388.3" stroke="#b3b3b3" stroke-width="1.4"/>
<text x="1377.6" y="412.0" font-size="25" fill="#4d4d4d" text-anchor="middle">6</text>
<line x1="1423.5" y1="381.6" x2="1423.5" y2="388.3" stroke="#b3b3b3" stroke-width="1.4"/>
<text x="1423.5" y="412.0" font-size="25" fill="#4d4d4d" text-anchor="middle">8</text>
<line x1="1469.4" y1="381.6" x2="1469.4" y2="388.3" stroke="#b3b3b3" stroke-width="1.4"/>
<text x="1469.4" y="412.0" font-size="25" fill="#4d4d4d" text-anchor="middle">3</text>
<line x1="1515.2" y1="381.6" x2="1515.2" y2="388.3" stroke="#b3b3b3" stroke-width="1.4"/>
<text x="1515.2" y="412.0" font-size="25" fill="#4d4d4d" text-anchor="middle">5</text>
<circle cx="1285.2" cy="257.5" r="4.2" fill="#006400"/>
<circle cx="1285.2" cy="321.9" r="4.2" fill="#006400"/>
<circle cx="1285.2" cy="328.2" r="4.2" fill="#006400"/>
<circle cx="1285.2" cy="332.1" r="4.2" fill="#006400"/>
<circle cx="1285.2" cy="341.0" r="4.2" fill="#006400"/>
<circle cx="1285.2" cy="356.9" r="4.2" fill="#006400"/>
<circle cx="1285.2" cy="369.7" r="4.2" fill="#006400"/>
<circle cx="1331.4" cy="108.7" r="4.2" fill="#9ACD32"/>
<circle cx="1331.4" cy="164.1" r="4.2" fill="#9ACD32"/>
<circle cx="1331.4" cy="232.6" r="4.2" fill="#9ACD32"/>
<circle cx="1331.4" cy="238.4" r="4.2" fill="#9ACD32"/>
<circle cx="1331.4" cy="286.2" r="4.2" fill="#9ACD32"/>
<circle cx="1331.4" cy="295.1" r="4.2" fill="#9ACD32"/>
<circle cx="1331.4" cy="309.1" r="4.2" fill="#9ACD32"/>
<circle cx="1377.6" cy="295.7" r="4.2" fill="#00008B"/>
<circle cx="1377.6" cy="329.8" r="4.2" fill="#00008B"/>
<circle cx="1377.6" cy="344.8" r="4.2" fill="#00008B"/>
<circle cx="1377.6" cy="347.4" r="4.2" fill="#00008B"/>
<circle cx="1377.6" cy="351.2" r="4.2" fill="#00008B"/>
<circle cx="1377.6" cy="356.9" r="4.2" fill="#00008B"/>
<circle cx="1377.6" cy="364.9" r="4.2" fill="#00008B"/>
<circle cx="1423.5" cy="157.7" r="4.2" fill="#5CACEE"/>
<circle cx="1423.5" cy="181.0" r="4.2" fill="#5CACEE"/>
<circle cx="1423.5" cy="213.8" r="4.2" fill="#5CACEE"/>
<circle cx="1423.5" cy="232.3" r="4.2" fill="#5CACEE"/>
<circle cx="1423.5" cy="246.3" r="4.2" fill="#5CACEE"/>
<circle cx="1423.5" cy="254.9" r="4.2" fill="#5CACEE"/>
<circle cx="1423.5" cy="316.4" r="4.2" fill="#5CACEE"/>
<circle cx="1469.4" cy="268.6" r="4.2" fill="#8B0000"/>
<circle cx="1469.4" cy="301.1" r="4.2" fill="#8B0000"/>
<circle cx="1469.4" cy="305.9" r="4.2" fill="#8B0000"/>
<circle cx="1469.4" cy="324.4" r="4.2" fill="#8B0000"/>
<circle cx="1469.4" cy="327.6" r="4.2" fill="#8B0000"/>
<circle cx="1469.4" cy="343.2" r="4.2" fill="#8B0000"/>
<circle cx="1469.4" cy="351.2" r="4.2" fill="#8B0000"/>
<circle cx="1469.4" cy="359.5" r="4.2" fill="#8B0000"/>
<circle cx="1515.2" cy="148.8" r="4.2" fill="#FFA500"/>
<circle cx="1515.2" cy="182.3" r="4.2" fill="#FFA500"/>
<circle cx="1515.2" cy="218.3" r="4.2" fill="#FFA500"/>
<circle cx="1515.2" cy="248.2" r="4.2" fill="#FFA500"/>
<circle cx="1515.2" cy="299.6" r="4.2" fill="#FFA500"/>
<circle cx="1515.2" cy="303.7" r="4.2" fill="#FFA500"/>
<circle cx="1515.2" cy="343.2" r="4.2" fill="#FFA500"/>
<circle cx="1515.2" cy="357.6" r="4.2" fill="#FFA500"/>
<path d="M1285.2 297.3 V364.2 M1279.7 297.3 H1290.7 M1279.7 364.2 H1290.7" stroke="#222" stroke-width="1.1" fill="none"/>
<path d="M1331.4 159.3 V307.5 M1325.9 159.3 H1336.9 M1325.9 307.5 H1336.9" stroke="#222" stroke-width="1.1" fill="none"/>
<path d="M1377.6 318.0 V364.2 M1372.1 318.0 H1383.1 M1372.1 364.2 H1383.1" stroke="#222" stroke-width="1.1" fill="none"/>
<path d="M1423.5 182.3 V279.8 M1418.0 182.3 H1429.0 M1418.0 279.8 H1429.0" stroke="#222" stroke-width="1.1" fill="none"/>
<path d="M1469.4 292.5 V352.1 M1463.9 292.5 H1474.9 M1463.9 352.1 H1474.9" stroke="#222" stroke-width="1.1" fill="none"/>
<path d="M1515.2 187.1 V338.4 M1509.7 187.1 H1520.7 M1509.7 338.4 H1520.7" stroke="#222" stroke-width="1.1" fill="none"/>
<path d="M1258.1 95.6 V381.6 H1542.7" fill="none" stroke="#000" stroke-width="1.9"/>
</g>
<g>
<line x1="1638.2" y1="335.2" x2="1644.9" y2="335.2" stroke="#b3b3b3" stroke-width="1.4"/>
<text x="1632.3" y="343.9" font-size="25" fill="#4d4d4d" text-anchor="end">500</text>
<line x1="1638.2" y1="272.5" x2="1644.9" y2="272.5" stroke="#b3b3b3" stroke-width="1.4"/>
<text x="1632.3" y="281.2" font-size="25" fill="#4d4d4d" text-anchor="end">1000</text>
<line x1="1638.2" y1="209.4" x2="1644.9" y2="209.4" stroke="#b3b3b3" stroke-width="1.4"/>
<text x="1632.3" y="218.1" font-size="25" fill="#4d4d4d" text-anchor="end">1500</text>
<line x1="1638.2" y1="146.6" x2="1644.9" y2="146.6" stroke="#b3b3b3" stroke-width="1.4"/>
<text x="1632.3" y="155.3" font-size="25" fill="#4d4d4d" text-anchor="end">2000</text>
<line x1="1672.0" y1="381.6" x2="1672.0" y2="388.3" stroke="#b3b3b3" stroke-width="1.4"/>
<text x="1672.0" y="412.0" font-size="25" fill="#4d4d4d" text-anchor="middle">1</text>
<line x1="1718.2" y1="381.6" x2="1718.2" y2="388.3" stroke="#b3b3b3" stroke-width="1.4"/>
<text x="1718.2" y="412.0" font-size="25" fill="#4d4d4d" text-anchor="middle">2</text>
<line x1="1764.4" y1="381.6" x2="1764.4" y2="388.3" stroke="#b3b3b3" stroke-width="1.4"/>
<text x="1764.4" y="412.0" font-size="25" fill="#4d4d4d" text-anchor="middle">6</text>
<line x1="1810.6" y1="381.6" x2="1810.6" y2="388.3" stroke="#b3b3b3" stroke-width="1.4"/>
<text x="1810.6" y="412.0" font-size="25" fill="#4d4d4d" text-anchor="middle">8</text>
<line x1="1856.5" y1="381.6" x2="1856.5" y2="388.3" stroke="#b3b3b3" stroke-width="1.4"/>
<text x="1856.5" y="412.0" font-size="25" fill="#4d4d4d" text-anchor="middle">3</text>
<line x1="1902.7" y1="381.6" x2="1902.7" y2="388.3" stroke="#b3b3b3" stroke-width="1.4"/>
<text x="1902.7" y="412.0" font-size="25" fill="#4d4d4d" text-anchor="middle">5</text>
<circle cx="1672.0" cy="232.6" r="4.2" fill="#006400"/>
<circle cx="1672.0" cy="303.4" r="4.2" fill="#006400"/>
<circle cx="1672.0" cy="305.3" r="4.2" fill="#006400"/>
<circle cx="1672.0" cy="312.3" r="4.2" fill="#006400"/>
<circle cx="1672.0" cy="326.6" r="4.2" fill="#006400"/>
<circle cx="1672.0" cy="329.8" r="4.2" fill="#006400"/>
<circle cx="1672.0" cy="355.3" r="4.2" fill="#006400"/>
<circle cx="1672.0" cy="359.5" r="4.2" fill="#006400"/>
<circle cx="1718.2" cy="109.0" r="4.2" fill="#9ACD32"/>
<circle cx="1718.2" cy="166.7" r="4.2" fill="#9ACD32"/>
<circle cx="1718.2" cy="170.5" r="4.2" fill="#9ACD32"/>
<circle cx="1718.2" cy="245.4" r="4.2" fill="#9ACD32"/>
<circle cx="1718.2" cy="260.7" r="4.2" fill="#9ACD32"/>
<circle cx="1718.2" cy="298.0" r="4.2" fill="#9ACD32"/>
<circle cx="1718.2" cy="304.3" r="4.2" fill="#9ACD32"/>
<circle cx="1764.4" cy="287.4" r="4.2" fill="#00008B"/>
<circle cx="1764.4" cy="334.0" r="4.2" fill="#00008B"/>
<circle cx="1764.4" cy="345.8" r="4.2" fill="#00008B"/>
<circle cx="1764.4" cy="349.9" r="4.2" fill="#00008B"/>
<circle cx="1764.4" cy="369.7" r="4.2" fill="#00008B"/>
<circle cx="1810.6" cy="156.8" r="4.2" fill="#5CACEE"/>
<circle cx="1810.6" cy="159.3" r="4.2" fill="#5CACEE"/>
<circle cx="1810.6" cy="169.9" r="4.2" fill="#5CACEE"/>
<circle cx="1810.6" cy="171.1" r="4.2" fill="#5CACEE"/>
<circle cx="1810.6" cy="179.1" r="4.2" fill="#5CACEE"/>
<circle cx="1810.6" cy="193.8" r="4.2" fill="#5CACEE"/>
<circle cx="1810.6" cy="247.6" r="4.2" fill="#5CACEE"/>
<circle cx="1810.6" cy="290.9" r="4.2" fill="#5CACEE"/>
<circle cx="1856.5" cy="297.0" r="4.2" fill="#8B0000"/>
<circle cx="1856.5" cy="302.7" r="4.2" fill="#8B0000"/>
<circle cx="1856.5" cy="314.9" r="4.2" fill="#8B0000"/>
<circle cx="1856.5" cy="316.4" r="4.2" fill="#8B0000"/>
<circle cx="1856.5" cy="329.2" r="4.2" fill="#8B0000"/>
<circle cx="1856.5" cy="337.8" r="4.2" fill="#8B0000"/>
<circle cx="1856.5" cy="356.9" r="4.2" fill="#8B0000"/>
<circle cx="1902.7" cy="156.8" r="4.2" fill="#FFA500"/>
<circle cx="1902.7" cy="176.9" r="4.2" fill="#FFA500"/>
<circle cx="1902.7" cy="177.8" r="4.2" fill="#FFA500"/>
<circle cx="1902.7" cy="279.5" r="4.2" fill="#FFA500"/>
<circle cx="1902.7" cy="295.1" r="4.2" fill="#FFA500"/>
<circle cx="1902.7" cy="301.8" r="4.2" fill="#FFA500"/>
<circle cx="1902.7" cy="312.9" r="4.2" fill="#FFA500"/>
<circle cx="1902.7" cy="347.7" r="4.2" fill="#FFA500"/>
<path d="M1672.0 276.0 V355.3 M1666.5 276.0 H1677.5 M1666.5 355.3 H1677.5" stroke="#222" stroke-width="1.1" fill="none"/>
<path d="M1718.2 148.2 V296.4 M1712.7 148.2 H1723.7 M1712.7 296.4 H1723.7" stroke="#222" stroke-width="1.1" fill="none"/>
<path d="M1764.4 312.9 V363.9 M1758.9 312.9 H1769.9 M1758.9 363.9 H1769.9" stroke="#222" stroke-width="1.1" fill="none"/>
<path d="M1810.6 148.2 V244.4 M1805.1 148.2 H1816.1 M1805.1 244.4 H1816.1" stroke="#222" stroke-width="1.1" fill="none"/>
<path d="M1856.5 302.1 V341.0 M1851.0 302.1 H1862.0 M1851.0 341.0 H1862.0" stroke="#222" stroke-width="1.1" fill="none"/>
<path d="M1902.7 182.3 V329.8 M1897.2 182.3 H1908.2 M1897.2 329.8 H1908.2" stroke="#222" stroke-width="1.1" fill="none"/>
<path d="M1644.9 95.6 V381.6 H1930.1" fill="none" stroke="#000" stroke-width="1.9"/>
</g>
<g>
<line x1="864.4" y1="739.2" x2="871.1" y2="739.2" stroke="#b3b3b3" stroke-width="1.4"/>
<text x="858.5" y="747.9" font-size="25" fill="#4d4d4d" text-anchor="end">400</text>
<line x1="864.4" y1="667.5" x2="871.1" y2="667.5" stroke="#b3b3b3" stroke-width="1.4"/>
<text x="858.5" y="676.2" font-size="25" fill="#4d4d4d" text-anchor="end">800</text>
<line x1="864.4" y1="595.9" x2="871.1" y2="595.9" stroke="#b3b3b3" stroke-width="1.4"/>
<text x="858.5" y="604.6" font-size="25" fill="#4d4d4d" text-anchor="end">1200</text>
<line x1="864.4" y1="524.3" x2="871.1" y2="524.3" stroke="#b3b3b3" stroke-width="1.4"/>
<text x="858.5" y="533.0" font-size="25" fill="#4d4d4d" text-anchor="end">1600</text>
<line x1="898.5" y1="802" x2="898.5" y2="808.7" stroke="#b3b3b3" stroke-width="1.4"/>
<text x="898.5" y="832.4" font-size="25" fill="#4d4d4d" text-anchor="middle">1</text>
<line x1="944.3" y1="802" x2="944.3" y2="808.7" stroke="#b3b3b3" stroke-width="1.4"/>
<text x="944.3" y="832.4" font-size="25" fill="#4d4d4d" text-anchor="middle">2</text>
<line x1="990.4" y1="802" x2="990.4" y2="808.7" stroke="#b3b3b3" stroke-width="1.4"/>
<text x="990.4" y="832.4" font-size="25" fill="#4d4d4d" text-anchor="middle">6</text>
<line x1="1036.5" y1="802" x2="1036.5" y2="808.7" stroke="#b3b3b3" stroke-width="1.4"/>
<text x="1036.5" y="832.4" font-size="25" fill="#4d4d4d" text-anchor="middle">8</text>
<line x1="1082.2" y1="802" x2="1082.2" y2="808.7" stroke="#b3b3b3" stroke-width="1.4"/>
<text x="1082.2" y="832.4" font-size="25" fill="#4d4d4d" text-anchor="middle">3</text>
<line x1="1128.3" y1="802" x2="1128.3" y2="808.7" stroke="#b3b3b3" stroke-width="1.4"/>
<text x="1128.3" y="832.4" font-size="25" fill="#4d4d4d" text-anchor="middle">5</text>
<circle cx="898.5" cy="672.2" r="4.2" fill="#006400"/>
<circle cx="898.5" cy="711.8" r="4.2" fill="#006400"/>
<circle cx="898.5" cy="713.3" r="4.2" fill="#006400"/>
<circle cx="898.5" cy="748.2" r="4.2" fill="#006400"/>
<circle cx="898.5" cy="754.4" r="4.2" fill="#006400"/>
<circle cx="898.5" cy="766.9" r="4.2" fill="#006400"/>
<circle cx="898.5" cy="775.6" r="4.2" fill="#006400"/>
<circle cx="944.3" cy="552.4" r="4.2" fill="#9ACD32"/>
<circle cx="944.3" cy="592.5" r="4.2" fill="#9ACD32"/>
<circle cx="944.3" cy="596.6" r="4.2" fill="#9ACD32"/>
<circle cx="944.3" cy="645.4" r="4.2" fill="#9ACD32"/>
<circle cx="944.3" cy="661.9" r="4.2" fill="#9ACD32"/>
<circle cx="944.3" cy="676.9" r="4.2" fill="#9ACD32"/>
<circle cx="944.3" cy="746.0" r="4.2" fill="#9ACD32"/>
<circle cx="990.4" cy="733.5" r="4.2" fill="#00008B"/>
<circle cx="990.4" cy="735.1" r="4.2" fill="#00008B"/>
<circle cx="990.4" cy="753.8" r="4.2" fill="#00008B"/>
<circle cx="990.4" cy="758.5" r="4.2" fill="#00008B"/>
<circle cx="990.4" cy="770.3" r="4.2" fill="#00008B"/>
<circle cx="990.4" cy="789.6" r="4.2" fill="#00008B"/>
<circle cx="1036.5" cy="563.9" r="4.2" fill="#5CACEE"/>
<circle cx="1036.5" cy="584.7" r="4.2" fill="#5CACEE"/>
<circle cx="1036.5" cy="632.4" r="4.2" fill="#5CACEE"/>
<circle cx="1036.5" cy="636.1" r="4.2" fill="#5CACEE"/>
<circle cx="1036.5" cy="689.0" r="4.2" fill="#5CACEE"/>
<circle cx="1036.5" cy="737.6" r="4.2" fill="#5CACEE"/>
<circle cx="1082.2" cy="685.3" r="4.2" fill="#8B0000"/>
<circle cx="1082.2" cy="697.4" r="4.2" fill="#8B0000"/>
<circle cx="1082.2" cy="718.9" r="4.2" fill="#8B0000"/>
<circle cx="1082.2" cy="722.7" r="4.2" fill="#8B0000"/>
<circle cx="1082.2" cy="746.6" r="4.2" fill="#8B0000"/>
<circle cx="1082.2" cy="761.6" r="4.2" fill="#8B0000"/>
<circle cx="1082.2" cy="764.7" r="4.2" fill="#8B0000"/>
<circle cx="1082.2" cy="775.0" r="4.2" fill="#8B0000"/>
<circle cx="1128.3" cy="528.7" r="4.2" fill="#FFA500"/>
<circle cx="1128.3" cy="631.7" r="4.2" fill="#FFA500"/>
<circle cx="1128.3" cy="649.8" r="4.2" fill="#FFA500"/>
<circle cx="1128.3" cy="658.8" r="4.2" fill="#FFA500"/>
<circle cx="1128.3" cy="686.2" r="4.2" fill="#FFA500"/>
<circle cx="1128.3" cy="695.6" r="4.2" fill="#FFA500"/>
<circle cx="1128.3" cy="769.4" r="4.2" fill="#FFA500"/>
<path d="M898.5 702.4 V774.0 M893.0 702.4 H904.0 M893.0 774.0 H904.0" stroke="#222" stroke-width="1.1" fill="none"/>
<path d="M944.3 574.1 V703.3 M938.8 574.1 H949.8 M938.8 703.3 H949.8" stroke="#222" stroke-width="1.1" fill="none"/>
<path d="M990.4 737.6 V776.2 M984.9 737.6 H995.9 M984.9 776.2 H995.9" stroke="#222" stroke-width="1.1" fill="none"/>
<path d="M1036.5 588.2 V703.0 M1031.0 588.2 H1042.0 M1031.0 703.0 H1042.0" stroke="#222" stroke-width="1.1" fill="none"/>
<path d="M1082.2 700.9 V767.2 M1076.7 700.9 H1087.7 M1076.7 767.2 H1087.7" stroke="#222" stroke-width="1.1" fill="none"/>
<path d="M1128.3 591.0 V726.4 M1122.8 591.0 H1133.8 M1122.8 726.4 H1133.8" stroke="#222" stroke-width="1.1" fill="none"/>
<path d="M871.1 515.6 V802 H1156.0" fill="none" stroke="#000" stroke-width="1.9"/>
</g>
<g>
<line x1="1251.4" y1="734.5" x2="1258.1" y2="734.5" stroke="#b3b3b3" stroke-width="1.4"/>
<text x="1245.5" y="743.2" font-size="25" fill="#4d4d4d" text-anchor="end">400</text>
<line x1="1251.4" y1="659.8" x2="1258.1" y2="659.8" stroke="#b3b3b3" stroke-width="1.4"/>
<text x="1245.5" y="668.5" font-size="25" fill="#4d4d4d" text-anchor="end">800</text>
<line x1="1251.4" y1="584.7" x2="1258.1" y2="584.7" stroke="#b3b3b3" stroke-width="1.4"/>
<text x="1245.5" y="593.4" font-size="25" fill="#4d4d4d" text-anchor="end">1200</text>
<line x1="1285.5" y1="802" x2="1285.5" y2="808.7" stroke="#b3b3b3" stroke-width="1.4"/>
<text x="1285.5" y="832.4" font-size="25" fill="#4d4d4d" text-anchor="middle">1</text>
<line x1="1331.3" y1="802" x2="1331.3" y2="808.7" stroke="#b3b3b3" stroke-width="1.4"/>
<text x="1331.3" y="832.4" font-size="25" fill="#4d4d4d" text-anchor="middle">2</text>
<line x1="1377.0" y1="802" x2="1377.0" y2="808.7" stroke="#b3b3b3" stroke-width="1.4"/>
<text x="1377.0" y="832.4" font-size="25" fill="#4d4d4d" text-anchor="middle">6</text>
<line x1="1423.4" y1="802" x2="1423.4" y2="808.7" stroke="#b3b3b3" stroke-width="1.4"/>
<text x="1423.4" y="832.4" font-size="25" fill="#4d4d4d" text-anchor="middle">8</text>
<line x1="1469.5" y1="802" x2="1469.5" y2="808.7" stroke="#b3b3b3" stroke-width="1.4"/>
<text x="1469.5" y="832.4" font-size="25" fill="#4d4d4d" text-anchor="middle">3</text>
<line x1="1515.3" y1="802" x2="1515.3" y2="808.7" stroke="#b3b3b3" stroke-width="1.4"/>
<text x="1515.3" y="832.4" font-size="25" fill="#4d4d4d" text-anchor="middle">5</text>
<circle cx="1285.5" cy="683.7" r="4.2" fill="#006400"/>
<circle cx="1285.5" cy="699.9" r="4.2" fill="#006400"/>
<circle cx="1285.5" cy="718.0" r="4.2" fill="#006400"/>
<circle cx="1285.5" cy="723.3" r="4.2" fill="#006400"/>
<circle cx="1285.5" cy="729.5" r="4.2" fill="#006400"/>
<circle cx="1285.5" cy="747.6" r="4.2" fill="#006400"/>
<circle cx="1285.5" cy="750.7" r="4.2" fill="#006400"/>
<circle cx="1285.5" cy="781.8" r="4.2" fill="#006400"/>
<circle cx="1331.3" cy="529.0" r="4.2" fill="#9ACD32"/>
<circle cx="1331.3" cy="546.7" r="4.2" fill="#9ACD32"/>
<circle cx="1331.3" cy="598.7" r="4.2" fill="#9ACD32"/>
<circle cx="1331.3" cy="622.1" r="4.2" fill="#9ACD32"/>
<circle cx="1331.3" cy="665.1" r="4.2" fill="#9ACD32"/>
<circle cx="1331.3" cy="706.5" r="4.2" fill="#9ACD32"/>
<circle cx="1331.3" cy="713.3" r="4.2" fill="#9ACD32"/>
<circle cx="1377.0" cy="709.6" r="4.2" fill="#00008B"/>
<circle cx="1377.0" cy="711.1" r="4.2" fill="#00008B"/>
<circle cx="1377.0" cy="720.8" r="4.2" fill="#00008B"/>
<circle cx="1377.0" cy="738.2" r="4.2" fill="#00008B"/>
<circle cx="1377.0" cy="740.4" r="4.2" fill="#00008B"/>
<circle cx="1377.0" cy="786.5" r="4.2" fill="#00008B"/>
<circle cx="1377.0" cy="788.7" r="4.2" fill="#00008B"/>
<circle cx="1423.4" cy="572.6" r="4.2" fill="#5CACEE"/>
<circle cx="1423.4" cy="584.1" r="4.2" fill="#5CACEE"/>
<circle cx="1423.4" cy="613.1" r="4.2" fill="#5CACEE"/>
<circle cx="1423.4" cy="614.3" r="4.2" fill="#5CACEE"/>
<circle cx="1423.4" cy="647.3" r="4.2" fill="#5CACEE"/>
<circle cx="1423.4" cy="656.3" r="4.2" fill="#5CACEE"/>
<circle cx="1423.4" cy="662.9" r="4.2" fill="#5CACEE"/>
<circle cx="1423.4" cy="729.8" r="4.2" fill="#5CACEE"/>
<circle cx="1469.5" cy="721.1" r="4.2" fill="#8B0000"/>
<circle cx="1469.5" cy="730.4" r="4.2" fill="#8B0000"/>
<circle cx="1469.5" cy="735.1" r="4.2" fill="#8B0000"/>
<circle cx="1469.5" cy="738.2" r="4.2" fill="#8B0000"/>
<circle cx="1469.5" cy="749.1" r="4.2" fill="#8B0000"/>
<circle cx="1469.5" cy="758.5" r="4.2" fill="#8B0000"/>
<circle cx="1469.5" cy="771.8" r="4.2" fill="#8B0000"/>
<circle cx="1469.5" cy="774.0" r="4.2" fill="#8B0000"/>
<circle cx="1515.3" cy="605.3" r="4.2" fill="#FFA500"/>
<circle cx="1515.3" cy="613.7" r="4.2" fill="#FFA500"/>
<circle cx="1515.3" cy="655.1" r="4.2" fill="#FFA500"/>
<circle cx="1515.3" cy="696.8" r="4.2" fill="#FFA500"/>
<circle cx="1515.3" cy="712.7" r="4.2" fill="#FFA500"/>
<circle cx="1515.3" cy="748.2" r="4.2" fill="#FFA500"/>
<circle cx="1515.3" cy="753.8" r="4.2" fill="#FFA500"/>
<circle cx="1515.3" cy="777.1" r="4.2" fill="#FFA500"/>
<path d="M1285.5 698.4 V760.6 M1280.0 698.4 H1291.0 M1280.0 760.6 H1291.0" stroke="#222" stroke-width="1.1" fill="none"/>
<path d="M1331.3 552.4 V699.0 M1325.8 552.4 H1336.8 M1325.8 699.0 H1336.8" stroke="#222" stroke-width="1.1" fill="none"/>
<path d="M1377.0 709.3 V776.2 M1371.5 709.3 H1382.5 M1371.5 776.2 H1382.5" stroke="#222" stroke-width="1.1" fill="none"/>
<path d="M1423.4 584.7 V685.3 M1417.9 584.7 H1428.9 M1417.9 685.3 H1428.9" stroke="#222" stroke-width="1.1" fill="none"/>
<path d="M1469.5 728.3 V766.9 M1464.0 728.3 H1475.0 M1464.0 766.9 H1475.0" stroke="#222" stroke-width="1.1" fill="none"/>
<path d="M1515.3 630.2 V760.6 M1509.8 630.2 H1520.8 M1509.8 760.6 H1520.8" stroke="#222" stroke-width="1.1" fill="none"/>
<path d="M1258.1 515.6 V802 H1542.7" fill="none" stroke="#000" stroke-width="1.9"/>
</g>
<g>
<line x1="1625.0" y1="792.8" x2="1631.7" y2="792.8" stroke="#b3b3b3" stroke-width="1.4"/>
<text x="1619.1" y="801.5" font-size="25" fill="#4d4d4d" text-anchor="end">0</text>
<line x1="1625.0" y1="700.3" x2="1631.7" y2="700.3" stroke="#b3b3b3" stroke-width="1.4"/>
<text x="1619.1" y="709.0" font-size="25" fill="#4d4d4d" text-anchor="end">50</text>
<line x1="1625.0" y1="608.1" x2="1631.7" y2="608.1" stroke="#b3b3b3" stroke-width="1.4"/>
<text x="1619.1" y="616.8" font-size="25" fill="#4d4d4d" text-anchor="end">100</text>
<line x1="1660.0" y1="802" x2="1660.0" y2="808.7" stroke="#b3b3b3" stroke-width="1.4"/>
<text x="1660.0" y="832.4" font-size="25" fill="#4d4d4d" text-anchor="middle">1</text>
<line x1="1708.3" y1="802" x2="1708.3" y2="808.7" stroke="#b3b3b3" stroke-width="1.4"/>
<text x="1708.3" y="832.4" font-size="25" fill="#4d4d4d" text-anchor="middle">2</text>
<line x1="1756.2" y1="802" x2="1756.2" y2="808.7" stroke="#b3b3b3" stroke-width="1.4"/>
<text x="1756.2" y="832.4" font-size="25" fill="#4d4d4d" text-anchor="middle">6</text>
<line x1="1804.5" y1="802" x2="1804.5" y2="808.7" stroke="#b3b3b3" stroke-width="1.4"/>
<text x="1804.5" y="832.4" font-size="25" fill="#4d4d4d" text-anchor="middle">8</text>
<line x1="1852.8" y1="802" x2="1852.8" y2="808.7" stroke="#b3b3b3" stroke-width="1.4"/>
<text x="1852.8" y="832.4" font-size="25" fill="#4d4d4d" text-anchor="middle">3</text>
<line x1="1900.7" y1="802" x2="1900.7" y2="808.7" stroke="#b3b3b3" stroke-width="1.4"/>
<text x="1900.7" y="832.4" font-size="25" fill="#4d4d4d" text-anchor="middle">5</text>
<circle cx="1660.0" cy="698.5" r="4.2" fill="#006400"/>
<circle cx="1660.0" cy="702.8" r="4.2" fill="#006400"/>
<circle cx="1660.0" cy="716.8" r="4.2" fill="#006400"/>
<circle cx="1660.0" cy="749.2" r="4.2" fill="#006400"/>
<circle cx="1660.0" cy="753.0" r="4.2" fill="#006400"/>
<circle cx="1660.0" cy="773.5" r="4.2" fill="#006400"/>
<circle cx="1660.0" cy="774.8" r="4.2" fill="#006400"/>
<circle cx="1660.0" cy="781.0" r="4.2" fill="#006400"/>
<circle cx="1708.3" cy="537.4" r="4.2" fill="#9ACD32"/>
<circle cx="1708.3" cy="622.5" r="4.2" fill="#9ACD32"/>
<circle cx="1708.3" cy="655.2" r="4.2" fill="#9ACD32"/>
<circle cx="1708.3" cy="666.1" r="4.2" fill="#9ACD32"/>
<circle cx="1708.3" cy="702.8" r="4.2" fill="#9ACD32"/>
<circle cx="1756.2" cy="733.0" r="4.2" fill="#00008B"/>
<circle cx="1756.2" cy="747.7" r="4.2" fill="#00008B"/>
<circle cx="1756.2" cy="754.5" r="4.2" fill="#00008B"/>
<circle cx="1756.2" cy="774.1" r="4.2" fill="#00008B"/>
<circle cx="1756.2" cy="783.5" r="4.2" fill="#00008B"/>
<circle cx="1756.2" cy="787.5" r="4.2" fill="#00008B"/>
<circle cx="1804.5" cy="547.7" r="4.2" fill="#5CACEE"/>
<circle cx="1804.5" cy="553.0" r="4.2" fill="#5CACEE"/>
<circle cx="1804.5" cy="559.2" r="4.2" fill="#5CACEE"/>
<circle cx="1804.5" cy="594.1" r="4.2" fill="#5CACEE"/>
<circle cx="1804.5" cy="619.3" r="4.2" fill="#5CACEE"/>
<circle cx="1804.5" cy="720.9" r="4.2" fill="#5CACEE"/>
<circle cx="1804.5" cy="789.7" r="4.2" fill="#5CACEE"/>
<circle cx="1852.8" cy="708.7" r="4.2" fill="#8B0000"/>
<circle cx="1852.8" cy="721.5" r="4.2" fill="#8B0000"/>
<circle cx="1852.8" cy="729.9" r="4.2" fill="#8B0000"/>
<circle cx="1852.8" cy="743.6" r="4.2" fill="#8B0000"/>
<circle cx="1852.8" cy="775.7" r="4.2" fill="#8B0000"/>
<circle cx="1852.8" cy="777.9" r="4.2" fill="#8B0000"/>
<circle cx="1852.8" cy="780.4" r="4.2" fill="#8B0000"/>
<circle cx="1900.7" cy="528.7" r="4.2" fill="#FFA500"/>
<circle cx="1900.7" cy="537.4" r="4.2" fill="#FFA500"/>
<circle cx="1900.7" cy="666.7" r="4.2" fill="#FFA500"/>
<circle cx="1900.7" cy="675.1" r="4.2" fill="#FFA500"/>
<circle cx="1900.7" cy="751.7" r="4.2" fill="#FFA500"/>
<circle cx="1900.7" cy="759.5" r="4.2" fill="#FFA500"/>
<circle cx="1900.7" cy="760.7" r="4.2" fill="#FFA500"/>
<circle cx="1900.7" cy="773.5" r="4.2" fill="#FFA500"/>
<path d="M1660.0 710.6 V777.2 M1654.5 710.6 H1665.5 M1654.5 777.2 H1665.5" stroke="#222" stroke-width="1.1" fill="none"/>
<path d="M1708.3 591.3 V696.3 M1702.8 591.3 H1713.8 M1702.8 696.3 H1713.8" stroke="#222" stroke-width="1.1" fill="none"/>
<path d="M1756.2 741.4 V781.9 M1750.7 741.4 H1761.7 M1750.7 781.9 H1761.7" stroke="#222" stroke-width="1.1" fill="none"/>
<path d="M1804.5 535.0 V709.7 M1799.0 535.0 H1810.0 M1799.0 709.7 H1810.0" stroke="#222" stroke-width="1.1" fill="none"/>
<path d="M1852.8 722.1 V781.3 M1847.3 722.1 H1858.3 M1847.3 781.3 H1858.3" stroke="#222" stroke-width="1.1" fill="none"/>
<path d="M1900.7 581.7 V781.3 M1895.2 581.7 H1906.2 M1895.2 781.3 H1906.2" stroke="#222" stroke-width="1.1" fill="none"/>
<path d="M1631.7 515.6 V802 H1930.3" fill="none" stroke="#000" stroke-width="1.9"/>
</g>
<g font-size="24.4" fill="#000" text-anchor="middle">
<text x="1004" y="54.2">PGD<tspan font-size="13.5" font-weight="bold">2</tspan></text>
<text x="1398.3" y="54.2">PGE<tspan font-size="13.5" font-weight="bold">2</tspan></text>
<text x="1782.9" y="54.2">PGF<tspan font-size="13.5" font-weight="bold">2α</tspan></text>
<text x="1012.8" y="473.8">TXB<tspan font-size="13.5" font-weight="bold">2</tspan></text>
<text x="1400.4" y="473.8">5−HETE</text>
<text x="1780.8" y="473.8">LxA4</text>
</g>
<g font-size="28.5" font-weight="bold" fill="#000">
<text x="801.8" y="42.9">B</text>
<text x="1191.5" y="42.9">C</text>
<text x="1581" y="42.9">D</text>
<text x="802" y="466.4">E</text>
<text x="1191.5" y="466.4">F</text>
<text x="1581.5" y="466.4">G</text>
</g>
<g font-size="24.4" fill="#000">
<text transform="translate(791.7,239.4) rotate(-90)" text-anchor="middle">pg/mg of protein</text>
<text transform="translate(792.6,658.8) rotate(-90)" text-anchor="middle">pg/mg of protein</text>
<text x="1929.5" y="411.2" font-size="25.5">Group</text>
<text x="1929.8" y="831.9" font-size="25.5">Group</text>
</g>
<line x1="171.7" y1="1029.4" x2="116.5" y2="1029.4" stroke="#000" stroke-width="2.6"/>
<polygon points="102.5,1029.4 117.5,1022.1 117.5,1036.7" fill="#000"/>
<line x1="332.3" y1="1102.4" x2="293.2" y2="1064.0" stroke="#000" stroke-width="2.6"/>
<polygon points="283.2,1054.2 299.0,1059.5 288.8,1069.9" fill="#000"/>
<line x1="388.2" y1="1102.4" x2="388.2" y2="1048.0" stroke="#000" stroke-width="2.6"/>
<polygon points="388.2,1034.0 395.5,1049.0 380.9,1049.0" fill="#000"/>
<line x1="444.0" y1="1102.4" x2="482.9" y2="1064.0" stroke="#000" stroke-width="2.6"/>
<polygon points="492.9,1054.2 487.3,1069.9 477.1,1059.5" fill="#000"/>
<line x1="519.6" y1="1127.5" x2="457.5" y2="1127.5" stroke="#000" stroke-width="2.6"/>
<polygon points="443.5,1127.5 458.5,1120.2 458.5,1134.8" fill="#000"/>
<line x1="332.3" y1="1127.5" x2="277.4" y2="1127.5" stroke="#000" stroke-width="2.6"/>
<polygon points="263.4,1127.5 278.4,1120.2 278.4,1134.8" fill="#000"/>
<line x1="152.2" y1="1127.5" x2="97.2" y2="1127.5" stroke="#000" stroke-width="2.6"/>
<polygon points="83.2,1127.5 98.2,1120.2 98.2,1134.8" fill="#000"/>
<line x1="207.5" y1="1151.0" x2="207.5" y2="1206.4" stroke="#000" stroke-width="2.6"/>
<polygon points="207.5,1220.4 200.2,1205.4 214.8,1205.4" fill="#000"/>
<line x1="388.2" y1="1151.0" x2="388.2" y2="1206.4" stroke="#000" stroke-width="2.6"/>
<polygon points="388.2,1220.4 380.9,1205.4 395.5,1205.4" fill="#000"/>
<line x1="388.2" y1="1227.5" x2="388.2" y2="1282.5" stroke="#000" stroke-width="2.6"/>
<polygon points="388.2,1296.5 380.9,1281.5 395.5,1281.5" fill="#000"/>
<line x1="722.2" y1="1007.6" x2="777.5" y2="1007.6" stroke="#000" stroke-width="2.6"/>
<polygon points="791.5,1007.6 776.5,1014.9 776.5,1000.3" fill="#000"/>
<line x1="651.4" y1="1102.4" x2="651.4" y2="1047.4" stroke="#000" stroke-width="2.6"/>
<polygon points="651.4,1033.4 658.7,1048.4 644.1,1048.4" fill="#000"/>
<line x1="779.7" y1="1127.8" x2="835.6" y2="1127.8" stroke="#000" stroke-width="2.6"/>
<polygon points="849.6,1127.8 834.6,1135.1 834.6,1120.5" fill="#000"/>
<line x1="855.8" y1="1127.8" x2="910.7" y2="1127.8" stroke="#000" stroke-width="2.6"/>
<polygon points="924.7,1127.8 909.7,1135.1 909.7,1120.5" fill="#000"/>
<line x1="980.0" y1="1103.0" x2="980.0" y2="1048.7" stroke="#000" stroke-width="2.6"/>
<polygon points="980.0,1034.7 987.3,1049.7 972.7,1049.7" fill="#000"/>
<line x1="850.2" y1="1138.7" x2="850.2" y2="1194.0" stroke="#000" stroke-width="2.6"/>
<polygon points="850.2,1208.0 842.9,1193.0 857.5,1193.0" fill="#000"/>
<line x1="850.2" y1="1219.4" x2="850.2" y2="1274.7" stroke="#000" stroke-width="2.6"/>
<polygon points="850.2,1288.7 842.9,1273.7 857.5,1273.7" fill="#000"/>
<line x1="882.2" y1="1208.6" x2="937.4" y2="1208.6" stroke="#000" stroke-width="2.6"/>
<polygon points="951.4,1208.6 936.4,1215.9 936.4,1201.3" fill="#000"/>
<line x1="883.1" y1="1315.0" x2="938.0" y2="1315.0" stroke="#000" stroke-width="2.6"/>
<polygon points="952.0,1315.0 937.0,1322.3 937.0,1307.7" fill="#000"/>
<line x1="584.0" y1="1151.0" x2="584.0" y2="1205.4" stroke="#000" stroke-width="2.6"/>
<polygon points="584.0,1219.4 576.7,1204.4 591.3,1204.4" fill="#000"/>
<line x1="708.9" y1="1151.0" x2="708.9" y2="1205.4" stroke="#000" stroke-width="2.6"/>
<polygon points="708.9,1219.4 701.6,1204.4 716.2,1204.4" fill="#000"/>
<g font-size="24.4" fill="#000">
<text x="14.9" y="1020.1">8-iso-</text>
<text x="17" y="1050.1">PGA<tspan font-size="16.3" dy="5.1">2</tspan></text>
<text x="197" y="1038.4" fill="#FF0000">PGE<tspan font-size="16.3" dy="5.1">2</tspan></text>
<text x="355.6" y="1019.4" fill="#FF0000">PGF<tspan font-size="16.3" dy="5.1">2α</tspan></text>
<text x="519.8" y="1038.4" fill="#FF0000">TXB<tspan font-size="16.3" dy="5.1">2</tspan></text>
<text x="357.8" y="1137.4">PGH<tspan font-size="16.3" dy="5.1">2</tspan></text>
<text x="177.6" y="1137.4" fill="#FF0000">PGD<tspan font-size="16.3" dy="5.1">2</tspan></text>
<text x="3.7" y="1118.5">15d-</text>
<text x="0" y="1148.1">PGJ<tspan font-size="16.3" dy="5.1">2</tspan></text>
<text x="184.8" y="1255.8">11β-</text>
<text x="174.5" y="1284.1">PGF<tspan font-size="16.3" dy="5.1">2α</tspan></text>
<text x="341.6" y="1331.3">6kPGF<tspan font-size="16.3" dy="5.1">1α</tspan></text>
<text x="603.6" y="1016.7">15-HETE</text>
<text x="821.6" y="1030.1">LxB4</text>
<text x="926.6" y="1017.6">5-oxoETE</text>
<text x="937.5" y="1136.2" fill="#FF0000">5-HETE</text>
<text x="980.6" y="1231.9">LxB4</text>
<text x="824" y="1323.5">LTB<tspan font-size="16.3" dy="5.1">4</tspan></text>
<text x="988.7" y="1308.6">5,6-</text>
<text x="966" y="1336.6">DiHETE</text>
<text x="541.5" y="1253.6">8-HETE</text>
<text x="661" y="1253.6">12-HETE</text>
<text x="818.5" y="1003"><tspan fill="#FF0000">LxA4</tspan>,</text>
<text x="977.8" y="1204"><tspan fill="#FF0000">LxA4</tspan>,</text>
</g>
<g font-size="24.4" font-weight="bold" fill="#000">
<text x="-0.5" y="976" font-size="28.5">H</text>
<text x="459.6" y="1113.2">COX</text>
<text x="493.2" y="1184.7">8-LOX</text>
<text x="717.6" y="993.7">5-LOX</text>
<text x="666.3" y="1081.2">15-LOX</text>
<text x="552" y="1135.9">Arachidonic Acid</text>
<text x="774.4" y="1113.2">5-LOX</text>
<text x="878.4" y="1193.4">12-LOX</text>
<text x="611.4" y="1184.7">12-LOX</text>
</g>
<defs>
<filter id="bl1" x="-20%" y="-20%" width="140%" height="140%"><feGaussianBlur stdDeviation="0.8"/></filter>
<filter id="bl15" x="-50%" y="-50%" width="200%" height="200%"><feGaussianBlur stdDeviation="1.4"/></filter>
<filter id="bl2" x="-50%" y="-50%" width="200%" height="200%"><feGaussianBlur stdDeviation="2.2"/></filter>
<filter id="bl4" x="-50%" y="-50%" width="200%" height="200%"><feGaussianBlur stdDeviation="5"/></filter>
<clipPath id="cIL"><rect x="1081" y="917" width="266" height="210"/></clipPath>
<clipPath id="cIR"><rect x="1357" y="917" width="233" height="210"/></clipPath>
<clipPath id="cJL"><rect x="1081" y="1137" width="266" height="211"/></clipPath>
<clipPath id="cJR"><rect x="1357" y="1137" width="233" height="211"/></clipPath>
<pattern id="hatch" width="10.3" height="10.3" patternUnits="userSpaceOnUse" patternTransform="rotate(-45)">
<rect width="10.3" height="10.3" fill="#fff"/><rect x="0" y="0" width="2.6" height="10.3" fill="#efefef"/></pattern>
</defs>
<g clip-path="url(#cIL)">
<rect x="1081" y="916.6" width="266" height="210.4" fill="#04040e"/>
<g filter="url(#bl15)">
<ellipse cx="1247.7" cy="1074.6" rx="7.1" ry="6.4" transform="rotate(133 1247.7 1074.6)" fill="#0c1688" opacity="0.85"/>
<ellipse cx="1307.3" cy="1082.1" rx="6.0" ry="5.1" transform="rotate(28 1307.3 1082.1)" fill="#0a1282" opacity="0.85"/>
<ellipse cx="1205.5" cy="966.5" rx="6.6" ry="5.9" transform="rotate(2 1205.5 966.5)" fill="#0e1a94" opacity="0.85"/>
<ellipse cx="1188.8" cy="952.4" rx="7.2" ry="5.6" transform="rotate(137 1188.8 952.4)" fill="#0c1688" opacity="0.85"/>
<ellipse cx="1115.0" cy="1047.5" rx="5.8" ry="5.0" transform="rotate(157 1115.0 1047.5)" fill="#0e1a94" opacity="0.85"/>
<ellipse cx="1289.0" cy="1122.3" rx="5.8" ry="5.2" transform="rotate(56 1289.0 1122.3)" fill="#0e1a94" opacity="0.85"/>
<ellipse cx="1224.7" cy="1060.6" rx="5.9" ry="6.4" transform="rotate(124 1224.7 1060.6)" fill="#1220a0" opacity="0.85"/>
<ellipse cx="1158.9" cy="991.5" rx="5.8" ry="5.2" transform="rotate(12 1158.9 991.5)" fill="#0a1282" opacity="0.85"/>
<ellipse cx="1301.0" cy="1040.6" rx="6.7" ry="6.1" transform="rotate(12 1301.0 1040.6)" fill="#0a1282" opacity="0.85"/>
<ellipse cx="1301.3" cy="1017.6" rx="6.1" ry="5.7" transform="rotate(127 1301.3 1017.6)" fill="#0c1688" opacity="0.85"/>
<ellipse cx="1147.2" cy="1117.7" rx="7.4" ry="5.5" transform="rotate(73 1147.2 1117.7)" fill="#1220a0" opacity="0.85"/>
<ellipse cx="1177.3" cy="1038.9" rx="5.5" ry="5.1" transform="rotate(33 1177.3 1038.9)" fill="#0e1a94" opacity="0.85"/>
<ellipse cx="1109.6" cy="966.3" rx="7.1" ry="5.7" transform="rotate(92 1109.6 966.3)" fill="#0a1282" opacity="0.85"/>
<ellipse cx="1289.5" cy="936.2" rx="7.0" ry="6.2" transform="rotate(155 1289.5 936.2)" fill="#0c1688" opacity="0.85"/>
<ellipse cx="1195.6" cy="1126.3" rx="5.9" ry="5.8" transform="rotate(65 1195.6 1126.3)" fill="#0e1a94" opacity="0.85"/>
<ellipse cx="1170.1" cy="1114.4" rx="6.6" ry="5.5" transform="rotate(57 1170.1 1114.4)" fill="#0e1a94" opacity="0.85"/>
<ellipse cx="1274.6" cy="980.2" rx="6.5" ry="6.1" transform="rotate(15 1274.6 980.2)" fill="#1220a0" opacity="0.85"/>
<ellipse cx="1085.7" cy="1074.3" rx="6.2" ry="5.4" transform="rotate(117 1085.7 1074.3)" fill="#0e1a94" opacity="0.85"/>
<ellipse cx="1092.3" cy="1112.7" rx="5.6" ry="5.7" transform="rotate(151 1092.3 1112.7)" fill="#0e1a94" opacity="0.85"/>
<ellipse cx="1345.9" cy="1035.8" rx="5.8" ry="6.3" transform="rotate(74 1345.9 1035.8)" fill="#0e1a94" opacity="0.85"/>
<ellipse cx="1308.5" cy="977.0" rx="6.4" ry="6.5" transform="rotate(153 1308.5 977.0)" fill="#1220a0" opacity="0.85"/>
<ellipse cx="1340.1" cy="1063.0" rx="6.1" ry="5.4" transform="rotate(85 1340.1 1063.0)" fill="#0e1a94" opacity="0.85"/>
<ellipse cx="1107.8" cy="1092.1" rx="6.6" ry="5.3" transform="rotate(169 1107.8 1092.1)" fill="#0a1282" opacity="0.85"/>
<ellipse cx="1126.4" cy="1020.0" rx="6.5" ry="5.8" transform="rotate(91 1126.4 1020.0)" fill="#0c1688" opacity="0.85"/>
<ellipse cx="1267.3" cy="1057.6" rx="7.0" ry="5.5" transform="rotate(127 1267.3 1057.6)" fill="#0a1282" opacity="0.85"/>
<ellipse cx="1339.2" cy="986.9" rx="5.9" ry="6.3" transform="rotate(85 1339.2 986.9)" fill="#0a1282" opacity="0.85"/>
<ellipse cx="1166.3" cy="972.4" rx="6.1" ry="5.8" transform="rotate(121 1166.3 972.4)" fill="#0a1282" opacity="0.85"/>
<ellipse cx="1279.2" cy="1093.5" rx="6.2" ry="6.3" transform="rotate(157 1279.2 1093.5)" fill="#1220a0" opacity="0.85"/>
<ellipse cx="1344.5" cy="1121.5" rx="6.5" ry="5.8" transform="rotate(30 1344.5 1121.5)" fill="#0a1282" opacity="0.85"/>
<ellipse cx="1333.8" cy="1016.8" rx="6.9" ry="6.1" transform="rotate(131 1333.8 1016.8)" fill="#0e1a94" opacity="0.85"/>
<ellipse cx="1246.0" cy="1117.1" rx="6.5" ry="6.4" transform="rotate(54 1246.0 1117.1)" fill="#0a1282" opacity="0.85"/>
<ellipse cx="1274.4" cy="918.6" rx="5.8" ry="5.7" transform="rotate(117 1274.4 918.6)" fill="#0e1a94" opacity="0.85"/>
<ellipse cx="1345.5" cy="948.8" rx="7.3" ry="5.2" transform="rotate(174 1345.5 948.8)" fill="#1220a0" opacity="0.85"/>
<ellipse cx="1130.0" cy="920.4" rx="6.4" ry="5.6" transform="rotate(110 1130.0 920.4)" fill="#0e1a94" opacity="0.85"/>
<ellipse cx="1077.2" cy="1001.1" rx="6.1" ry="5.6" transform="rotate(21 1077.2 1001.1)" fill="#0a1282" opacity="0.85"/>
<ellipse cx="1217.5" cy="1120.3" rx="6.1" ry="5.5" transform="rotate(23 1217.5 1120.3)" fill="#1220a0" opacity="0.85"/>
<ellipse cx="1240.3" cy="1035.7" rx="7.4" ry="6.5" transform="rotate(110 1240.3 1035.7)" fill="#0a1282" opacity="0.85"/>
<ellipse cx="1302.0" cy="1057.1" rx="6.3" ry="5.5" transform="rotate(165 1302.0 1057.1)" fill="#0e1a94" opacity="0.85"/>
<ellipse cx="1231.6" cy="1006.3" rx="7.5" ry="5.7" transform="rotate(86 1231.6 1006.3)" fill="#1220a0" opacity="0.85"/>
<ellipse cx="1182.2" cy="1099.3" rx="5.8" ry="5.9" transform="rotate(133 1182.2 1099.3)" fill="#0a1282" opacity="0.85"/>
<ellipse cx="1213.0" cy="1003.3" rx="6.1" ry="6.5" transform="rotate(89 1213.0 1003.3)" fill="#0a1282" opacity="0.85"/>
<ellipse cx="1114.4" cy="998.3" rx="6.5" ry="5.8" transform="rotate(44 1114.4 998.3)" fill="#1220a0" opacity="0.85"/>
<ellipse cx="1291.2" cy="966.3" rx="6.0" ry="5.2" transform="rotate(178 1291.2 966.3)" fill="#0a1282" opacity="0.85"/>
<ellipse cx="1219.0" cy="1101.2" rx="7.3" ry="6.3" transform="rotate(3 1219.0 1101.2)" fill="#0e1a94" opacity="0.85"/>
<ellipse cx="1159.4" cy="1029.1" rx="6.2" ry="5.4" transform="rotate(95 1159.4 1029.1)" fill="#1220a0" opacity="0.85"/>
<ellipse cx="1172.8" cy="1061.5" rx="7.1" ry="5.2" transform="rotate(1 1172.8 1061.5)" fill="#1220a0" opacity="0.85"/>
<ellipse cx="1264.9" cy="936.1" rx="6.9" ry="5.3" transform="rotate(77 1264.9 936.1)" fill="#1220a0" opacity="0.85"/>
<ellipse cx="1207.3" cy="1061.6" rx="6.9" ry="6.3" transform="rotate(84 1207.3 1061.6)" fill="#0c1688" opacity="0.85"/>
<ellipse cx="1160.2" cy="913.3" rx="7.1" ry="5.9" transform="rotate(117 1160.2 913.3)" fill="#1220a0" opacity="0.85"/>
<ellipse cx="1326.5" cy="943.8" rx="6.5" ry="5.8" transform="rotate(90 1326.5 943.8)" fill="#0a1282" opacity="0.85"/>
<ellipse cx="1225.3" cy="923.2" rx="7.0" ry="5.4" transform="rotate(15 1225.3 923.2)" fill="#0c1688" opacity="0.85"/>
<ellipse cx="1137.1" cy="1053.6" rx="7.4" ry="6.1" transform="rotate(24 1137.1 1053.6)" fill="#0a1282" opacity="0.85"/>
<ellipse cx="1270.4" cy="1008.3" rx="5.9" ry="5.3" transform="rotate(144 1270.4 1008.3)" fill="#0c1688" opacity="0.85"/>
<ellipse cx="1247.5" cy="922.1" rx="5.7" ry="5.6" transform="rotate(13 1247.5 922.1)" fill="#0c1688" opacity="0.85"/>
<ellipse cx="1233.5" cy="938.4" rx="6.3" ry="5.9" transform="rotate(2 1233.5 938.4)" fill="#0c1688" opacity="0.85"/>
<ellipse cx="1179.5" cy="924.8" rx="6.9" ry="5.2" transform="rotate(114 1179.5 924.8)" fill="#0a1282" opacity="0.85"/>
<ellipse cx="1326.5" cy="1033.8" rx="6.7" ry="5.4" transform="rotate(99 1326.5 1033.8)" fill="#0a1282" opacity="0.85"/>
<ellipse cx="1344.2" cy="1089.1" rx="7.2" ry="5.7" transform="rotate(70 1344.2 1089.1)" fill="#0e1a94" opacity="0.85"/>
<ellipse cx="1100.4" cy="1058.5" rx="5.7" ry="5.2" transform="rotate(107 1100.4 1058.5)" fill="#0e1a94" opacity="0.85"/>
<ellipse cx="1183.8" cy="1013.6" rx="7.4" ry="5.2" transform="rotate(96 1183.8 1013.6)" fill="#1220a0" opacity="0.85"/>
<ellipse cx="1091.7" cy="945.5" rx="7.4" ry="6.0" transform="rotate(40 1091.7 945.5)" fill="#0c1688" opacity="0.85"/>
<ellipse cx="1295.1" cy="995.2" rx="6.9" ry="5.5" transform="rotate(53 1295.1 995.2)" fill="#1220a0" opacity="0.85"/>
<ellipse cx="1087.0" cy="1129.5" rx="5.9" ry="5.3" transform="rotate(11 1087.0 1129.5)" fill="#0c1688" opacity="0.85"/>
<ellipse cx="1208.8" cy="1078.7" rx="5.5" ry="5.7" transform="rotate(160 1208.8 1078.7)" fill="#1220a0" opacity="0.85"/>
<ellipse cx="1165.6" cy="1013.5" rx="5.9" ry="6.0" transform="rotate(13 1165.6 1013.5)" fill="#1220a0" opacity="0.85"/>
<ellipse cx="1322.6" cy="987.8" rx="7.0" ry="5.5" transform="rotate(11 1322.6 987.8)" fill="#0c1688" opacity="0.85"/>
<ellipse cx="1083.8" cy="962.9" rx="5.7" ry="5.6" transform="rotate(175 1083.8 962.9)" fill="#0a1282" opacity="0.85"/>
<ellipse cx="1263.5" cy="952.9" rx="6.2" ry="5.1" transform="rotate(179 1263.5 952.9)" fill="#1220a0" opacity="0.85"/>
<ellipse cx="1344.3" cy="914.0" rx="5.6" ry="6.2" transform="rotate(74 1344.3 914.0)" fill="#0c1688" opacity="0.85"/>
<ellipse cx="1086.1" cy="1095.1" rx="7.2" ry="5.8" transform="rotate(169 1086.1 1095.1)" fill="#0c1688" opacity="0.85"/>
<ellipse cx="1141.9" cy="1088.0" rx="5.7" ry="5.7" transform="rotate(123 1141.9 1088.0)" fill="#0c1688" opacity="0.85"/>
<ellipse cx="1316.8" cy="1120.1" rx="5.9" ry="6.0" transform="rotate(115 1316.8 1120.1)" fill="#0e1a94" opacity="0.85"/>
<ellipse cx="1163.0" cy="936.2" rx="6.6" ry="6.4" transform="rotate(108 1163.0 936.2)" fill="#0e1a94" opacity="0.85"/>
<ellipse cx="1248.2" cy="1009.0" rx="6.2" ry="5.6" transform="rotate(138 1248.2 1009.0)" fill="#0e1a94" opacity="0.85"/>
<ellipse cx="1275.8" cy="1112.0" rx="6.1" ry="5.7" transform="rotate(149 1275.8 1112.0)" fill="#0e1a94" opacity="0.85"/>
<ellipse cx="1259.6" cy="972.8" rx="6.5" ry="5.4" transform="rotate(127 1259.6 972.8)" fill="#0a1282" opacity="0.85"/>
<ellipse cx="1181.1" cy="1080.6" rx="5.5" ry="5.4" transform="rotate(169 1181.1 1080.6)" fill="#0e1a94" opacity="0.85"/>
<ellipse cx="1112.7" cy="927.0" rx="5.8" ry="5.4" transform="rotate(122 1112.7 927.0)" fill="#0a1282" opacity="0.85"/>
<ellipse cx="1086.3" cy="1031.1" rx="7.0" ry="5.0" transform="rotate(22 1086.3 1031.1)" fill="#0e1a94" opacity="0.85"/>
<ellipse cx="1346.3" cy="971.2" rx="6.7" ry="5.9" transform="rotate(26 1346.3 971.2)" fill="#1220a0" opacity="0.85"/>
<ellipse cx="1136.1" cy="973.1" rx="5.9" ry="5.8" transform="rotate(64 1136.1 973.1)" fill="#0e1a94" opacity="0.85"/>
<ellipse cx="1325.9" cy="926.2" rx="6.5" ry="5.5" transform="rotate(26 1325.9 926.2)" fill="#0e1a94" opacity="0.85"/>
<ellipse cx="1183.6" cy="981.9" rx="5.6" ry="5.5" transform="rotate(69 1183.6 981.9)" fill="#1220a0" opacity="0.85"/>
<ellipse cx="1209.4" cy="932.7" rx="5.7" ry="5.5" transform="rotate(141 1209.4 932.7)" fill="#1220a0" opacity="0.85"/>
<ellipse cx="1265.7" cy="1033.5" rx="6.9" ry="5.6" transform="rotate(160 1265.7 1033.5)" fill="#0e1a94" opacity="0.85"/>
<ellipse cx="1248.7" cy="1052.4" rx="6.6" ry="5.6" transform="rotate(42 1248.7 1052.4)" fill="#1220a0" opacity="0.85"/>
<ellipse cx="1242.3" cy="952.8" rx="5.9" ry="5.9" transform="rotate(116 1242.3 952.8)" fill="#0a1282" opacity="0.85"/>
<ellipse cx="1330.9" cy="962.6" rx="6.9" ry="6.3" transform="rotate(86 1330.9 962.6)" fill="#0c1688" opacity="0.85"/>
<ellipse cx="1077.4" cy="1059.4" rx="5.7" ry="5.5" transform="rotate(66 1077.4 1059.4)" fill="#0c1688" opacity="0.85"/>
<ellipse cx="1127.2" cy="1107.8" rx="6.6" ry="5.9" transform="rotate(156 1127.2 1107.8)" fill="#0c1688" opacity="0.85"/>
<ellipse cx="1204.7" cy="913.8" rx="7.5" ry="6.4" transform="rotate(24 1204.7 913.8)" fill="#0c1688" opacity="0.85"/>
<ellipse cx="1285.2" cy="1070.1" rx="6.1" ry="5.2" transform="rotate(86 1285.2 1070.1)" fill="#0a1282" opacity="0.85"/>
<ellipse cx="1325.2" cy="1052.9" rx="7.0" ry="5.1" transform="rotate(20 1325.2 1052.9)" fill="#1220a0" opacity="0.85"/>
<ellipse cx="1145.7" cy="1012.7" rx="6.3" ry="5.8" transform="rotate(10 1145.7 1012.7)" fill="#0e1a94" opacity="0.85"/>
<ellipse cx="1160.0" cy="954.3" rx="7.2" ry="5.1" transform="rotate(67 1160.0 954.3)" fill="#1220a0" opacity="0.85"/>
<ellipse cx="1097.3" cy="995.8" rx="7.3" ry="6.3" transform="rotate(35 1097.3 995.8)" fill="#0c1688" opacity="0.85"/>
<ellipse cx="1281.8" cy="1020.5" rx="6.1" ry="5.7" transform="rotate(84 1281.8 1020.5)" fill="#0c1688" opacity="0.85"/>
<ellipse cx="1207.9" cy="1039.6" rx="7.4" ry="5.4" transform="rotate(102 1207.9 1039.6)" fill="#0a1282" opacity="0.85"/>
<ellipse cx="1081.8" cy="915.4" rx="6.3" ry="5.4" transform="rotate(120 1081.8 915.4)" fill="#0c1688" opacity="0.85"/>
<ellipse cx="1317.2" cy="1008.4" rx="7.3" ry="5.3" transform="rotate(25 1317.2 1008.4)" fill="#0c1688" opacity="0.85"/>
<ellipse cx="1118.2" cy="1129.7" rx="6.8" ry="5.7" transform="rotate(93 1118.2 1129.7)" fill="#1220a0" opacity="0.85"/>
<ellipse cx="1124.9" cy="942.9" rx="6.5" ry="6.0" transform="rotate(80 1124.9 942.9)" fill="#0a1282" opacity="0.85"/>
<ellipse cx="1250.2" cy="1097.0" rx="6.7" ry="5.1" transform="rotate(175 1250.2 1097.0)" fill="#1220a0" opacity="0.85"/>
<ellipse cx="1258.9" cy="995.7" rx="5.7" ry="5.5" transform="rotate(82 1258.9 995.7)" fill="#1220a0" opacity="0.85"/>
<ellipse cx="1160.9" cy="1099.5" rx="6.8" ry="5.5" transform="rotate(100 1160.9 1099.5)" fill="#0a1282" opacity="0.85"/>
</g>
<g filter="url(#bl4)" opacity="0.35">
<ellipse cx="1239.4" cy="1010.6" rx="28.7" ry="19.1" fill="#4a1410"/>
<ellipse cx="1127.8" cy="962.8" rx="19.1" ry="14.3" fill="#4a1410"/>
<ellipse cx="1303.1" cy="978.8" rx="23.9" ry="15.9" fill="#4a1410"/>
<ellipse cx="1175.6" cy="1074.4" rx="22.3" ry="15.9" fill="#4a1410"/>
<ellipse cx="1287.2" cy="1090.3" rx="25.5" ry="14.3" fill="#4a1410"/>
<ellipse cx="1111.9" cy="1066.4" rx="15.9" ry="12.8" fill="#4a1410"/>
</g>
<g filter="url(#bl2)" opacity="0.9">
<ellipse cx="1162.9" cy="956.4" rx="3.8" ry="2.7" transform="rotate(117 1162.9 956.4)" fill="#c0341c"/>
<ellipse cx="1167.7" cy="981.9" rx="5.1" ry="2.6" transform="rotate(105 1167.7 981.9)" fill="#b02c18"/>
<ellipse cx="1166.1" cy="1023.4" rx="3.1" ry="3.2" transform="rotate(13 1166.1 1023.4)" fill="#c0341c"/>
<ellipse cx="1191.6" cy="1029.8" rx="4.4" ry="2.6" transform="rotate(102 1191.6 1029.8)" fill="#b02c18"/>
<ellipse cx="1210.7" cy="1031.4" rx="4.6" ry="3.4" transform="rotate(11 1210.7 1031.4)" fill="#a82818"/>
<ellipse cx="1221.9" cy="1040.9" rx="3.1" ry="2.8" transform="rotate(100 1221.9 1040.9)" fill="#b02c18"/>
<ellipse cx="1256.9" cy="981.9" rx="3.7" ry="2.7" transform="rotate(21 1256.9 981.9)" fill="#d04020"/>
<ellipse cx="1279.2" cy="981.9" rx="4.4" ry="3.5" transform="rotate(19 1279.2 981.9)" fill="#b02c18"/>
<ellipse cx="1260.1" cy="1028.2" rx="3.9" ry="3.3" transform="rotate(11 1260.1 1028.2)" fill="#c0341c"/>
<ellipse cx="1276.0" cy="1053.7" rx="4.5" ry="3.2" transform="rotate(96 1276.0 1053.7)" fill="#d04020"/>
<ellipse cx="1261.7" cy="1004.3" rx="4.2" ry="3.9" transform="rotate(65 1261.7 1004.3)" fill="#b02c18"/>
<ellipse cx="1319.1" cy="960.4" rx="5.0" ry="3.5" transform="rotate(44 1319.1 960.4)" fill="#d04020"/>
<ellipse cx="1341.4" cy="961.2" rx="4.3" ry="3.8" transform="rotate(131 1341.4 961.2)" fill="#d04020"/>
<ellipse cx="1343.0" cy="996.3" rx="4.5" ry="2.6" transform="rotate(92 1343.0 996.3)" fill="#b02c18"/>
<ellipse cx="1322.3" cy="1066.4" rx="4.9" ry="2.7" transform="rotate(88 1322.3 1066.4)" fill="#c0341c"/>
<ellipse cx="1239.4" cy="1084.0" rx="5.4" ry="2.6" transform="rotate(100 1239.4 1084.0)" fill="#d04020"/>
<ellipse cx="1264.9" cy="1072.8" rx="3.9" ry="3.0" transform="rotate(89 1264.9 1072.8)" fill="#a82818"/>
<ellipse cx="1271.3" cy="1104.7" rx="3.2" ry="2.6" transform="rotate(49 1271.3 1104.7)" fill="#c0341c"/>
<ellipse cx="1331.8" cy="1090.3" rx="3.2" ry="3.6" transform="rotate(116 1331.8 1090.3)" fill="#a82818"/>
<ellipse cx="1223.4" cy="1069.6" rx="3.7" ry="3.1" transform="rotate(120 1223.4 1069.6)" fill="#c0341c"/>
<ellipse cx="1199.5" cy="1068.8" rx="5.4" ry="3.0" transform="rotate(110 1199.5 1068.8)" fill="#a82818"/>
<ellipse cx="1174.0" cy="1095.1" rx="3.1" ry="3.7" transform="rotate(23 1174.0 1095.1)" fill="#b02c18"/>
<ellipse cx="1137.4" cy="1079.2" rx="4.0" ry="3.9" transform="rotate(89 1137.4 1079.2)" fill="#b02c18"/>
<ellipse cx="1131.0" cy="1042.5" rx="4.1" ry="3.3" transform="rotate(159 1131.0 1042.5)" fill="#a82818"/>
<ellipse cx="1089.6" cy="999.5" rx="5.2" ry="2.9" transform="rotate(75 1089.6 999.5)" fill="#d04020"/>
<ellipse cx="1132.6" cy="1004.3" rx="4.7" ry="3.1" transform="rotate(42 1132.6 1004.3)" fill="#c0341c"/>
<ellipse cx="1156.5" cy="1010.6" rx="3.4" ry="2.8" transform="rotate(42 1156.5 1010.6)" fill="#a82818"/>
<ellipse cx="1182.0" cy="964.4" rx="5.1" ry="2.8" transform="rotate(51 1182.0 964.4)" fill="#b02c18"/>
<ellipse cx="1202.7" cy="988.3" rx="4.0" ry="3.1" transform="rotate(102 1202.7 988.3)" fill="#b02c18"/>
<ellipse cx="1197.9" cy="1117.4" rx="4.7" ry="3.3" transform="rotate(111 1197.9 1117.4)" fill="#c0341c"/>
<ellipse cx="1287.2" cy="1114.2" rx="4.1" ry="3.8" transform="rotate(171 1287.2 1114.2)" fill="#a82818"/>
<ellipse cx="1311.9" cy="1107.9" rx="4.0" ry="3.1" transform="rotate(87 1311.9 1107.9)" fill="#a82818"/>
<ellipse cx="1344.6" cy="1058.4" rx="3.2" ry="2.6" transform="rotate(38 1344.6 1058.4)" fill="#b02c18"/>
<ellipse cx="1304.7" cy="941.3" rx="3.3" ry="3.4" transform="rotate(18 1304.7 941.3)" fill="#b02c18"/>
<ellipse cx="1293.6" cy="1079.2" rx="4.3" ry="3.9" transform="rotate(110 1293.6 1079.2)" fill="#c0341c"/>
<ellipse cx="1266.5" cy="980.3" rx="5.2" ry="3.4" transform="rotate(27 1266.5 980.3)" fill="#d04020"/>
<ellipse cx="1180.4" cy="1047.3" rx="5.4" ry="3.4" transform="rotate(85 1180.4 1047.3)" fill="#c0341c"/>
<ellipse cx="1233.0" cy="958.0" rx="5.1" ry="4.0" transform="rotate(84 1233.0 958.0)" fill="#a82818"/>
<ellipse cx="1242.6" cy="954.8" rx="3.8" ry="2.7" transform="rotate(135 1242.6 954.8)" fill="#d04020"/>
<ellipse cx="1194.8" cy="946.9" rx="4.2" ry="3.5" transform="rotate(93 1194.8 946.9)" fill="#b02c18"/>
</g>
<g filter="url(#bl1)" stroke="#c82a18" stroke-width="1.6" fill="none" stroke-linecap="round">
<line x1="1197.9" y1="926.2" x2="1207.5" y2="919.8"/>
<line x1="1119.8" y1="962.8" x2="1127.8" y2="977.2"/>
<line x1="1108.7" y1="1010.6" x2="1118.3" y2="1004.3"/>
<line x1="1124.6" y1="1064.8" x2="1143.8" y2="1058.4"/>
<line x1="1159.7" y1="1042.5" x2="1169.3" y2="1055.3"/>
<line x1="1223.4" y1="966.0" x2="1233.0" y2="981.9"/>
<line x1="1201.1" y1="970.8" x2="1212.3" y2="966.0"/>
<line x1="1245.8" y1="1071.2" x2="1255.3" y2="1061.6"/>
<line x1="1287.2" y1="1076.0" x2="1295.2" y2="1068.0"/>
<line x1="1268.1" y1="956.4" x2="1293.6" y2="953.3"/>
<line x1="1309.5" y1="1010.6" x2="1319.1" y2="1001.1"/>
<line x1="1175.6" y1="1117.4" x2="1194.8" y2="1114.2"/>
<line x1="1335.0" y1="1007.4" x2="1344.6" y2="997.9"/>
<line x1="1083.2" y1="1004.3" x2="1094.3" y2="997.9"/>
<line x1="1220.3" y1="997.9" x2="1231.4" y2="1004.3"/>
<line x1="1303.1" y1="1026.6" x2="1314.3" y2="1018.6"/>
<line x1="1279.2" y1="1071.2" x2="1287.2" y2="1082.4"/>
<line x1="1146.9" y1="1103.1" x2="1154.9" y2="1107.9"/>
</g>
<g filter="url(#bl1)">
<ellipse cx="1215.5" cy="971.6" rx="6" ry="3.2" transform="rotate(35 1215.5 971.6)" fill="#1c5a9a" stroke="#2ee040" stroke-width="1.8"/>
<ellipse cx="1117.5" cy="995.5" rx="4.5" ry="4.5" transform="rotate(0 1117.5 995.5)" fill="#1c5a9a" stroke="#2ee040" stroke-width="1.8"/>
<ellipse cx="1265.7" cy="1025.0" rx="5.5" ry="4" transform="rotate(-20 1265.7 1025.0)" fill="#1c5a9a" stroke="#2ee040" stroke-width="1.8"/>
<ellipse cx="1301.5" cy="1115.0" rx="6" ry="3.5" transform="rotate(-25 1301.5 1115.0)" fill="#1c5a9a" stroke="#2ee040" stroke-width="1.8"/>
<ellipse cx="1159.7" cy="1047.3" rx="3.5" ry="6" transform="rotate(-30 1159.7 1047.3)" fill="#1838b0" stroke="#c0402a" stroke-width="1.4"/>
<ellipse cx="1249.7" cy="1054.5" rx="4" ry="5" transform="rotate(0 1249.7 1054.5)" fill="#1838b0" stroke="#c0402a" stroke-width="1.4"/>
<ellipse cx="1292.0" cy="1072.0" rx="3.5" ry="6" transform="rotate(30 1292.0 1072.0)" fill="#1838b0" stroke="#c0402a" stroke-width="1.4"/>
<ellipse cx="1322.3" cy="1032.9" rx="3" ry="5" transform="rotate(10 1322.3 1032.9)" fill="#1838b0" stroke="#c0402a" stroke-width="1.4"/>
<ellipse cx="1143.8" cy="1061.6" rx="3.5" ry="3.5" transform="rotate(0 1143.8 1061.6)" fill="#1838b0" stroke="#c0402a" stroke-width="1.4"/>
<ellipse cx="1114.3" cy="970.0" rx="3" ry="3" transform="rotate(0 1114.3 970.0)" fill="#1838b0" stroke="#c0402a" stroke-width="1.4"/>
<ellipse cx="1228.2" cy="991.5" rx="3" ry="9" transform="rotate(15 1228.2 991.5)" fill="#22c838" opacity="0.9"/>
<ellipse cx="1146.1" cy="1023.4" rx="7" ry="5" transform="rotate(0 1146.1 1023.4)" fill="#22c838" opacity="0.9"/>
<ellipse cx="1218.7" cy="1021.0" rx="3" ry="4" transform="rotate(20 1218.7 1021.0)" fill="#22c838" opacity="0.9"/>
<ellipse cx="1087.2" cy="1034.5" rx="3" ry="5" transform="rotate(0 1087.2 1034.5)" fill="#22c838" opacity="0.9"/>
<ellipse cx="1094.3" cy="1064.8" rx="7" ry="3" transform="rotate(-35 1094.3 1064.8)" fill="#22c838" opacity="0.9"/>
<ellipse cx="1213.1" cy="1102.3" rx="6" ry="3.5" transform="rotate(-30 1213.1 1102.3)" fill="#22c838" opacity="0.9"/>
<ellipse cx="1277.6" cy="1090.3" rx="3" ry="7" transform="rotate(35 1277.6 1090.3)" fill="#22c838" opacity="0.9"/>
<ellipse cx="1296.8" cy="1036.1" rx="3" ry="5" transform="rotate(20 1296.8 1036.1)" fill="#22c838" opacity="0.9"/>
<ellipse cx="1336.6" cy="1108.7" rx="3" ry="4" transform="rotate(0 1336.6 1108.7)" fill="#22c838" opacity="0.9"/>
<ellipse cx="1166.1" cy="954.1" rx="3" ry="3" transform="rotate(0 1166.1 954.1)" fill="#22c838" opacity="0.9"/>
<ellipse cx="1285.6" cy="941.3" rx="2" ry="2" transform="rotate(0 1285.6 941.3)" fill="#22c838" opacity="0.9"/>
<ellipse cx="1088.0" cy="1114.2" rx="4" ry="5" transform="rotate(0 1088.0 1114.2)" fill="#22c838" opacity="0.9"/>
</g>
</g>
<g clip-path="url(#cJL)">
<rect x="1081" y="1137" width="266" height="210.7" fill="#060410"/>
<g filter="url(#bl15)">
<ellipse cx="1227.2" cy="1208.6" rx="7.2" ry="5.4" transform="rotate(92 1227.2 1208.6)" fill="#1422b0" opacity="0.92"/>
<ellipse cx="1184.7" cy="1137.1" rx="5.6" ry="6.3" transform="rotate(117 1184.7 1137.1)" fill="#1422b0" opacity="0.92"/>
<ellipse cx="1100.4" cy="1241.9" rx="7.3" ry="5.8" transform="rotate(150 1100.4 1241.9)" fill="#1a2ad0" opacity="0.92"/>
<ellipse cx="1199.5" cy="1170.3" rx="6.4" ry="5.6" transform="rotate(143 1199.5 1170.3)" fill="#1a2ad0" opacity="0.92"/>
<ellipse cx="1153.2" cy="1297.1" rx="7.1" ry="6.4" transform="rotate(85 1153.2 1297.1)" fill="#1a2ad0" opacity="0.92"/>
<ellipse cx="1283.1" cy="1298.5" rx="6.7" ry="6.0" transform="rotate(72 1283.1 1298.5)" fill="#1626c0" opacity="0.92"/>
<ellipse cx="1277.3" cy="1327.6" rx="7.2" ry="5.4" transform="rotate(124 1277.3 1327.6)" fill="#1626c0" opacity="0.92"/>
<ellipse cx="1228.3" cy="1168.7" rx="6.8" ry="5.6" transform="rotate(51 1228.3 1168.7)" fill="#1a2ad0" opacity="0.92"/>
<ellipse cx="1165.0" cy="1324.3" rx="6.9" ry="6.5" transform="rotate(132 1165.0 1324.3)" fill="#1a2ad0" opacity="0.92"/>
<ellipse cx="1261.0" cy="1136.3" rx="7.0" ry="5.6" transform="rotate(75 1261.0 1136.3)" fill="#1a2ad0" opacity="0.92"/>
<ellipse cx="1196.6" cy="1196.5" rx="5.5" ry="6.3" transform="rotate(9 1196.6 1196.5)" fill="#1626c0" opacity="0.92"/>
<ellipse cx="1285.2" cy="1200.3" rx="5.5" ry="5.9" transform="rotate(159 1285.2 1200.3)" fill="#1626c0" opacity="0.92"/>
<ellipse cx="1218.1" cy="1134.8" rx="5.8" ry="5.7" transform="rotate(42 1218.1 1134.8)" fill="#1626c0" opacity="0.92"/>
<ellipse cx="1083.1" cy="1175.6" rx="7.0" ry="6.3" transform="rotate(117 1083.1 1175.6)" fill="#1c2cd8" opacity="0.92"/>
<ellipse cx="1314.2" cy="1177.1" rx="6.8" ry="6.3" transform="rotate(44 1314.2 1177.1)" fill="#1422b0" opacity="0.92"/>
<ellipse cx="1139.2" cy="1313.3" rx="5.5" ry="5.2" transform="rotate(127 1139.2 1313.3)" fill="#1422b0" opacity="0.92"/>
<ellipse cx="1291.8" cy="1145.1" rx="6.1" ry="5.4" transform="rotate(160 1291.8 1145.1)" fill="#1422b0" opacity="0.92"/>
<ellipse cx="1091.4" cy="1222.8" rx="7.1" ry="5.0" transform="rotate(58 1091.4 1222.8)" fill="#1a2ad0" opacity="0.92"/>
<ellipse cx="1118.2" cy="1208.3" rx="6.4" ry="6.0" transform="rotate(180 1118.2 1208.3)" fill="#1422b0" opacity="0.92"/>
<ellipse cx="1131.4" cy="1236.8" rx="5.6" ry="6.2" transform="rotate(106 1131.4 1236.8)" fill="#1c2cd8" opacity="0.92"/>
<ellipse cx="1124.6" cy="1274.8" rx="6.8" ry="5.3" transform="rotate(6 1124.6 1274.8)" fill="#1c2cd8" opacity="0.92"/>
<ellipse cx="1343.2" cy="1234.4" rx="6.1" ry="5.2" transform="rotate(54 1343.2 1234.4)" fill="#1422b0" opacity="0.92"/>
<ellipse cx="1137.0" cy="1174.7" rx="7.2" ry="5.2" transform="rotate(36 1137.0 1174.7)" fill="#1422b0" opacity="0.92"/>
<ellipse cx="1164.1" cy="1212.0" rx="5.8" ry="5.3" transform="rotate(148 1164.1 1212.0)" fill="#1c2cd8" opacity="0.92"/>
<ellipse cx="1146.0" cy="1206.5" rx="6.3" ry="5.4" transform="rotate(119 1146.0 1206.5)" fill="#1a2ad0" opacity="0.92"/>
<ellipse cx="1285.5" cy="1347.4" rx="5.6" ry="5.4" transform="rotate(178 1285.5 1347.4)" fill="#1626c0" opacity="0.92"/>
<ellipse cx="1285.4" cy="1181.6" rx="5.8" ry="5.4" transform="rotate(161 1285.4 1181.6)" fill="#1422b0" opacity="0.92"/>
<ellipse cx="1095.5" cy="1271.5" rx="6.8" ry="6.3" transform="rotate(61 1095.5 1271.5)" fill="#1c2cd8" opacity="0.92"/>
<ellipse cx="1177.1" cy="1276.1" rx="6.2" ry="6.4" transform="rotate(22 1177.1 1276.1)" fill="#1422b0" opacity="0.92"/>
<ellipse cx="1269.6" cy="1244.5" rx="6.4" ry="5.5" transform="rotate(38 1269.6 1244.5)" fill="#1c2cd8" opacity="0.92"/>
<ellipse cx="1223.0" cy="1267.8" rx="5.6" ry="6.3" transform="rotate(44 1223.0 1267.8)" fill="#1422b0" opacity="0.92"/>
<ellipse cx="1215.1" cy="1324.4" rx="7.2" ry="6.1" transform="rotate(44 1215.1 1324.4)" fill="#1a2ad0" opacity="0.92"/>
<ellipse cx="1288.5" cy="1280.6" rx="7.3" ry="5.6" transform="rotate(26 1288.5 1280.6)" fill="#1422b0" opacity="0.92"/>
<ellipse cx="1330.3" cy="1259.6" rx="6.7" ry="5.5" transform="rotate(109 1330.3 1259.6)" fill="#1422b0" opacity="0.92"/>
<ellipse cx="1095.8" cy="1152.8" rx="7.1" ry="5.2" transform="rotate(112 1095.8 1152.8)" fill="#1422b0" opacity="0.92"/>
<ellipse cx="1262.3" cy="1302.7" rx="7.3" ry="5.8" transform="rotate(29 1262.3 1302.7)" fill="#1422b0" opacity="0.92"/>
<ellipse cx="1340.1" cy="1138.2" rx="6.5" ry="5.2" transform="rotate(0 1340.1 1138.2)" fill="#1c2cd8" opacity="0.92"/>
<ellipse cx="1258.9" cy="1202.0" rx="5.7" ry="6.1" transform="rotate(132 1258.9 1202.0)" fill="#1626c0" opacity="0.92"/>
<ellipse cx="1315.5" cy="1135.0" rx="6.0" ry="5.8" transform="rotate(156 1315.5 1135.0)" fill="#1a2ad0" opacity="0.92"/>
<ellipse cx="1200.7" cy="1279.1" rx="7.4" ry="6.5" transform="rotate(123 1200.7 1279.1)" fill="#1a2ad0" opacity="0.92"/>
<ellipse cx="1153.9" cy="1185.9" rx="5.9" ry="5.6" transform="rotate(32 1153.9 1185.9)" fill="#1422b0" opacity="0.92"/>
<ellipse cx="1215.1" cy="1189.0" rx="7.0" ry="5.0" transform="rotate(140 1215.1 1189.0)" fill="#1c2cd8" opacity="0.92"/>
<ellipse cx="1241.6" cy="1346.8" rx="7.4" ry="5.2" transform="rotate(170 1241.6 1346.8)" fill="#1a2ad0" opacity="0.92"/>
<ellipse cx="1109.5" cy="1258.9" rx="6.7" ry="5.0" transform="rotate(172 1109.5 1258.9)" fill="#1626c0" opacity="0.92"/>
<ellipse cx="1273.3" cy="1153.1" rx="7.0" ry="5.5" transform="rotate(175 1273.3 1153.1)" fill="#1626c0" opacity="0.92"/>
<ellipse cx="1174.0" cy="1187.6" rx="7.1" ry="5.1" transform="rotate(167 1174.0 1187.6)" fill="#1a2ad0" opacity="0.92"/>
<ellipse cx="1323.9" cy="1205.8" rx="6.2" ry="6.0" transform="rotate(88 1323.9 1205.8)" fill="#1a2ad0" opacity="0.92"/>
<ellipse cx="1348.8" cy="1191.8" rx="6.1" ry="5.5" transform="rotate(61 1348.8 1191.8)" fill="#1a2ad0" opacity="0.92"/>
<ellipse cx="1084.7" cy="1289.8" rx="6.0" ry="5.3" transform="rotate(144 1084.7 1289.8)" fill="#1626c0" opacity="0.92"/>
<ellipse cx="1311.9" cy="1275.0" rx="6.5" ry="6.1" transform="rotate(28 1311.9 1275.0)" fill="#1a2ad0" opacity="0.92"/>
<ellipse cx="1342.0" cy="1334.2" rx="6.4" ry="6.0" transform="rotate(83 1342.0 1334.2)" fill="#1422b0" opacity="0.92"/>
<ellipse cx="1159.3" cy="1241.3" rx="7.3" ry="6.4" transform="rotate(96 1159.3 1241.3)" fill="#1a2ad0" opacity="0.92"/>
<ellipse cx="1089.8" cy="1325.7" rx="5.6" ry="5.1" transform="rotate(163 1089.8 1325.7)" fill="#1a2ad0" opacity="0.92"/>
<ellipse cx="1330.7" cy="1302.6" rx="7.0" ry="6.5" transform="rotate(175 1330.7 1302.6)" fill="#1a2ad0" opacity="0.92"/>
<ellipse cx="1110.4" cy="1225.2" rx="7.2" ry="6.2" transform="rotate(102 1110.4 1225.2)" fill="#1422b0" opacity="0.92"/>
<ellipse cx="1319.8" cy="1157.8" rx="6.0" ry="6.2" transform="rotate(56 1319.8 1157.8)" fill="#1a2ad0" opacity="0.92"/>
<ellipse cx="1304.0" cy="1197.7" rx="5.6" ry="5.6" transform="rotate(119 1304.0 1197.7)" fill="#1a2ad0" opacity="0.92"/>
<ellipse cx="1230.9" cy="1302.4" rx="7.4" ry="6.3" transform="rotate(34 1230.9 1302.4)" fill="#1422b0" opacity="0.92"/>
<ellipse cx="1134.7" cy="1146.0" rx="6.6" ry="5.8" transform="rotate(10 1134.7 1146.0)" fill="#1a2ad0" opacity="0.92"/>
<ellipse cx="1177.9" cy="1249.4" rx="7.0" ry="6.1" transform="rotate(46 1177.9 1249.4)" fill="#1626c0" opacity="0.92"/>
<ellipse cx="1271.3" cy="1223.5" rx="6.0" ry="6.0" transform="rotate(7 1271.3 1223.5)" fill="#1c2cd8" opacity="0.92"/>
<ellipse cx="1108.7" cy="1303.5" rx="5.8" ry="5.4" transform="rotate(53 1108.7 1303.5)" fill="#1422b0" opacity="0.92"/>
<ellipse cx="1105.2" cy="1341.2" rx="6.7" ry="6.3" transform="rotate(137 1105.2 1341.2)" fill="#1626c0" opacity="0.92"/>
<ellipse cx="1249.0" cy="1245.8" rx="7.2" ry="5.4" transform="rotate(14 1249.0 1245.8)" fill="#1626c0" opacity="0.92"/>
<ellipse cx="1338.1" cy="1169.5" rx="6.3" ry="6.5" transform="rotate(60 1338.1 1169.5)" fill="#1a2ad0" opacity="0.92"/>
<ellipse cx="1117.8" cy="1185.9" rx="6.3" ry="5.9" transform="rotate(132 1117.8 1185.9)" fill="#1422b0" opacity="0.92"/>
<ellipse cx="1083.4" cy="1350.0" rx="7.1" ry="5.1" transform="rotate(123 1083.4 1350.0)" fill="#1422b0" opacity="0.92"/>
<ellipse cx="1176.0" cy="1155.5" rx="7.1" ry="6.1" transform="rotate(74 1176.0 1155.5)" fill="#1a2ad0" opacity="0.92"/>
<ellipse cx="1304.2" cy="1248.5" rx="6.2" ry="5.5" transform="rotate(53 1304.2 1248.5)" fill="#1c2cd8" opacity="0.92"/>
<ellipse cx="1304.2" cy="1228.2" rx="6.5" ry="5.9" transform="rotate(63 1304.2 1228.2)" fill="#1c2cd8" opacity="0.92"/>
<ellipse cx="1151.9" cy="1346.8" rx="5.7" ry="5.0" transform="rotate(173 1151.9 1346.8)" fill="#1422b0" opacity="0.92"/>
<ellipse cx="1089.3" cy="1204.2" rx="7.2" ry="5.6" transform="rotate(156 1089.3 1204.2)" fill="#1422b0" opacity="0.92"/>
<ellipse cx="1218.9" cy="1248.3" rx="7.3" ry="5.6" transform="rotate(28 1218.9 1248.3)" fill="#1c2cd8" opacity="0.92"/>
<ellipse cx="1190.8" cy="1300.0" rx="7.0" ry="6.4" transform="rotate(82 1190.8 1300.0)" fill="#1422b0" opacity="0.92"/>
<ellipse cx="1271.0" cy="1272.7" rx="5.9" ry="5.6" transform="rotate(10 1271.0 1272.7)" fill="#1422b0" opacity="0.92"/>
<ellipse cx="1310.5" cy="1319.7" rx="6.9" ry="5.5" transform="rotate(83 1310.5 1319.7)" fill="#1626c0" opacity="0.92"/>
<ellipse cx="1245.2" cy="1290.0" rx="7.2" ry="5.6" transform="rotate(94 1245.2 1290.0)" fill="#1c2cd8" opacity="0.92"/>
<ellipse cx="1349.1" cy="1256.9" rx="6.0" ry="5.3" transform="rotate(170 1349.1 1256.9)" fill="#1422b0" opacity="0.92"/>
<ellipse cx="1078.5" cy="1142.9" rx="5.9" ry="5.4" transform="rotate(24 1078.5 1142.9)" fill="#1c2cd8" opacity="0.92"/>
<ellipse cx="1176.7" cy="1349.8" rx="6.5" ry="5.8" transform="rotate(94 1176.7 1349.8)" fill="#1626c0" opacity="0.92"/>
</g>
<g filter="url(#bl1)" stroke="#d22a18" stroke-width="1.8" fill="none" stroke-linecap="round">
<line x1="1268.8" y1="1150.9" x2="1292.6" y2="1142.1"/>
<line x1="1291.0" y1="1195.3" x2="1294.1" y2="1214.3"/>
<line x1="1294.1" y1="1214.3" x2="1306.8" y2="1223.8"/>
<line x1="1306.8" y1="1223.8" x2="1325.9" y2="1214.3"/>
<line x1="1189.5" y1="1258.7" x2="1218.0" y2="1247.6"/>
<line x1="1291.0" y1="1333.3" x2="1314.8" y2="1311.1"/>
<line x1="1322.7" y1="1328.5" x2="1343.3" y2="1301.6"/>
<line x1="1200.6" y1="1230.2" x2="1218.0" y2="1227.0"/>
<line x1="1233.9" y1="1177.8" x2="1243.4" y2="1176.2"/>
<line x1="1254.5" y1="1184.2" x2="1267.2" y2="1182.6"/>
<line x1="1302.1" y1="1182.6" x2="1306.8" y2="1177.8"/>
<line x1="1308.4" y1="1154.0" x2="1308.4" y2="1163.6"/>
<line x1="1108.6" y1="1241.3" x2="1122.8" y2="1239.7"/>
<line x1="1149.8" y1="1244.5" x2="1157.7" y2="1242.9"/>
<line x1="1246.6" y1="1322.2" x2="1251.3" y2="1319.0"/>
<line x1="1337.0" y1="1265.1" x2="1346.5" y2="1269.8"/>
<line x1="1325.9" y1="1261.9" x2="1330.6" y2="1266.7"/>
<line x1="1178.4" y1="1182.6" x2="1194.2" y2="1187.3"/>
<line x1="1119.7" y1="1265.1" x2="1129.2" y2="1261.9"/>
<line x1="1252.9" y1="1280.9" x2="1249.7" y2="1293.6"/>
<line x1="1162.5" y1="1214.3" x2="1181.5" y2="1209.6"/>
<line x1="1127.6" y1="1163.6" x2="1140.3" y2="1160.4"/>
<line x1="1086.3" y1="1187.3" x2="1094.3" y2="1184.2"/>
<line x1="1327.5" y1="1314.3" x2="1340.2" y2="1330.1"/>
<line x1="1175.2" y1="1309.5" x2="1176.8" y2="1333.3"/>
<line x1="1275.1" y1="1181.0" x2="1284.6" y2="1179.4"/>
<line x1="1210.1" y1="1163.6" x2="1213.2" y2="1166.7"/>
<line x1="1279.9" y1="1233.4" x2="1276.7" y2="1246.0"/>
<line x1="1084.8" y1="1277.8" x2="1089.5" y2="1274.6"/>
</g>
<g filter="url(#bl15)">
<ellipse cx="1238.6" cy="1177.8" rx="6" ry="4" fill="#d02818"/>
<ellipse cx="1308.4" cy="1291.2" rx="8" ry="4" fill="#d02818"/>
<ellipse cx="1321.1" cy="1292.0" rx="5" ry="4" fill="#d02818"/>
<ellipse cx="1153.0" cy="1243.7" rx="5" ry="3" fill="#d02818"/>
<ellipse cx="1248.1" cy="1223.8" rx="3" ry="3" fill="#d02818"/>
<ellipse cx="1218.0" cy="1204.8" rx="3" ry="3" fill="#d02818"/>
<ellipse cx="1306.8" cy="1181.0" rx="3" ry="3" fill="#d02818"/>
</g>
<g filter="url(#bl1)">
<ellipse cx="1131.6" cy="1185.8" rx="3.5" ry="5" transform="rotate(0 1131.6 1185.8)" fill="#1f60b0" stroke="#2ee040" stroke-width="1.8"/>
<ellipse cx="1143.5" cy="1208.8" rx="4" ry="7" transform="rotate(-30 1143.5 1208.8)" fill="#1f60b0" stroke="#2ee040" stroke-width="1.8"/>
<ellipse cx="1340.2" cy="1159.6" rx="5" ry="3.5" transform="rotate(30 1340.2 1159.6)" fill="#1f60b0" stroke="#2ee040" stroke-width="1.8"/>
<ellipse cx="1087.1" cy="1244.5" rx="3" ry="5" transform="rotate(0 1087.1 1244.5)" fill="#1f60b0" stroke="#2ee040" stroke-width="1.8"/>
<ellipse cx="1241.8" cy="1248.4" rx="6" ry="4" transform="rotate(0 1241.8 1248.4)" fill="#1f60b0" stroke="#2ee040" stroke-width="1.8"/>
<ellipse cx="1272.7" cy="1250.8" rx="4" ry="6.5" transform="rotate(35 1272.7 1250.8)" fill="#1f60b0" stroke="#2ee040" stroke-width="1.8"/>
<ellipse cx="1270.4" cy="1219.1" rx="5" ry="3.5" transform="rotate(0 1270.4 1219.1)" fill="#1f60b0" stroke="#2ee040" stroke-width="1.8"/>
<ellipse cx="1156.1" cy="1272.2" rx="8" ry="3.5" transform="rotate(-35 1156.1 1272.2)" fill="#1f60b0" stroke="#2ee040" stroke-width="1.8"/>
<ellipse cx="1231.5" cy="1269.8" rx="3" ry="5" transform="rotate(15 1231.5 1269.8)" fill="#1f60b0" stroke="#2ee040" stroke-width="1.8"/>
<ellipse cx="1204.5" cy="1293.6" rx="5" ry="4" transform="rotate(0 1204.5 1293.6)" fill="#1f60b0" stroke="#2ee040" stroke-width="1.8"/>
<ellipse cx="1279.9" cy="1311.9" rx="5" ry="4" transform="rotate(0 1279.9 1311.9)" fill="#1f60b0" stroke="#2ee040" stroke-width="1.8"/>
<ellipse cx="1122.8" cy="1218.3" rx="5" ry="4" fill="#7040c0" stroke="#d03040" stroke-width="1.5"/>
<ellipse cx="1172.0" cy="1307.9" rx="5" ry="5" fill="#5040c0" stroke="#d03040" stroke-width="1.5"/>
<ellipse cx="1232.3" cy="1141.3" rx="6" ry="3.5" fill="#a040a0" stroke="#d03040" stroke-width="1.5"/>
<ellipse cx="1184.7" cy="1209.6" rx="9" ry="3" transform="rotate(-25 1184.7 1209.6)" fill="#28d030"/>
<ellipse cx="1197.4" cy="1203.2" rx="8" ry="2.5" transform="rotate(-20 1197.4 1203.2)" fill="#50d020"/>
<ellipse cx="1227.5" cy="1295.2" rx="5" ry="8" transform="rotate(0 1227.5 1295.2)" fill="#1a8a40"/>
<ellipse cx="1246.6" cy="1296.8" rx="5" ry="3" transform="rotate(0 1246.6 1296.8)" fill="#28c838"/>
<ellipse cx="1336.2" cy="1309.5" rx="3" ry="6" transform="rotate(20 1336.2 1309.5)" fill="#a0e030"/>
<ellipse cx="1312.4" cy="1246.0" rx="3" ry="5" transform="rotate(0 1312.4 1246.0)" fill="#60d020"/>
<ellipse cx="1292.6" cy="1261.9" rx="7" ry="3" transform="rotate(10 1292.6 1261.9)" fill="#c0a020"/>
<ellipse cx="1223.6" cy="1307.9" rx="3" ry="4" transform="rotate(0 1223.6 1307.9)" fill="#70d020"/>
<ellipse cx="1083.2" cy="1314.3" rx="3" ry="6" transform="rotate(0 1083.2 1314.3)" fill="#28c030"/>
<ellipse cx="1086.3" cy="1301.6" rx="2" ry="6" transform="rotate(0 1086.3 1301.6)" fill="#28c030"/>
<ellipse cx="1129.2" cy="1312.7" rx="2.5" ry="2.5" transform="rotate(0 1129.2 1312.7)" fill="#28c030"/>
</g>
</g>
<g clip-path="url(#cIR)">
<rect x="1357" y="916.6" width="233" height="210.4" fill="#0a0810"/>
<g filter="url(#bl4)">
<ellipse cx="1490" cy="1095" rx="28" ry="20" fill="#5a2014" opacity="0.8"/>
<ellipse cx="1545" cy="1000" rx="16" ry="14" fill="#4a3010" opacity="0.8"/>
<ellipse cx="1585" cy="1000" rx="10" ry="30" fill="#3a1410" opacity="0.8"/>
<ellipse cx="1395" cy="1080" rx="22" ry="30" fill="#200a0c" opacity="0.9"/>
<path d="M1405 1040 L1425 1005 L1452 983" stroke="#7a1a12" stroke-width="16" fill="none"/>
<path d="M1400 1065 L1388 1090 L1380 1110" stroke="#6a1812" stroke-width="14" fill="none"/>
</g>
<g filter="url(#bl2)">
<ellipse cx="1479.4" cy="1026.5" rx="19" ry="22" fill="#16208e" opacity="0.85"/>
<ellipse cx="1592" cy="1062" rx="6" ry="16" fill="#1a26a0" opacity="0.7"/>
<path d="M1403 1040 L1422 1008 L1450 983" stroke="#c8281c" stroke-width="5" fill="none"/>
<path d="M1398 1066 L1388 1088 L1378 1108" stroke="#b82018" stroke-width="5" fill="none"/>
<ellipse cx="1393" cy="950" rx="10" ry="10" fill="#1c2c9a" stroke="#3a8a40" stroke-width="2.5"/>
<ellipse cx="1545" cy="997" rx="8" ry="6" fill="#30a030" opacity="0.9"/>
<ellipse cx="1563" cy="1108" rx="15" ry="14" fill="#8a2a22" stroke="#d03020" stroke-width="2"/>
<ellipse cx="1573" cy="1108" rx="6" ry="11" fill="#2a3cb8"/>
</g>
<g filter="url(#bl1)">
<ellipse cx="1409.5" cy="1046.5" rx="16" ry="16" fill="#2448a8" stroke="#30c840" stroke-width="2"/>
</g>
</g>
<g clip-path="url(#cJR)">
<rect x="1357" y="1137" width="233" height="210.7" fill="#0c0810"/>
<g filter="url(#bl4)">
<ellipse cx="1580" cy="1210" rx="22" ry="24" fill="#1420b0"/>
<ellipse cx="1539" cy="1259" rx="17" ry="17" fill="#10167a"/>
<ellipse cx="1360" cy="1255" rx="8" ry="22" fill="#101a90"/>
<ellipse cx="1470" cy="1250" rx="18" ry="40" fill="#1a2a10" opacity="0.7"/>
<ellipse cx="1560" cy="1305" rx="30" ry="12" fill="#3a1010" opacity="0.8"/>
<ellipse cx="1365" cy="1165" rx="6" ry="10" fill="#3a1020" opacity="0.8"/>
</g>
<g filter="url(#bl2)" fill="none">
<path d="M1437 1220 L1472 1227 L1507 1183" stroke="#c02818" stroke-width="4"/>
<path d="M1472 1227 L1476 1250 L1484 1272" stroke="#b04018" stroke-width="3.5"/>
<path d="M1437 1220 L1430 1233" stroke="#c02818" stroke-width="3"/>
<path d="M1555 1311 L1590 1299" stroke="#d02818" stroke-width="3"/>
</g>
<g filter="url(#bl1)">
<ellipse cx="1437" cy="1198" rx="11" ry="17" transform="rotate(-8 1437 1198)" fill="#2a6ab4" stroke="#30d040" stroke-width="3"/>
<ellipse cx="1483" cy="1291" rx="12" ry="24" transform="rotate(-35 1483 1291)" fill="#2a6ab4" stroke="#30d040" stroke-width="3"/>
<ellipse cx="1401" cy="1327" rx="20" ry="14" fill="#5030b0" stroke="#d03050" stroke-width="2.5"/>
<ellipse cx="1398" cy="1325" rx="12" ry="10" fill="#3a38c8"/>
</g>
</g>
<g fill="none" stroke="#e8e8e8" stroke-width="1.5">
<rect x="1105.6" y="965" width="57.9" height="50.8"/>
<rect x="1116.2" y="1174.6" width="58.3" height="50.6"/>
</g>
<line x1="1088.3" y1="1118" x2="1173.8" y2="1118" stroke="#fff" stroke-width="3"/>
<line x1="1088.3" y1="1340" x2="1173.8" y2="1340" stroke="#fff" stroke-width="3"/>
<g font-size="24.2" font-weight="bold">
<text x="1087.6" y="939.6" fill="#fff">Virgin</text>
<text x="1087.6" y="1158" fill="#fff">Pregnant</text>
<text x="1378" y="943.5"><tspan fill="#22e040">COX1</tspan> <tspan fill="#e01a1a">ENDO</tspan> <tspan fill="#5a5ae0">DAPI</tspan></text>
</g>
<g font-size="24" font-weight="bold" fill="#000">
<text x="1051.8" y="939.7" font-size="28.5">I</text><text x="1047.6" y="1163" font-size="29.5">J</text>
</g>
<g font-size="24.2" font-weight="bold" fill="#000">
<text x="1619" y="1048.1">KEY:</text>
<text x="1803.5" y="1048.1">Fetal Genotype</text>
<text transform="translate(1638.5,1233.6) rotate(-90)" text-anchor="middle">Maternal Genotype</text>
</g>
<g font-size="24" fill="#000" letter-spacing="-1.5">
<text x="1853.5" y="1075.8" text-anchor="middle">WT</text>
<text x="1933" y="1075.8" text-anchor="middle">Null</text>
<text x="1778.3" y="1105.5" text-anchor="middle">Virgin</text>
<text x="1853.5" y="1105.5" text-anchor="middle">(DLK1+)</text>
<text x="1933" y="1105.5" text-anchor="middle">(DLK1-)</text>
<text x="1691.7" y="1149.4" text-anchor="middle">WT</text>
<text x="1691.7" y="1180.5" text-anchor="middle">(DLK1+)</text>
<text x="1691.7" y="1226.6" text-anchor="middle">Mat</text>
<text x="1691.7" y="1257.5" text-anchor="middle">(DLK1+)</text>
<text x="1691.7" y="1302.7" text-anchor="middle">Null</text>
<text x="1691.7" y="1334" text-anchor="middle">(DLK1-)</text>
</g>
<rect x="1738.7" y="1116.8" width="77.3" height="76.6" fill="#006400" stroke="#000" stroke-width="2"/>
<rect x="1816" y="1116.8" width="77.2" height="76.6" fill="#9ACD32" stroke="#000" stroke-width="2"/>
<rect x="1738.7" y="1193.4" width="77.3" height="76.6" fill="#00008B" stroke="#000" stroke-width="2"/>
<rect x="1816" y="1193.4" width="77.2" height="76.6" fill="#5CACEE" stroke="#000" stroke-width="2"/>
<rect x="1738.7" y="1270" width="77.3" height="76.7" fill="#8B0000" stroke="#000" stroke-width="2"/>
<rect x="1816" y="1270" width="77.2" height="76.7" fill="#FFA500" stroke="#000" stroke-width="2"/>
<rect x="1893.2" y="1193.4" width="76.8" height="76.6" fill="url(#hatch)" stroke="#000" stroke-width="2"/>
<rect x="1893.2" y="1270" width="76.8" height="76.7" fill="url(#hatch)" stroke="#000" stroke-width="2"/>
<g font-size="24" text-anchor="middle">
<text x="1777.3" y="1164.6" fill="#fff">1</text>
<text x="1854.6" y="1164.6" fill="#fff">2</text>
<text x="1777.3" y="1241.2" fill="#fff">6</text>
<text x="1854.6" y="1241.2" fill="#fff">8</text>
<text x="1777.3" y="1317.8" fill="#fff">3</text>
<text x="1854.6" y="1317.8" fill="#fff">5</text>
<text x="1931.6" y="1241.2" fill="#8a8a8a">7</text>
<text x="1931.6" y="1317.8" fill="#8a8a8a">4</text>
</g>
<path d="M1790 1137.5 Q1815.5 1123.5 1841.5 1137.5" fill="none" stroke="#000" stroke-width="2.1"/>
<polygon points="1781.6,1145.2 1788.9,1131.0 1797.5,1142.3" fill="#000"/>
<polygon points="1849.9,1145.2 1842.6,1131.0 1834.1,1142.3" fill="#000"/>
<path d="M1790 1214.1 Q1815.5 1200.1 1841.5 1214.1" fill="none" stroke="#000" stroke-width="2.1"/>
<polygon points="1781.6,1221.8 1788.9,1207.6 1797.5,1218.9" fill="#000"/>
<polygon points="1849.9,1221.8 1842.6,1207.6 1834.1,1218.9" fill="#000"/>
<path d="M1790 1290.7 Q1815.5 1276.7 1841.5 1290.7" fill="none" stroke="#000" stroke-width="2.1"/>
<polygon points="1781.6,1298.4 1788.9,1284.2 1797.5,1295.5" fill="#000"/>
<polygon points="1849.9,1298.4 1842.6,1284.2 1834.1,1295.5" fill="#000"/>
</svg></body></html>
